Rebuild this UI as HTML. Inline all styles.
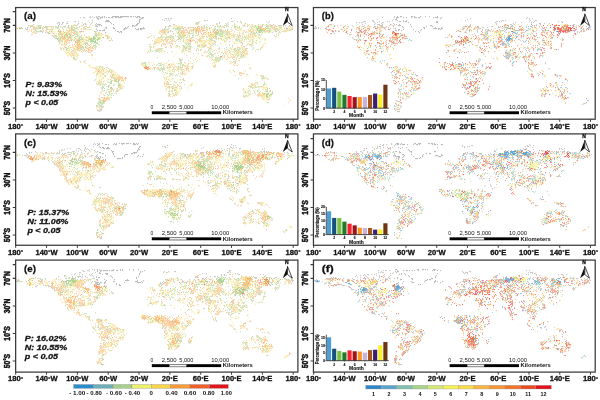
<!DOCTYPE html>
<html><head><meta charset="utf-8"><style>
html,body{margin:0;padding:0;background:#fff;width:600px;height:400px;overflow:hidden}
svg{display:block}
text{font-family:'Liberation Sans', Arial, Helvetica, sans-serif;fill:#111;stroke:#111;stroke-width:0.28px}
.l{stroke:none}
.h{stroke-width:0.42px}
.m{stroke-width:0.12px}
</style></head><body>
<svg width="600" height="400" viewBox="0 0 600 400">
<rect width="600" height="400" fill="#fff"/>
<g stroke-width="1.25" stroke-linecap="round" fill="none"><path d="M168.5 19.5h0m66 1h0m-35 1h0m-2 1h0m-106 1h0m105 0h0m21 0h0m2 0h0m6 0h0m2 0h0m7 0h0m-37 1h0m9 0h0m20 0h0m2 0h0m6 0h0m15 0h0m9 0h0m5 0h0m3 0h0m4 0h0m-239 1h0m7 0h0m2 0h0m1 0h0m30 0h0m2 0h0m2 0h0m135 0h0m7 0h0m3 0h0m4 0h0m2 0h0m1 0h0m7 0h0m10 0h0m8 0h0m2 0h0m12 0h0m1 0h0m11 0h0m-248 1h0m7 0h0m2 0h0m1 0h0m7 0h0m8 0h0m1 0h0m2 0h0m14 0h0m17 0h0m80 0h0m10 0h0m20 0h0m7 0h0m11 0h0m1 0h0m1 0h0m1 0h0m8 0h0m6 0h0m1 0h0m1 0h0m3 0h0m4 0h0m4 0h0m3 0h0m2 0h0m1 0h0m6 0h0m3 0h0m4 0h0m1 0h0m1 0h0m2 0h0m1 0h0m5 0h0m7 0h0m-253 1h0m4 0h0m2 0h0m2 0h0m1 0h0m5 0h0m1 0h0m10 0h0m1 0h0m1 0h0m1 0h0m9 0h0m4 0h0m2 0h0m1 0h0m2 0h0m1 0h0m6 0h0m4 0h0m1 0h0m86 0h0m4 0h0m1 0h0m13 0h0m14 0h0m1 0h0m2 0h0m2 0h0m3 0h0m5 0h0m2 0h0m3 0h0m7 0h0m3 0h0m1 0h0m3 0h0m1 0h0m12 0h0m3 0h0m2 0h0m1 0h0m1 0h0m7 0h0m2 0h0m7 0h0m7 0h0m5 0h0m6 0h0m-258 1h0m1 0h0m1 0h0m1 0h0m1 0h0m1 0h0m1 0h0m2 0h0m1 0h0m3 0h0m1 0h0m6 0h0m4 0h0m1 0h0m11 0h0m3 0h0m2 0h0m1 0h0m1 0h0m5 0h0m4 0h0m11 0h0m79 0h0m1 0h0m1 0h0m1 0h0m1 0h0m1 0h0m14 0h0m12 0h0m3 0h0m6 0h0m24 0h0m2 0h0m10 0h0m5 0h0m11 0h0m1 0h0m1 0h0m3 0h0m2 0h0m1 0h0m1 0h0m8 0h0m2 0h0m-240 1h0m4 0h0m1 0h0m1 0h0m20 0h0m1 0h0m1 0h0m11 0h0m4 0h0m75 0h0m1 0h0m11 0h0m3 0h0m1 0h0m34 0h0m1 0h0m4 0h0m1 0h0m1 0h0m6 0h0m4 0h0m9 0h0m19 0h0m10 0h0m7 0h0m3 0h0m7 0h0m5 0h0m-256 1h0m1 0h0m4 0h0m5 0h0m21 0h0m9 0h0m103 0h0m1 0h0m13 0h0m27 0h0m2 0h0m17 0h0m6 0h0m19 0h0m3 0h0m1 0h0m1 0h0m1 0h0m1 0h0m4 0h0m1 0h0m2 0h0m1 0h0m11 0h0m-253 1h0m1 0h0m1 0h0m1 0h0m35 0h0m1 0h0m1 0h0m4 0h0m86 0h0m15 0h0m10 0h0m2 0h0m23 0h0m5 0h0m1 0h0m2 0h0m29 0h0m5 0h0m2 0h0m1 0h0m2 0h0m3 0h0m13 0h0m4 0h0m2 0h0m-251 1h0m2 0h0m24 0h0m16 0h0m1 0h0m18 0h0m69 0h0m1 0h0m2 0h0m10 0h0m3 0h0m9 0h0m4 0h0m2 0h0m23 0h0m2 0h0m2 0h0m1 0h0m2 0h0m4 0h0m14 0h0m10 0h0m1 0h0m4 0h0m2 0h0m9 0h0m10 0h0m-221 1h0m19 0h0m18 0h0m1 0h0m2 0h0m81 0h0m2 0h0m9 0h0m1 0h0m1 0h0m25 0h0m2 0h0m1 0h0m1 0h0m3 0h0m2 0h0m1 0h0m2 0h0m25 0h0m3 0h0m21 0h0m-220 1h0m1 0h0m10 0h0m5 0h0m1 0h0m1 0h0m1 0h0m18 0h0m2 0h0m1 0h0m80 0h0m1 0h0m1 0h0m2 0h0m11 0h0m22 0h0m4 0h0m1 0h0m1 0h0m1 0h0m3 0h0m2 0h0m21 0h0m2 0h0m4 0h0m4 0h0m1 0h0m2 0h0m17 0h0m-213 1h0m1 0h0m6 0h0m1 0h0m4 0h0m1 0h0m21 0h0m52 0h0m2 0h0m8 0h0m9 0h0m1 0h0m4 0h0m4 0h0m1 0h0m9 0h0m3 0h0m1 0h0m4 0h0m11 0h0m2 0h0m8 0h0m1 0h0m1 0h0m2 0h0m5 0h0m7 0h0m4 0h0m10 0h0m26 0h0m-218 1h0m3 0h0m7 0h0m4 0h0m1 0h0m5 0h0m1 0h0m2 0h0m1 0h0m6 0h0m8 0h0m2 0h0m53 0h0m12 0h0m5 0h0m2 0h0m2 0h0m2 0h0m1 0h0m4 0h0m1 0h0m2 0h0m1 0h0m2 0h0m4 0h0m5 0h0m11 0h0m17 0h0m1 0h0m1 0h0m3 0h0m8 0h0m3 0h0m2 0h0m2 0h0m2 0h0m6 0h0m27 0h0m-219 1h0m2 0h0m2 0h0m20 0h0m1 0h0m14 0h0m3 0h0m4 0h0m7 0h0m39 0h0m10 0h0m1 0h0m1 0h0m2 0h0m3 0h0m1 0h0m1 0h0m1 0h0m2 0h0m3 0h0m5 0h0m2 0h0m1 0h0m2 0h0m9 0h0m19 0h0m5 0h0m10 0h0m2 0h0m14 0h0m5 0h0m-191 1h0m2 0h0m1 0h0m3 0h0m9 0h0m8 0h0m2 0h0m1 0h0m8 0h0m2 0h0m16 0h0m3 0h0m54 0h0m6 0h0m2 0h0m18 0h0m18 0h0m1 0h0m1 0h0m3 0h0m6 0h0m5 0h0m1 0h0m4 0h0m11 0h0m12 0h0m6 0h0m-200 1h0m1 0h0m3 0h0m8 0h0m3 0h0m5 0h0m13 0h0m4 0h0m65 0h0m3 0h0m4 0h0m4 0h0m5 0h0m3 0h0m3 0h0m16 0h0m7 0h0m4 0h0m1 0h0m5 0h0m5 0h0m14 0h0m1 0h0m2 0h0m4 0h0m2 0h0m2 0h0m2 0h0m17 0h0m-207 1h0m1 0h0m1 0h0m1 0h0m7 0h0m19 0h0m6 0h0m17 0h0m2 0h0m54 0h0m10 0h0m7 0h0m9 0h0m19 0h0m1 0h0m2 0h0m25 0h0m2 0h0m9 0h0m6 0h0m-195 1h0m21 0h0m6 0h0m2 0h0m9 0h0m73 0h0m2 0h0m9 0h0m7 0h0m9 0h0m1 0h0m14 0h0m1 0h0m9 0h0m1 0h0m4 0h0m10 0h0m10 0h0m3 0h0m1 0h0m7 0h0m-201 1h0m3 0h0m18 0h0m5 0h0m1 0h0m1 0h0m3 0h0m6 0h0m1 0h0m59 0h0m41 0h0m18 0h0m25 0h0m15 0h0m-196 1h0m5 0h0m20 0h0m1 0h0m8 0h0m3 0h0m71 0h0m5 0h0m13 0h0m3 0h0m1 0h0m1 0h0m22 0h0m2 0h0m42 0h0m9 0h0m-204 1h0m1 0h0m2 0h0m2 0h0m21 0h0m11 0h0m1 0h0m50 0h0m37 0h0m2 0h0m1 0h0m1 0h0m23 0h0m34 0h0m4 0h0m-171 1h0m6 0h0m7 0h0m2 0h0m81 0h0m1 0h0m5 0h0m1 0h0m4 0h0m2 0h0m8 0h0m2 0h0m2 0h0m3 0h0m7 0h0m6 0h0m12 0h0m12 0h0m8 0h0m3 0h0m-188 1h0m4 0h0m9 0h0m8 0h0m8 0h0m3 0h0m53 0h0m28 0h0m2 0h0m4 0h0m3 0h0m2 0h0m1 0h0m1 0h0m1 0h0m6 0h0m1 0h0m1 0h0m4 0h0m7 0h0m22 0h0m11 0h0m8 0h0m-191 1h0m6 0h0m15 0h0m1 0h0m1 0h0m8 0h0m1 0h0m2 0h0m57 0h0m2 0h0m18 0h0m12 0h0m1 0h0m1 0h0m1 0h0m4 0h0m11 0h0m18 0h0m7 0h0m4 0h0m23 0h0m-190 1h0m3 0h0m1 0h0m6 0h0m8 0h0m79 0h0m1 0h0m1 0h0m24 0h0m2 0h0m1 0h0m8 0h0m13 0h0m8 0h0m1 0h0m5 0h0m10 0h0m1 0h0m2 0h0m2 0h0m1 0h0m5 0h0m1 0h0m1 0h0m6 0h0m7 0h0m-197 1h0m8 0h0m3 0h0m6 0h0m4 0h0m66 0h0m6 0h0m2 0h0m1 0h0m37 0h0m4 0h0m8 0h0m18 0h0m7 0h0m1 0h0m1 0h0m3 0h0m6 0h0m8 0h0m6 0h0m-191 1h0m5 0h0m78 0h0m3 0h0m2 0h0m2 0h0m2 0h0m2 0h0m22 0h0m2 0h0m1 0h0m10 0h0m2 0h0m2 0h0m8 0h0m20 0h0m1 0h0m5 0h0m2 0h0m7 0h0m-172 1h0m77 0h0m2 0h0m2 0h0m3 0h0m1 0h0m1 0h0m1 0h0m6 0h0m7 0h0m11 0h0m6 0h0m19 0h0m2 0h0m3 0h0m23 0h0m5 0h0m3 0h0m-168 1h0m13 0h0m121 0h0m1 0h0m11 0h0m8 0h0m5 0h0m3 0h0m1 0h0m3 0h0m2 0h0m-170 1h0m111 0h0m9 0h0m5 0h0m13 0h0m4 0h0m8 0h0m13 0h0m1 0h0m9 0h0m1 0h0m-38 1h0m1 0h0m1 0h0m2 0h0m23 0h0m2 0h0m5 0h0m-166 1h0m134 0h0m1 0h0m6 0h0m4 0h0m2 0h0m11 0h0m2 0h0m1 0h0m3 0h0m-32 1h0m2 0h0m2 0h0m28 0h0m1 0h0m3 0h0m-172 1h0m84 0h0m53 0h0m5 0h0m5 0h0m1 0h0m12 0h0m1 0h0m7 0h0m2 0h0m-170 1h0m1 0h0m141 0h0m1 0h0m1 0h0m1 0h0m1 0h0m1 0h0m2 0h0m17 0h0m-165 1h0m1 0h0m104 0h0m1 0h0m1 0h0m1 0h0m30 0h0m2 0h0m3 0h0m2 0h0m1 0h0m6 0h0m8 0h0m-66 1h0m11 0h0m2 0h0m7 0h0m27 0h0m1 0h0m1 0h0m1 0h0m1 0h0m16 0h0m-155 1h0m4 0h0m96 0h0m16 0h0m22 0h0m13 0h0m2 0h0m1 0h0m1 0h0m-94 1h0m3 0h0m1 0h0m35 0h0m1 0h0m54 0h0m-92 1h0m1 0h0m1 0h0m13 0h0m1 0h0m1 0h0m18 0h0m1 0h0m1 0h0m1 0h0m11 0h0m-51 1h0m4 0h0m12 0h0m3 0h0m2 0h0m1 0h0m17 0h0m2 0h0m1 0h0m5 0h0m-32 1h0m3 0h0m1 0h0m1 0h0m19 0h0m2 0h0m1 0h0m31 0h0m-118 1h0m3 0h0m1 0h0m2 0h0m43 0h0m3 0h0m15 0h0m4 0h0m11 0h0m2 0h0m7 0h0m-88 1h0m3 0h0m4 0h0m55 0h0m3 0h0m3 0h0m3 0h0m6 0h0m3 0h0m1 0h0m1 0h0m11 0h0m-96 1h0m2 0h0m10 0h0m40 0h0m9 0h0m1 0h0m2 0h0m1 0h0m2 0h0m1 0h0m3 0h0m6 0h0m15 0h0m4 0h0m57 0h0m-147 1h0m7 0h0m45 0h0m4 0h0m1 0h0m2 0h0m1 0h0m1 0h0m1 0h0m8 0h0m2 0h0m3 0h0m1 0h0m2 0h0m-71 1h0m50 0h0m1 0h0m2 0h0m19 0h0m-73 1h0m1 0h0m53 0h0m12 0h0m60 0h0m-129 1h0m58 0h0m2 0h0m-68 1h0m6 0h0m63 0h0m1 0h0m2 0h0m2 0h0m1 0h0m6 0h0m-82 1h0m16 0h0m52 0h0m6 0h0m3 0h0m-69 1h0m1 0h0m7 0h0m57 0h0m3 0h0m3 0h0m2 0h0m58 0h0m28 0h0m-158 1h0m7 0h0m149 0h0m1 0h0m1 0h0m-151 1h0m7 0h0m45 0h0m-51 1h0m1 0h0m6 0h0m53 0h0m10 0h0m55 0h0m23 0h0m1 0h0m1 0h0m1 0h0m-169 1h0m13 0h0m6 0h0m52 0h0m2 0h0m12 0h0m-86 1h0m17 0h0m1 0h0m7 0h0m50 0h0m14 0h0m-80 1h0m7 0h0m7 0h0m57 0h0m-65 1h0m9 0h0m46 0h0m4 0h0m7 0h0m4 0h0m2 0h0m75 0h0m1 0h0m7 0h0m-168 1h0m4 0h0m2 0h0m3 0h0m6 0h0m7 0h0m1 0h0m49 0h0m83 0h0m13 0h0m-167 1h0m1 0h0m5 0h0m1 0h0m14 0h0m1 0h0m2 0h0m46 0h0m1 0h0m2 0h0m4 0h0m3 0h0m7 0h0m70 0h0m9 0h0m1 0h0m2 0h0m-166 1h0m4 0h0m4 0h0m1 0h0m4 0h0m60 0h0m79 0h0m11 0h0m-161 1h0m1 0h0m3 0h0m12 0h0m62 0h0m70 0h0m1 0h0m4 0h0m2 0h0m3 0h0m1 0h0m-160 1h0m1 0h0m1 0h0m5 0h0m2 0h0m9 0h0m1 0h0m47 0h0m2 0h0m6 0h0m6 0h0m69 0h0m3 0h0m2 0h0m1 0h0m2 0h0m-154 1h0m6 0h0m1 0h0m1 0h0m5 0h0m3 0h0m2 0h0m44 0h0m3 0h0m12 0h0m67 0h0m4 0h0m-150 1h0m5 0h0m1 0h0m3 0h0m1 0h0m7 0h0m139 0h0m7 0h0m2 0h0m-165 1h0m2 0h0m12 0h0m2 0h0m51 0h0m6 0h0m73 0h0m1 0h0m4 0h0m4 0h0m9 0h0m1 0h0m-159 1h0m1 0h0m4 0h0m4 0h0m51 0h0m3 0h0m1 0h0m4 0h0m78 0h0m3 0h0m1 0h0m7 0h0m1 0h0m6 0h0m-166 1h0m3 0h0m66 0h0m69 0h0m10 0h0m5 0h0m13 0h0m-167 1h0m4 0h0m2 0h0m1 0h0m2 0h0m54 0h0m4 0h0m5 0h0m72 0h0m14 0h0m8 0h0m-164 1h0m2 0h0m1 0h0m60 0h0m6 0h0m73 0h0m1 0h0m9 0h0m5 0h0m4 0h0m-160 1h0m3 0h0m2 0h0m60 0h0m1 0h0m69 0h0m3 0h0m21 0h0m-24 1h0m1 0h0m26 0h0m-172 2h0m11 1h0m-10 1h0m2 0h0m5 0h0m-7 1h0m1 0h0m5 0h0m-7 1h0m1 0h0m1 0h0m1 0h0m1 0h0m1 0h0m1 0h0m163 0h0m1 0h0m-171 1h0m2 0h0m1 0h0m1 0h0m1 0h0m1 0h0m-4 1h0m2 0h0m1 0h0m-6 1h0m1 0h0m2 0h0m1 0h0m1 0h0m-5 1h0m1 0h0m2 0h0m1 0h0m1 0h0m1 1h0m-5 2h0" stroke="#c4dfb5"/><path d="M88.5 20.5h0m178 1h0m-38 1h0m-144 1h0m111 0h0m2 0h0m19 0h0m-142 1h0m12 0h0m110 0h0m20 0h0m1 0h0m30 0h0m5 0h0m10 0h0m7 0h0m-239 1h0m9 0h0m42 0h0m11 0h0m84 0h0m37 0h0m12 0h0m7 0h0m10 0h0m1 0h0m4 0h0m1 0h0m7 0h0m3 0h0m10 0h0m2 0h0m2 0h0m2 0h0m1 0h0m-244 1h0m1 0h0m1 0h0m1 0h0m4 0h0m10 0h0m1 0h0m1 0h0m34 0h0m2 0h0m95 0h0m1 0h0m19 0h0m21 0h0m1 0h0m3 0h0m19 0h0m24 0h0m3 0h0m2 0h0m1 0h0m4 0h0m-263 1h0m17 0h0m2 0h0m7 0h0m4 0h0m1 0h0m23 0h0m2 0h0m12 0h0m5 0h0m92 0h0m1 0h0m2 0h0m1 0h0m4 0h0m1 0h0m1 0h0m8 0h0m4 0h0m20 0h0m14 0h0m22 0h0m2 0h0m10 0h0m1 0h0m1 0h0m6 0h0m1 0h0m-247 1h0m50 0h0m1 0h0m2 0h0m95 0h0m1 0h0m5 0h0m1 0h0m5 0h0m2 0h0m1 0h0m5 0h0m2 0h0m1 0h0m10 0h0m21 0h0m2 0h0m15 0h0m9 0h0m3 0h0m6 0h0m3 0h0m4 0h0m3 0h0m9 0h0m3 0h0m-261 1h0m2 0h0m1 0h0m8 0h0m5 0h0m1 0h0m22 0h0m7 0h0m4 0h0m2 0h0m80 0h0m3 0h0m17 0h0m2 0h0m1 0h0m4 0h0m1 0h0m3 0h0m1 0h0m8 0h0m3 0h0m1 0h0m2 0h0m4 0h0m22 0h0m1 0h0m12 0h0m2 0h0m2 0h0m4 0h0m7 0h0m1 0h0m6 0h0m3 0h0m1 0h0m1 0h0m2 0h0m7 0h0m5 0h0m1 0h0m-261 1h0m2 0h0m21 0h0m8 0h0m7 0h0m3 0h0m1 0h0m1 0h0m2 0h0m86 0h0m1 0h0m1 0h0m1 0h0m1 0h0m1 0h0m15 0h0m1 0h0m1 0h0m1 0h0m1 0h0m1 0h0m1 0h0m1 0h0m2 0h0m1 0h0m1 0h0m6 0h0m2 0h0m6 0h0m2 0h0m6 0h0m3 0h0m4 0h0m2 0h0m1 0h0m4 0h0m5 0h0m5 0h0m6 0h0m5 0h0m1 0h0m1 0h0m3 0h0m2 0h0m25 0h0m5 0h0m2 0h0m1 0h0m2 0h0m-262 1h0m3 0h0m2 0h0m1 0h0m27 0h0m7 0h0m1 0h0m2 0h0m8 0h0m3 0h0m13 0h0m1 0h0m64 0h0m1 0h0m2 0h0m15 0h0m1 0h0m3 0h0m1 0h0m1 0h0m3 0h0m10 0h0m1 0h0m1 0h0m1 0h0m2 0h0m4 0h0m17 0h0m3 0h0m1 0h0m1 0h0m1 0h0m2 0h0m13 0h0m2 0h0m3 0h0m1 0h0m1 0h0m1 0h0m4 0h0m9 0h0m2 0h0m15 0h0m2 0h0m2 0h0m-254 1h0m1 0h0m19 0h0m14 0h0m1 0h0m1 0h0m2 0h0m1 0h0m1 0h0m1 0h0m7 0h0m18 0h0m1 0h0m62 0h0m1 0h0m1 0h0m21 0h0m1 0h0m1 0h0m1 0h0m1 0h0m12 0h0m3 0h0m1 0h0m9 0h0m13 0h0m1 0h0m1 0h0m11 0h0m6 0h0m20 0h0m3 0h0m12 0h0m-230 1h0m11 0h0m2 0h0m5 0h0m3 0h0m2 0h0m1 0h0m1 0h0m1 0h0m74 0h0m9 0h0m4 0h0m1 0h0m1 0h0m12 0h0m5 0h0m1 0h0m1 0h0m5 0h0m9 0h0m5 0h0m1 0h0m3 0h0m4 0h0m3 0h0m14 0h0m3 0h0m2 0h0m9 0h0m8 0h0m2 0h0m1 0h0m-222 1h0m1 0h0m28 0h0m11 0h0m25 0h0m3 0h0m3 0h0m60 0h0m3 0h0m1 0h0m21 0h0m15 0h0m1 0h0m2 0h0m3 0h0m4 0h0m14 0h0m3 0h0m1 0h0m3 0h0m2 0h0m2 0h0m2 0h0m4 0h0m9 0h0m1 0h0m23 0h0m-217 1h0m2 0h0m1 0h0m22 0h0m13 0h0m4 0h0m5 0h0m1 0h0m75 0h0m13 0h0m29 0h0m8 0h0m1 0h0m4 0h0m3 0h0m6 0h0m4 0h0m4 0h0m1 0h0m1 0h0m3 0h0m19 0h0m-224 1h0m1 0h0m5 0h0m3 0h0m2 0h0m41 0h0m2 0h0m61 0h0m2 0h0m8 0h0m20 0h0m3 0h0m4 0h0m4 0h0m4 0h0m14 0h0m21 0h0m6 0h0m21 0h0m-214 1h0m1 0h0m5 0h0m17 0h0m2 0h0m13 0h0m7 0h0m40 0h0m7 0h0m9 0h0m6 0h0m3 0h0m7 0h0m12 0h0m2 0h0m7 0h0m2 0h0m5 0h0m8 0h0m12 0h0m7 0h0m16 0h0m2 0h0m7 0h0m-198 1h0m9 0h0m8 0h0m79 0h0m4 0h0m9 0h0m8 0h0m12 0h0m6 0h0m3 0h0m1 0h0m1 0h0m2 0h0m9 0h0m3 0h0m1 0h0m5 0h0m6 0h0m9 0h0m12 0h0m16 0h0m-206 1h0m4 0h0m2 0h0m2 0h0m2 0h0m2 0h0m2 0h0m4 0h0m5 0h0m30 0h0m44 0h0m7 0h0m4 0h0m1 0h0m3 0h0m4 0h0m12 0h0m1 0h0m1 0h0m1 0h0m1 0h0m3 0h0m4 0h0m1 0h0m25 0h0m16 0h0m12 0h0m1 0h0m-190 1h0m3 0h0m1 0h0m4 0h0m3 0h0m1 0h0m2 0h0m7 0h0m5 0h0m13 0h0m51 0h0m7 0h0m3 0h0m1 0h0m4 0h0m4 0h0m1 0h0m1 0h0m15 0h0m1 0h0m4 0h0m1 0h0m4 0h0m1 0h0m1 0h0m1 0h0m3 0h0m5 0h0m4 0h0m11 0h0m2 0h0m26 0h0m-193 1h0m3 0h0m2 0h0m1 0h0m1 0h0m10 0h0m8 0h0m70 0h0m1 0h0m1 0h0m4 0h0m1 0h0m2 0h0m3 0h0m1 0h0m3 0h0m5 0h0m3 0h0m2 0h0m9 0h0m2 0h0m4 0h0m6 0h0m4 0h0m5 0h0m-146 1h0m1 0h0m1 0h0m2 0h0m1 0h0m9 0h0m1 0h0m78 0h0m1 0h0m1 0h0m7 0h0m2 0h0m1 0h0m2 0h0m17 0h0m2 0h0m5 0h0m9 0h0m48 0h0m-186 1h0m1 0h0m20 0h0m4 0h0m64 0h0m7 0h0m1 0h0m1 0h0m5 0h0m1 0h0m1 0h0m4 0h0m11 0h0m1 0h0m16 0h0m1 0h0m4 0h0m1 0h0m11 0h0m14 0h0m14 0h0m4 0h0m-180 1h0m8 0h0m3 0h0m5 0h0m2 0h0m5 0h0m55 0h0m3 0h0m8 0h0m2 0h0m1 0h0m1 0h0m7 0h0m27 0h0m2 0h0m1 0h0m3 0h0m5 0h0m32 0h0m7 0h0m-180 1h0m3 0h0m7 0h0m2 0h0m80 0h0m4 0h0m5 0h0m28 0h0m4 0h0m1 0h0m2 0h0m1 0h0m40 0h0m-170 1h0m2 0h0m1 0h0m1 0h0m1 0h0m6 0h0m5 0h0m3 0h0m55 0h0m3 0h0m8 0h0m5 0h0m4 0h0m1 0h0m5 0h0m26 0h0m3 0h0m32 0h0m25 0h0m-200 1h0m10 0h0m4 0h0m2 0h0m1 0h0m7 0h0m2 0h0m2 0h0m5 0h0m55 0h0m15 0h0m1 0h0m21 0h0m16 0h0m4 0h0m1 0h0m2 0h0m27 0h0m1 0h0m1 0h0m2 0h0m20 0h0m1 0h0m-202 1h0m1 0h0m7 0h0m6 0h0m3 0h0m2 0h0m1 0h0m6 0h0m2 0h0m2 0h0m1 0h0m1 0h0m1 0h0m2 0h0m55 0h0m8 0h0m1 0h0m24 0h0m7 0h0m40 0h0m12 0h0m-181 1h0m15 0h0m6 0h0m3 0h0m10 0h0m62 0h0m3 0h0m22 0h0m1 0h0m7 0h0m8 0h0m3 0h0m18 0h0m12 0h0m8 0h0m3 0h0m3 0h0m1 0h0m11 0h0m3 0h0m-183 1h0m1 0h0m1 0h0m4 0h0m1 0h0m4 0h0m1 0h0m1 0h0m1 0h0m1 0h0m64 0h0m6 0h0m26 0h0m36 0h0m11 0h0m2 0h0m7 0h0m1 0h0m1 0h0m-174 1h0m2 0h0m1 0h0m6 0h0m2 0h0m2 0h0m2 0h0m1 0h0m3 0h0m69 0h0m36 0h0m8 0h0m1 0h0m14 0h0m6 0h0m1 0h0m1 0h0m6 0h0m4 0h0m2 0h0m3 0h0m2 0h0m2 0h0m-178 1h0m8 0h0m14 0h0m57 0h0m12 0h0m8 0h0m37 0h0m2 0h0m19 0h0m17 0h0m2 0h0m-178 1h0m3 0h0m2 0h0m1 0h0m2 0h0m136 0h0m4 0h0m3 0h0m8 0h0m3 0h0m12 0h0m2 0h0m2 0h0m1 0h0m-176 1h0m3 0h0m4 0h0m15 0h0m1 0h0m120 0h0m14 0h0m5 0h0m1 0h0m1 0h0m14 0h0m-177 1h0m2 0h0m1 0h0m1 0h0m18 0h0m94 0h0m21 0h0m1 0h0m19 0h0m6 0h0m9 0h0m-169 1h0m3 0h0m130 0h0m1 0h0m17 0h0m3 0h0m4 0h0m2 0h0m1 0h0m3 0h0m3 0h0m-44 1h0m16 0h0m4 0h0m2 0h0m6 0h0m4 0h0m2 0h0m2 0h0m4 0h0m4 0h0m-61 1h0m32 0h0m16 0h0m5 0h0m4 0h0m-160 1h0m119 0h0m20 0h0m1 0h0m17 0h0m3 0h0m-151 1h0m108 0h0m18 0h0m2 0h0m25 0h0m1 0h0m-156 1h0m107 0h0m26 0h0m-136 1h0m68 0h0m36 0h0m30 0h0m18 0h0m2 0h0m-149 1h0m81 0h0m19 0h0m3 0h0m24 0h0m18 0h0m4 0h0m1 0h0m-81 1h0m18 0h0m1 0h0m42 0h0m18 0h0m-144 1h0m54 0h0m9 0h0m17 0h0m5 0h0m10 0h0m2 0h0m1 0h0m6 0h0m20 0h0m21 0h0m2 0h0m1 0h0m-68 1h0m1 0h0m2 0h0m3 0h0m2 0h0m5 0h0m2 0h0m1 0h0m3 0h0m25 0h0m1 0h0m-122 1h0m3 0h0m6 0h0m6 0h0m46 0h0m2 0h0m2 0h0m1 0h0m5 0h0m5 0h0m1 0h0m4 0h0m1 0h0m8 0h0m4 0h0m1 0h0m27 0h0m-120 1h0m1 0h0m4 0h0m3 0h0m2 0h0m48 0h0m2 0h0m8 0h0m15 0h0m1 0h0m3 0h0m4 0h0m1 0h0m1 0h0m63 0h0m-154 1h0m1 0h0m1 0h0m2 0h0m3 0h0m3 0h0m4 0h0m40 0h0m19 0h0m6 0h0m6 0h0m1 0h0m1 0h0m3 0h0m1 0h0m1 0h0m-91 1h0m1 0h0m1 0h0m2 0h0m2 0h0m8 0h0m1 0h0m58 0h0m2 0h0m4 0h0m8 0h0m2 0h0m2 0h0m41 0h0m4 0h0m-134 1h0m1 0h0m3 0h0m3 0h0m5 0h0m2 0h0m60 0h0m5 0h0m11 0h0m56 0h0m-148 1h0m2 0h0m1 0h0m8 0h0m2 0h0m1 0h0m69 0h0m5 0h0m54 0h0m1 0h0m1 0h0m-143 1h0m3 0h0m1 0h0m9 0h0m2 0h0m57 0h0m12 0h0m1 0h0m56 0h0m1 0h0m1 0h0m1 0h0m1 0h0m1 0h0m-147 1h0m5 0h0m1 0h0m68 0h0m13 0h0m1 0h0m54 0h0m17 0h0m-160 1h0m4 0h0m10 0h0m7 0h0m2 0h0m51 0h0m70 0h0m1 0h0m19 0h0m1 0h0m-161 1h0m10 0h0m1 0h0m5 0h0m2 0h0m1 0h0m1 0h0m2 0h0m58 0h0m-67 1h0m3 0h0m1 0h0m1 0h0m2 0h0m1 0h0m1 0h0m140 0h0m3 0h0m-162 1h0m14 0h0m1 0h0m3 0h0m1 0h0m2 0h0m1 0h0m1 0h0m46 0h0m-57 1h0m4 0h0m3 0h0m1 0h0m2 0h0m58 0h0m79 0h0m6 0h0m-169 1h0m17 0h0m6 0h0m1 0h0m-25 1h0m1 0h0m2 0h0m6 0h0m7 0h0m1 0h0m8 0h0m-25 1h0m1 0h0m2 0h0m7 0h0m68 0h0m79 0h0m-157 1h0m66 0h0m1 0h0m1 0h0m1 0h0m13 0h0m74 0h0m-154 1h0m1 0h0m1 0h0m4 0h0m58 0h0m2 0h0m3 0h0m22 0h0m60 0h0m1 0h0m1 0h0m4 0h0m-137 1h0m46 0h0m9 0h0m3 0h0m13 0h0m58 0h0m2 0h0m2 0h0m2 0h0m-135 1h0m2 0h0m1 0h0m42 0h0m1 0h0m2 0h0m9 0h0m2 0h0m69 0h0m1 0h0m9 0h0m4 0h0m-144 1h0m50 0h0m3 0h0m3 0h0m77 0h0m1 0h0m11 0h0m3 0h0m-164 1h0m14 0h0m5 0h0m52 0h0m6 0h0m64 0h0m-129 1h0m3 0h0m58 0h0m69 0h0m-134 1h0m1 0h0m2 0h0m4 0h0m49 0h0m6 0h0m71 0h0m-142 1h0m9 0h0m1 0h0m139 0h0m-150 1h0m147 0h0m1 0h0m-147 1h0m15 0h0m53 0h0m6 0h0m77 0h0m3 0h0m3 0h0m1 0h0m-156 1h0m70 0h0m2 0h0m82 0h0m1 0h0m-159 1h0m69 0h0m1 0h0m7 0h0m69 0h0m3 0h0m9 0h0m1 0h0m1 0h0m1 0h0m1 0h0m1 0h0m-163 1h0m8 0h0m61 0h0m2 0h0m2 0h0m73 0h0m2 0h0m11 0h0m-156 1h0m1 0h0m3 0h0m1 0h0m1 0h0m154 0h0m7 0h0m-170 1h0m6 0h0m2 0h0m1 0h0m155 0h0m25 0h0m-190 1h0m1 0h0m1 0h0m4 0h0m1 0h0m1 0h0m1 0h0m1 0h0m-8 1h0m2 0h0m2 0h0m1 0h0m184 0h0m-187 1h0m186 1h0m-190 1h0m0 1h0m4 2h0m-4 1h0m1 0h0m1 1h0m1 0h0m-2 1h0m1 0h0" stroke="#fbd2a6"/><path d="M167.5 20.5h0m33 1h0m41 2h0m-168 1h0m125 0h0m53 0h0m-214 1h0m29 0h0m16 0h0m13 0h0m79 0h0m1 0h0m2 0h0m1 0h0m29 0h0m5 0h0m53 0h0m-213 1h0m9 0h0m110 0h0m4 0h0m1 0h0m1 0h0m1 0h0m2 0h0m22 0h0m22 0h0m25 0h0m2 0h0m5 0h0m24 0h0m1 0h0m7 0h0m1 0h0m1 0h0m2 0h0m-251 1h0m10 0h0m1 0h0m12 0h0m116 0h0m110 0h0m1 0h0m-242 1h0m2 0h0m1 0h0m10 0h0m6 0h0m150 0h0m3 0h0m28 0h0m16 0h0m20 0h0m6 0h0m-242 1h0m17 0h0m18 0h0m3 0h0m1 0h0m2 0h0m1 0h0m87 0h0m14 0h0m20 0h0m29 0h0m13 0h0m27 0h0m6 0h0m-253 1h0m7 0h0m8 0h0m1 0h0m109 0h0m16 0h0m66 0h0m13 0h0m2 0h0m9 0h0m18 0h0m3 0h0m-236 1h0m2 0h0m1 0h0m106 0h0m3 0h0m3 0h0m11 0h0m92 0h0m-214 1h0m7 0h0m1 0h0m3 0h0m14 0h0m17 0h0m63 0h0m33 0h0m4 0h0m13 0h0m10 0h0m2 0h0m-167 1h0m2 0h0m6 0h0m32 0h0m66 0h0m15 0h0m3 0h0m2 0h0m30 0h0m29 0h0m2 0h0m-162 1h0m27 0h0m55 0h0m11 0h0m9 0h0m3 0h0m1 0h0m66 0h0m-193 1h0m123 0h0m17 0h0m4 0h0m4 0h0m22 0h0m14 0h0m9 0h0m1 0h0m1 0h0m-144 1h0m51 0h0m7 0h0m17 0h0m5 0h0m12 0h0m3 0h0m3 0h0m1 0h0m1 0h0m20 0h0m10 0h0m6 0h0m1 0h0m4 0h0m-167 1h0m5 0h0m1 0h0m19 0h0m2 0h0m61 0h0m11 0h0m2 0h0m1 0h0m18 0h0m7 0h0m8 0h0m2 0h0m2 0h0m11 0h0m6 0h0m1 0h0m3 0h0m1 0h0m2 0h0m2 0h0m-181 1h0m9 0h0m1 0h0m6 0h0m1 0h0m2 0h0m1 0h0m1 0h0m12 0h0m58 0h0m1 0h0m1 0h0m6 0h0m6 0h0m17 0h0m40 0h0m8 0h0m3 0h0m5 0h0m1 0h0m1 0h0m3 0h0m-189 1h0m23 0h0m1 0h0m1 0h0m70 0h0m1 0h0m1 0h0m1 0h0m1 0h0m40 0h0m1 0h0m7 0h0m4 0h0m38 0h0m-186 1h0m16 0h0m5 0h0m70 0h0m1 0h0m1 0h0m1 0h0m6 0h0m1 0h0m21 0h0m1 0h0m15 0h0m1 0h0m2 0h0m2 0h0m1 0h0m2 0h0m25 0h0m5 0h0m2 0h0m2 0h0m-184 1h0m21 0h0m76 0h0m1 0h0m38 0h0m1 0h0m6 0h0m3 0h0m1 0h0m4 0h0m21 0h0m5 0h0m1 0h0m2 0h0m3 0h0m5 0h0m8 0h0m-175 1h0m2 0h0m72 0h0m46 0h0m4 0h0m3 0h0m2 0h0m2 0h0m1 0h0m1 0h0m12 0h0m8 0h0m25 0h0m-199 1h0m15 0h0m8 0h0m76 0h0m36 0h0m2 0h0m8 0h0m5 0h0m1 0h0m2 0h0m8 0h0m12 0h0m3 0h0m1 0h0m-174 1h0m2 0h0m11 0h0m6 0h0m74 0h0m48 0h0m5 0h0m2 0h0m14 0h0m4 0h0m11 0h0m12 0h0m10 0h0m-201 1h0m124 0h0m25 0h0m41 0h0m12 0h0m-190 1h0m1 0h0m139 0h0m28 0h0m1 0h0m-178 1h0m5 0h0m4 0h0m1 0h0m102 0h0m4 0h0m29 0h0m2 0h0m31 0h0m2 0h0m-169 1h0m1 0h0m79 0h0m24 0h0m5 0h0m10 0h0m17 0h0m10 0h0m10 0h0m1 0h0m11 0h0m-178 1h0m4 0h0m4 0h0m2 0h0m4 0h0m105 0h0m25 0h0m1 0h0m1 0h0m1 0h0m24 0h0m1 0h0m4 0h0m15 0h0m-190 1h0m2 0h0m2 0h0m5 0h0m5 0h0m2 0h0m99 0h0m1 0h0m28 0h0m4 0h0m2 0h0m23 0h0m16 0h0m-189 1h0m2 0h0m1 0h0m4 0h0m6 0h0m102 0h0m2 0h0m1 0h0m5 0h0m47 0h0m9 0h0m2 0h0m8 0h0m-189 1h0m1 0h0m3 0h0m1 0h0m1 0h0m2 0h0m75 0h0m33 0h0m8 0h0m28 0h0m4 0h0m13 0h0m1 0h0m3 0h0m1 0h0m6 0h0m1 0h0m-170 1h0m120 0h0m29 0h0m1 0h0m3 0h0m8 0h0m1 0h0m2 0h0m-175 1h0m4 0h0m1 0h0m2 0h0m4 0h0m1 0h0m96 0h0m46 0h0m10 0h0m4 0h0m1 0h0m2 0h0m3 0h0m2 0h0m2 0h0m1 0h0m1 0h0m-179 1h0m4 0h0m4 0h0m3 0h0m123 0h0m29 0h0m9 0h0m5 0h0m1 0h0m-177 1h0m148 0h0m6 0h0m13 0h0m9 0h0m-175 1h0m8 0h0m103 0h0m39 0h0m10 0h0m13 0h0m-150 1h0m98 0h0m19 0h0m16 0h0m4 0h0m-156 1h0m22 0h0m104 0h0m28 0h0m-152 1h0m122 0h0m33 0h0m-15 1h0m2 0h0m10 0h0m2 0h0m-145 1h0m59 0h0m10 0h0m8 0h0m2 0h0m50 0h0m-52 1h0m3 0h0m5 0h0m2 0h0m18 0h0m2 0h0m40 0h0m-89 1h0m29 0h0m14 0h0m53 0h0m-96 1h0m4 0h0m17 0h0m1 0h0m1 0h0m6 0h0m-73 1h0m45 0h0m47 0h0m1 0h0m2 0h0m-103 1h0m3 0h0m10 0h0m63 0h0m25 0h0m59 0h0m-71 1h0m-78 1h0m3 0h0m56 0h0m8 0h0m22 0h0m-95 1h0m12 0h0m3 0h0m133 0h0m-148 1h0m1 0h0m6 0h0m5 0h0m3 0h0m59 0h0m14 0h0m5 0h0m-95 1h0m1 0h0m12 0h0m6 0h0m2 0h0m1 0h0m-22 1h0m3 0h0m11 0h0m73 0h0m7 0h0m-73 1h0m2 0h0m1 0h0m129 0h0m-133 1h0m1 0h0m65 0h0m78 0h0m5 0h0m-158 1h0m10 0h0m1 0h0m48 0h0m3 0h0m2 0h0m78 0h0m2 0h0m-152 1h0m6 0h0m1 0h0m12 0h0m50 0h0m1 0h0m1 0h0m99 0h0m-155 1h0m5 0h0m48 0h0m1 0h0m1 0h0m3 0h0m2 0h0m95 0h0m-167 1h0m18 0h0m3 0h0m44 0h0m7 0h0m8 0h0m-75 1h0m2 0h0m19 0h0m40 0h0m0 1h0m1 0h0m4 0h0m2 0h0m-72 1h0m3 0h0m63 0h0m1 0h0m-43 1h0m49 0h0m79 0h0m-81 1h0m2 0h0m-52 1h0m43 0h0m13 0h0m87 0h0m-145 1h0m2 0h0m50 0h0m2 0h0m81 0h0m9 0h0m-142 1h0m1 0h0m48 0h0m2 0h0m1 0h0m15 0h0m66 0h0m7 0h0m3 0h0m1 0h0m2 0h0m-92 1h0m78 0h0m10 0h0m-154 1h0m11 0h0m45 0h0m4 0h0m3 0h0m5 0h0m65 0h0m1 0h0m19 0h0m1 0h0m-157 1h0m65 0h0m6 0h0m3 0h0m66 0h0m13 0h0m-156 1h0m157 0h0m-145 1h0m56 0h0m5 0h0m-68 1h0m68 0h0m68 0h0m2 0h0m14 0h0m2 0h0m-94 1h0m77 0h0m3 0h0m12 0h0m1 0h0m1 0h0m-87 1h0m88 0h0m1 0h0m-154 1h0m150 0h0m1 0h0m1 0h0m2 0h0m-20 1h0m1 0h0m16 0h0m3 0h0m-2 2h0m1 0h0m1 0h0m1 0h0m2 0h0m-169 2h0m168 1h0m-164 3h0m182 0h0m-188 2h0m0 1h0m3 2h0" stroke="#fdebae"/><path d="M79.5 23.5h0m164 0h0m1 0h0m3 0h0m-12 1h0m1 0h0m24 0h0m5 0h0m2 0h0m-238 1h0m36 0h0m4 0h0m3 0h0m101 0h0m64 0h0m19 0h0m1 0h0m2 0h0m10 0h0m-233 1h0m21 0h0m16 0h0m8 0h0m1 0h0m84 0h0m4 0h0m3 0h0m1 0h0m23 0h0m6 0h0m34 0h0m17 0h0m3 0h0m16 0h0m4 0h0m1 0h0m-241 1h0m32 0h0m10 0h0m11 0h0m83 0h0m2 0h0m1 0h0m42 0h0m18 0h0m13 0h0m3 0h0m1 0h0m16 0h0m9 0h0m10 0h0m-229 1h0m7 0h0m4 0h0m7 0h0m3 0h0m85 0h0m4 0h0m41 0h0m1 0h0m23 0h0m4 0h0m2 0h0m13 0h0m1 0h0m1 0h0m16 0h0m7 0h0m1 0h0m2 0h0m-252 1h0m3 0h0m7 0h0m16 0h0m14 0h0m6 0h0m1 0h0m2 0h0m90 0h0m1 0h0m4 0h0m8 0h0m29 0h0m6 0h0m14 0h0m8 0h0m1 0h0m14 0h0m2 0h0m13 0h0m3 0h0m7 0h0m4 0h0m6 0h0m-229 1h0m9 0h0m98 0h0m1 0h0m1 0h0m3 0h0m6 0h0m33 0h0m8 0h0m22 0h0m2 0h0m9 0h0m1 0h0m19 0h0m1 0h0m4 0h0m-249 1h0m16 0h0m2 0h0m9 0h0m1 0h0m2 0h0m13 0h0m3 0h0m4 0h0m90 0h0m50 0h0m2 0h0m6 0h0m5 0h0m9 0h0m3 0h0m6 0h0m22 0h0m2 0h0m1 0h0m-236 1h0m12 0h0m2 0h0m12 0h0m6 0h0m6 0h0m3 0h0m80 0h0m8 0h0m40 0h0m18 0h0m8 0h0m5 0h0m9 0h0m1 0h0m5 0h0m12 0h0m2 0h0m1 0h0m4 0h0m7 0h0m-227 1h0m46 0h0m2 0h0m107 0h0m6 0h0m11 0h0m7 0h0m18 0h0m1 0h0m2 0h0m26 0h0m-214 1h0m15 0h0m6 0h0m20 0h0m69 0h0m33 0h0m1 0h0m21 0h0m3 0h0m1 0h0m2 0h0m8 0h0m-189 1h0m1 0h0m14 0h0m1 0h0m13 0h0m16 0h0m2 0h0m78 0h0m10 0h0m8 0h0m5 0h0m13 0h0m9 0h0m2 0h0m1 0h0m3 0h0m2 0h0m13 0h0m3 0h0m13 0h0m-203 1h0m11 0h0m4 0h0m13 0h0m12 0h0m2 0h0m1 0h0m3 0h0m59 0h0m1 0h0m1 0h0m36 0h0m23 0h0m1 0h0m6 0h0m1 0h0m1 0h0m3 0h0m2 0h0m10 0h0m6 0h0m1 0h0m4 0h0m2 0h0m-189 1h0m1 0h0m5 0h0m1 0h0m4 0h0m8 0h0m59 0h0m4 0h0m8 0h0m53 0h0m9 0h0m1 0h0m1 0h0m6 0h0m1 0h0m5 0h0m12 0h0m2 0h0m2 0h0m1 0h0m2 0h0m1 0h0m1 0h0m2 0h0m15 0h0m-209 1h0m3 0h0m4 0h0m7 0h0m71 0h0m5 0h0m11 0h0m2 0h0m13 0h0m1 0h0m1 0h0m1 0h0m17 0h0m17 0h0m5 0h0m14 0h0m1 0h0m5 0h0m12 0h0m2 0h0m3 0h0m1 0h0m-197 1h0m4 0h0m4 0h0m26 0h0m1 0h0m69 0h0m10 0h0m12 0h0m1 0h0m26 0h0m4 0h0m2 0h0m2 0h0m1 0h0m3 0h0m2 0h0m8 0h0m13 0h0m1 0h0m6 0h0m2 0h0m2 0h0m-201 1h0m18 0h0m1 0h0m72 0h0m6 0h0m1 0h0m13 0h0m6 0h0m2 0h0m2 0h0m1 0h0m36 0h0m1 0h0m1 0h0m30 0h0m1 0h0m3 0h0m3 0h0m4 0h0m-197 1h0m2 0h0m16 0h0m74 0h0m10 0h0m13 0h0m3 0h0m1 0h0m12 0h0m4 0h0m2 0h0m5 0h0m26 0h0m1 0h0m10 0h0m1 0h0m3 0h0m9 0h0m5 0h0m-203 1h0m23 0h0m8 0h0m62 0h0m6 0h0m1 0h0m19 0h0m4 0h0m2 0h0m12 0h0m4 0h0m1 0h0m21 0h0m9 0h0m18 0h0m-186 1h0m15 0h0m1 0h0m1 0h0m75 0h0m1 0h0m38 0h0m4 0h0m2 0h0m5 0h0m34 0h0m6 0h0m4 0h0m2 0h0m5 0h0m5 0h0m1 0h0m-110 1h0m1 0h0m42 0h0m3 0h0m3 0h0m34 0h0m9 0h0m17 0h0m-200 1h0m13 0h0m20 0h0m57 0h0m31 0h0m2 0h0m67 0h0m-190 1h0m20 0h0m68 0h0m3 0h0m21 0h0m3 0h0m7 0h0m2 0h0m13 0h0m1 0h0m62 0h0m-195 1h0m107 0h0m4 0h0m9 0h0m1 0h0m9 0h0m1 0h0m1 0h0m32 0h0m11 0h0m-179 1h0m93 0h0m30 0h0m57 0h0m17 0h0m-183 1h0m71 0h0m13 0h0m23 0h0m1 0h0m2 0h0m39 0h0m1 0h0m4 0h0m8 0h0m-171 1h0m5 0h0m74 0h0m1 0h0m2 0h0m7 0h0m2 0h0m27 0h0m34 0h0m6 0h0m6 0h0m8 0h0m-90 1h0m10 0h0m1 0h0m3 0h0m67 0h0m6 0h0m-173 1h0m20 0h0m76 0h0m11 0h0m4 0h0m5 0h0m20 0h0m23 0h0m7 0h0m1 0h0m-164 1h0m2 0h0m6 0h0m155 0h0m3 0h0m-167 1h0m7 0h0m1 0h0m148 0h0m16 0h0m-171 1h0m23 0h0m114 0h0m8 0h0m12 0h0m11 0h0m4 0h0m-166 1h0m3 0h0m96 0h0m65 0h0m5 0h0m-171 1h0m3 0h0m3 0h0m120 0h0m19 0h0m6 0h0m2 0h0m22 0h0m-171 1h0m136 0h0m1 1h0m1 2h0m22 0h0m12 0h0m-99 1h0m2 0h0m16 0h0m6 0h0m42 0h0m1 0h0m-75 1h0m8 0h0m5 0h0m18 0h0m1 0h0m3 0h0m1 0h0m37 0h0m23 0h0m-148 1h0m54 0h0m1 0h0m2 0h0m1 0h0m28 0h0m12 0h0m25 0h0m36 0h0m1 0h0m-161 1h0m56 0h0m3 0h0m3 0h0m18 0h0m2 0h0m8 0h0m37 0h0m-127 1h0m1 0h0m1 0h0m7 0h0m4 0h0m46 0h0m21 0h0m8 0h0m10 0h0m-95 1h0m6 0h0m1 0h0m2 0h0m50 0h0m1 0h0m21 0h0m18 0h0m-90 1h0m1 0h0m2 0h0m47 0h0m1 0h0m5 0h0m3 0h0m10 0h0m11 0h0m11 0h0m60 0h0m-152 1h0m12 0h0m38 0h0m24 0h0m6 0h0m53 0h0m13 0h0m-145 1h0m2 0h0m2 0h0m63 0h0m1 0h0m1 0h0m2 0h0m3 0h0m4 0h0m5 0h0m8 0h0m-94 1h0m4 0h0m4 0h0m7 0h0m2 0h0m53 0h0m3 0h0m2 0h0m5 0h0m52 0h0m4 0h0m-135 1h0m3 0h0m1 0h0m2 0h0m62 0h0m1 0h0m3 0h0m4 0h0m56 0h0m1 0h0m-132 1h0m1 0h0m4 0h0m11 0h0m47 0h0m22 0h0m-85 1h0m1 0h0m11 0h0m69 0h0m-83 1h0m1 0h0m3 0h0m10 0h0m4 0h0m1 0h0m2 0h0m115 0h0m-134 1h0m4 0h0m6 0h0m4 0h0m4 0h0m4 0h0m143 0h0m-166 1h0m3 0h0m163 0h0m-165 1h0m2 0h0m1 0h0m10 0h0m129 0h0m24 0h0m-169 1h0m4 0h0m1 0h0m1 0h0m65 0h0m9 0h0m89 0h0m2 0h0m-167 1h0m1 0h0m12 0h0m63 0h0m3 0h0m-83 1h0m4 0h0m164 0h0m-168 1h0m1 0h0m23 0h0m4 0h0m68 0h0m-79 1h0m7 0h0m71 0h0m1 0h0m63 0h0m1 0h0m2 0h0m7 0h0m-166 1h0m91 0h0m2 0h0m63 0h0m-156 1h0m77 0h0m13 0h0m1 0h0m75 0h0m-158 1h0m145 0h0m7 0h0m0 1h0m1 0h0m-141 1h0m48 0h0m7 0h0m2 0h0m1 0h0m3 0h0m70 0h0m14 0h0m1 0h0m-89 1h0m4 0h0m8 0h0m61 0h0m10 0h0m-83 1h0m68 0h0m3 0h0m3 0h0m5 0h0m-78 1h0m1 0h0m1 0h0m67 0h0m23 0h0m-164 1h0m72 0h0m1 0h0m1 0h0m87 0h0m3 0h0m-91 1h0m65 0h0m5 0h0m-74 1h0m3 0h0m70 1h0m1 1h0m20 0h0m-158 1h0m152 1h0m2 0h0m26 1h0m0 1h0m-189 1h0m185 1h0m-19 1h0" stroke="#f4f7c0"/><path d="M244.5 24.5h0m-40 2h0m-29 3h0m2 0h0m-128 2h0m185 0h0m-166 3h0m-12 1h0m183 0h0m5 1h0m-158 1h0m159 0h0m-8 2h0m-1 1h0m1 0h0m-52 2h0m30 2h0m-3 1h0m-131 4h0m-8 1h0m117 1h0m-108 1h0m7 0h0m119 1h0m-137 3h0m3 1h0m68 6h0m34 11h0m87 3h0m4 1h0m-168 5h0m2 5h0m144 4h0m-134 5h0m-10 10h0m-1 3h0" stroke="#bcdbdf"/><path d="M74.5 25.5h0m188 3h0m-203 1h0m136 2h0m15 0h0m54 0h0m-82 1h0m26 1h0m-120 3h0m1 0h0m93 0h0m-117 1h0m26 0h0m8 0h0m90 0h0m-112 2h0m6 0h0m5 0h0m-13 6h0m15 1h0m-19 1h0m-2 1h0m75 18h0m-30 11h0m-7 1h0m13 6h0m54 5h0m88 3h0m-89 1h0m92 1h0m5 1h0m-7 1h0m-154 1h0m157 0h0m0 2h0" stroke="#fce286"/><path d="M262.5 25.5h0m-191 1h0m127 0h0m17 0h0m40 0h0m3 0h0m-239 1h0m158 0h0m20 0h0m63 0h0m-3 1h0m1 0h0m8 0h0m-9 1h0m3 0h0m1 0h0m-203 1h0m15 0h0m120 0h0m3 0h0m29 0h0m32 0h0m1 0h0m1 0h0m1 0h0m1 0h0m1 0h0m2 0h0m-206 1h0m2 0h0m34 0h0m119 0h0m5 0h0m2 0h0m39 0h0m-195 1h0m114 0h0m38 0h0m1 0h0m39 0h0m3 0h0m3 0h0m-196 1h0m3 0h0m146 0h0m3 0h0m4 0h0m33 0h0m-190 1h0m151 0h0m1 0h0m-162 1h0m9 0h0m3 0h0m3 0h0m25 0h0m1 0h0m88 0h0m1 0h0m-123 1h0m31 0h0m122 0h0m1 0h0m-152 1h0m3 0h0m2 0h0m5 0h0m5 0h0m14 0h0m1 0h0m9 0h0m83 0h0m-129 1h0m18 0h0m14 0h0m4 0h0m1 0h0m1 0h0m3 0h0m1 0h0m8 0h0m74 0h0m37 0h0m-161 1h0m21 0h0m4 0h0m7 0h0m1 0h0m1 0h0m2 0h0m1 0h0m3 0h0m1 0h0m-27 1h0m7 0h0m1 0h0m11 0h0m1 0h0m1 0h0m3 0h0m2 0h0m-22 1h0m16 0h0m1 0h0m1 0h0m1 0h0m1 0h0m-1 1h0m1 0h0m-18 1h0m2 0h0m7 0h0m11 0h0m-12 1h0m9 1h0m-12 1h0m3 1h0m-2 1h0m-17 1h0m11 0h0m68 16h0m-32 9h0m3 5h0m-1 1h0m3 0h0m-7 1h0m5 0h0m2 0h0m-7 1h0m-1 1h0m4 1h0m4 1h0m1 0h0m-11 1h0m61 0h0m3 2h0m97 0h0m1 2h0m-3 1h0m-3 2h0m3 0h0m1 0h0m4 0h0m-103 1h0m97 0h0m4 0h0m1 0h0m-5 1h0m3 0h0m-3 1h0m1 1h0m-164 4h0" stroke="#a8cf90"/><path d="M260.5 26.5h0m-95 1h0m28 0h0m2 0h0m-124 1h0m-36 1h0m36 0h0m96 0h0m-124 1h0m3 1h0m118 0h0m-111 2h0m120 0h0m-92 2h0m171 1h0m-185 3h0m98 0h0m13 0h0m-109 1h0m8 0h0m164 2h0m9 2h0m-185 1h0m167 0h0m-48 1h0m60 0h0m-174 1h0m119 2h0m41 2h0m-28 4h0m41 0h0m-63 5h0m-12 4h0m1 0h0m23 2h0m23 0h0m-61 1h0m24 0h0m-31 1h0m2 0h0m-1 1h0m34 2h0m0 1h0m0 2h0m65 0h0m-136 3h0m4 1h0m-5 1h0m72 0h0m2 1h0m-17 1h0m100 7h0m-151 3h0m129 0h0" stroke="#f9b79f"/><path d="M261.5 26.5h0m-60 1h0m3 0h0m-187 1h0m180 0h0m1 0h0m1 0h0m3 0h0m57 0h0m1 0h0m3 0h0m-200 1h0m130 0h0m3 0h0m1 0h0m2 0h0m2 0h0m61 0h0m3 0h0m-196 1h0m126 0h0m3 0h0m2 0h0m2 0h0m1 0h0m1 0h0m-153 1h0m8 0h0m4 0h0m126 0h0m7 0h0m19 0h0m-156 1h0m15 0h0m107 0h0m2 0h0m15 0h0m7 0h0m3 0h0m2 0h0m4 0h0m1 0h0m-155 1h0m128 0h0m8 0h0m20 0h0m-155 1h0m1 0h0m4 0h0m1 0h0m3 0h0m128 0h0m12 0h0m1 0h0m2 0h0m-108 1h0m78 0h0m26 0h0m6 0h0m-151 1h0m3 0h0m2 0h0m6 0h0m32 0h0m105 0h0m1 0h0m-152 1h0m152 0h0m-153 1h0m3 0h0m1 0h0m1 0h0m3 0h0m23 0h0m-24 2h0m19 0h0m23 0h0m-32 1h0m1 0h0m1 0h0m108 0h0m-112 1h0m1 0h0m1 0h0m-3 2h0m3 0h0m1 0h0m1 0h0m-2 1h0m1 0h0m11 0h0m-14 1h0m2 1h0m3 0h0m9 0h0m-11 1h0m9 0h0m1 1h0m1 0h0m-3 1h0m33 28h0m-1 1h0m-4 1h0m7 0h0m55 7h0m-7 4h0m101 0h0m-7 3h0m4 0h0m-163 1h0m-3 2h0m3 0h0m0 1h0m2 0h0m163 0h0m-166 1h0m165 0h0m-165 1h0m1 1h0" stroke="#fabb7b"/><path d="M40.5 27.5h0m247 1h0m-73 2h0m3 0h0m-136 1h0m188 0h0m-199 6h0m159 0h0m-164 10h0m155 9h0m1 0h0m-123 15h0m13 16h0" stroke="#f39599"/><path d="M202.5 27.5h0m66 0h0m-247 1h0m237 1h0m9 0h0m-55 1h0m-147 1h0m2 0h0m145 1h0m49 0h0m-202 1h0m5 0h0m1 0h0m2 0h0m33 0h0m-46 1h0m10 0h0m36 0h0m83 0h0m31 0h0m9 0h0m-129 1h0m117 0h0m1 0h0m1 0h0m8 0h0m-163 1h0m3 0h0m12 0h0m25 0h0m-1 1h0m112 0h0m-112 1h0m112 1h0m-129 2h0m3 0h0m-2 3h0m34 30h0m151 15h0m-1 4h0m1 0h0m-1 2h0m6 0h0m-2 1h0m-1 1h0m-159 1h0m157 0h0" stroke="#eef4a1"/><path d="M19.5 28.5h0" stroke="#f8a855"/><path d="M20.5 28.5h0" stroke="#8fc271"/><path d="M164.5 28.5h0m4 0h0m-6 1h0m55 0h0m34 3h0m-13 5h0m-59 1h0m-99 1h0m74 4h0m88 0h0m-38 3h0m-19 2h0m24 0h0m29 2h0m3 4h0m-60 19h0m-9 13h0m2 4h0" stroke="#9fcbe8"/><path d="M201.5 33.5h0m66 63h0" stroke="#9bc9cf"/><path d="M190.5 40.5h0" stroke="#ed6267"/><path d="M146.5 66.5h0m-1 1h0m1 0h0m1 0h0m1 0h0m-1 2h0m-22 8h0" stroke="#f69470"/><path d="M144.5 67.5h0m1 1h0m1 0h0" stroke="#f47647"/><path d="M90.5 16.5h0m2 0h0m4 0h0m-16 1h0m3 0h0m1 0h0m5 0h0m1 0h0m4 0h0m2 0h0m69 1h0m1 0h0m2 0h0m2 0h0m1 0h0m60 0h0m-69 1h0m-70 1h0m72 0h0m5 0h0m35 0h0m1 0h0m2 0h0m-140 1h0m7 0h0m1 0h0m3 0h0m153 0h0m1 0h0m5 0h0m3 0h0m29 0h0m-211 1h0m1 0h0m3 0h0m1 0h0m19 0h0m7 0h0m3 0h0m104 0h0m2 0h0m21 0h0m22 0h0m27 0h0m-211 1h0m2 0h0m3 0h0m4 0h0m1 0h0m11 0h0m7 0h0m11 0h0m102 0h0m47 0h0m-212 1h0m26 0h0m2 0h0m16 0h0m6 0h0m2 0h0m5 0h0m5 0h0m78 0h0m1 0h0m99 0h0m-245 1h0m4 0h0m26 0h0m10 0h0m8 0h0m20 0h0m73 0h0m1 0h0m34 0h0m67 0h0m8 0h0m1 0h0m1 0h0m4 0h0m4 0h0m-246 1h0m2 0h0m1 0h0m5 0h0m2 0h0m7 0h0m3 0h0m1 0h0m1 0h0m3 0h0m11 0h0m6 0h0m10 0h0m1 0h0m69 0h0m3 0h0m-147 1h0m6 0h0m35 0h0m6 0h0m120 0h0m-173 1h0m7 0h0m3 0h0m2 0h0m146 0h0m10 0h0m-157 1h0m1 0h0m69 0h0m196 0h0m-122 1h0m-130 1h0m1 0h0m1 0h0m41 0h0m85 0h0m2 0h0m2 0h0m103 0h0m1 0h0m-234 1h0m3 0h0m2 0h0m1 0h0m120 0h0m104 0h0m-237 1h0m13 0h0m1 0h0m52 0h0m-49 2h0m1 1h0m1 1h0m1 1h0m3 3h0m45 65h0m-2 3h0m-4 1h0m1 0h0m3 0h0m-2 1h0" stroke="#c4c4c4"/><path d="M98.5 16.5h0m1 0h0m3 0h0m2 0h0m8 0h0m1 0h0m1 0h0m1 0h0m1 0h0m1 0h0m1 0h0m2 0h0m1 0h0m1 0h0m1 0h0m1 0h0m1 0h0m1 0h0m1 0h0m1 0h0m2 0h0m1 0h0m2 0h0m2 0h0m2 0h0m1 0h0m1 0h0m-42 1h0m3 0h0m1 0h0m1 0h0m2 0h0m2 0h0m2 0h0m1 0h0m2 0h0m1 0h0m3 0h0m1 0h0m2 0h0m1 0h0m1 0h0m1 0h0m15 0h0m1 0h0m2 0h0m1 0h0m2 0h0m1 0h0m-46 1h0m1 0h0m2 0h0m41 0h0m1 0h0m-44 1h0m41 0h0m1 0h0m-34 1h0m1 0h0m1 0h0m31 0h0m-34 1h0m1 0h0m1 0h0m1 0h0m1 0h0m30 0h0m-29 1h0m29 0h0m-28 1h0m26 0h0m1 0h0m-41 1h0m1 0h0m1 0h0m1 0h0m13 0h0m23 0h0m1 0h0m-38 1h0m2 0h0m31 0h0m1 0h0m2 0h0m1 0h0m-39 1h0m31 0h0m4 0h0m2 0h0m-29 1h0m1 0h0m7 0h0m12 0h0m2 0h0m16 0h0m-37 1h0m7 0h0m1 0h0m10 0h0m1 0h0m1 0h0m9 0h0m3 0h0m2 0h0m1 0h0m1 0h0m1 0h0m1 0h0m-40 1h0m19 0h0m1 0h0m12 0h0m1 0h0m1 0h0m2 0h0m1 0h0m-44 1h0m2 0h0m1 0h0m2 0h0m1 0h0m1 0h0m11 0h0m2 1h0m1 0h0m2 0h0m1 0h0m-16 1h0m14 0h0m2 0h0" stroke="#b4b4b4"/></g>
<rect x="15.65" y="7.55" width="282.25" height="111.65" fill="none" stroke="#3a3a3a" stroke-width="1.25"/>
<text transform="translate(10.15,25.40) scale(1.2,1) rotate(-90)" class="h" font-size="7.0" font-weight="bold" text-anchor="middle" textLength="14.40" lengthAdjust="spacingAndGlyphs">70<tspan font-size="5.6" dy="-0.6">°</tspan><tspan dy="0.6">N</tspan></text>
<text transform="translate(10.15,52.94) scale(1.2,1) rotate(-90)" class="h" font-size="7.0" font-weight="bold" text-anchor="middle" textLength="14.40" lengthAdjust="spacingAndGlyphs">30<tspan font-size="5.6" dy="-0.6">°</tspan><tspan dy="0.6">N</tspan></text>
<text transform="translate(10.15,80.49) scale(1.2,1) rotate(-90)" class="h" font-size="7.0" font-weight="bold" text-anchor="middle" textLength="14.40" lengthAdjust="spacingAndGlyphs">10<tspan font-size="5.6" dy="-0.6">°</tspan><tspan dy="0.6">S</tspan></text>
<text transform="translate(10.15,108.03) scale(1.2,1) rotate(-90)" class="h" font-size="7.0" font-weight="bold" text-anchor="middle" textLength="14.40" lengthAdjust="spacingAndGlyphs">50<tspan font-size="5.6" dy="-0.6">°</tspan><tspan dy="0.6">S</tspan></text>
<path d="M12.75 25.40H15.65M12.75 52.94H15.65M12.75 80.49H15.65M12.75 108.03H15.65M12.75 11.63H15.65" stroke="#3a3a3a" stroke-width="1.1" fill="none"/>
<text x="15.70" y="128.70" font-size="7.0" font-weight="bold" text-anchor="middle" textLength="15.20" lengthAdjust="spacingAndGlyphs">180<tspan font-size="5.6" dy="-0.6">°</tspan><tspan dy="0.6"></tspan></text>
<text x="46.53" y="128.70" font-size="7.0" font-weight="bold" text-anchor="middle" textLength="22.14" lengthAdjust="spacingAndGlyphs">140<tspan font-size="5.6" dy="-0.6">°</tspan><tspan dy="0.6">W</tspan></text>
<text x="77.36" y="128.70" font-size="7.0" font-weight="bold" text-anchor="middle" textLength="22.14" lengthAdjust="spacingAndGlyphs">100<tspan font-size="5.6" dy="-0.6">°</tspan><tspan dy="0.6">W</tspan></text>
<text x="108.20" y="128.70" font-size="7.0" font-weight="bold" text-anchor="middle" textLength="18.05" lengthAdjust="spacingAndGlyphs">60<tspan font-size="5.6" dy="-0.6">°</tspan><tspan dy="0.6">W</tspan></text>
<text x="139.03" y="128.70" font-size="7.0" font-weight="bold" text-anchor="middle" textLength="18.05" lengthAdjust="spacingAndGlyphs">20<tspan font-size="5.6" dy="-0.6">°</tspan><tspan dy="0.6">W</tspan></text>
<text x="169.86" y="128.70" font-size="7.0" font-weight="bold" text-anchor="middle" textLength="16.02" lengthAdjust="spacingAndGlyphs">20<tspan font-size="5.6" dy="-0.6">°</tspan><tspan dy="0.6">E</tspan></text>
<text x="200.69" y="128.70" font-size="7.0" font-weight="bold" text-anchor="middle" textLength="16.02" lengthAdjust="spacingAndGlyphs">60<tspan font-size="5.6" dy="-0.6">°</tspan><tspan dy="0.6">E</tspan></text>
<text x="231.52" y="128.70" font-size="7.0" font-weight="bold" text-anchor="middle" textLength="20.10" lengthAdjust="spacingAndGlyphs">100<tspan font-size="5.6" dy="-0.6">°</tspan><tspan dy="0.6">E</tspan></text>
<text x="262.36" y="128.70" font-size="7.0" font-weight="bold" text-anchor="middle" textLength="20.10" lengthAdjust="spacingAndGlyphs">140<tspan font-size="5.6" dy="-0.6">°</tspan><tspan dy="0.6">E</tspan></text>
<text x="293.19" y="128.70" font-size="7.0" font-weight="bold" text-anchor="middle" textLength="15.20" lengthAdjust="spacingAndGlyphs">180<tspan font-size="5.6" dy="-0.6">°</tspan><tspan dy="0.6"></tspan></text>
<path d="M15.70 119.20V121.80M46.53 119.20V121.80M77.36 119.20V121.80M108.20 119.20V121.80M139.03 119.20V121.80M169.86 119.20V121.80M200.69 119.20V121.80M231.52 119.20V121.80M262.36 119.20V121.80M293.19 119.20V121.80" stroke="#3a3a3a" stroke-width="1" fill="none"/>
<text x="24.05" y="19.15" font-size="9.6" font-weight="bold" textLength="11.90" lengthAdjust="spacingAndGlyphs">(a)</text>
<path d="M287.50 13.75L282.80 25.65L287.50 21.95Z" fill="#111"/>
<path d="M287.50 13.75L292.20 25.65L287.50 21.95Z" fill="#fff" stroke="#111" stroke-width="0.75" stroke-linejoin="round"/>
<text x="286.80" y="11.30" font-size="5.0" font-weight="bold" text-anchor="middle">N</text>
<rect x="151.80" y="111.30" width="69.40" height="2.9" fill="#000"/>
<rect x="169.70" y="111.75" width="16.5" height="2.0" fill="#f4f4f4" stroke="#9a9a9a" stroke-width="0.5"/>
<text x="151.90" y="108.70" class="l" font-size="5.0" text-anchor="middle" fill="#222">0</text>
<text x="169.20" y="108.70" class="l" font-size="5.0" text-anchor="middle" textLength="15.00" lengthAdjust="spacingAndGlyphs" fill="#222">2,500</text>
<text x="186.30" y="108.70" class="l" font-size="5.0" text-anchor="middle" textLength="14.10" lengthAdjust="spacingAndGlyphs" fill="#222">5,000</text>
<text x="220.20" y="108.70" class="l" font-size="5.0" text-anchor="middle" textLength="18.00" lengthAdjust="spacingAndGlyphs" fill="#222">10,000</text>
<text x="222.70" y="114.45" class="l" font-size="5.3" font-weight="bold" textLength="30.20" lengthAdjust="spacingAndGlyphs" fill="#111">Kilometers</text>
<text x="25.60" y="87.10" font-size="7.5" font-weight="bold" font-style="italic" textLength="36.60" lengthAdjust="spacingAndGlyphs">P: 9.83%</text>
<text x="25.60" y="96.10" font-size="7.5" font-weight="bold" font-style="italic" textLength="41.70" lengthAdjust="spacingAndGlyphs">N: 15.53%</text>
<text x="25.60" y="105.10" font-size="7.5" font-weight="bold" font-style="italic" textLength="32.60" lengthAdjust="spacingAndGlyphs">p &lt; 0.05</text>
<g stroke-width="1.25" stroke-linecap="round" fill="none"><path d="M461.5 19.5h0m-72 4h0m-60 2h0m2 0h0m-5 1h0m12 0h0m5 0h0m162 0h0m5 0h0m-172 1h0m8 0h0m128 0h0m108 0h0m-226 1h0m121 0h0m27 0h0m2 0h0m-139 1h0m120 0h0m-148 1h0m3 0h0m35 0h0m3 0h0m110 0h0m9 0h0m-26 1h0m24 0h0m-13 1h0m13 0h0m2 0h0m69 0h0m-175 1h0m10 0h0m95 0h0m1 0h0m31 0h0m-32 1h0m2 0h0m40 0h0m-135 1h0m83 0h0m3 1h0m67 0h0m-64 1h0m20 0h0m16 0h0m-173 1h0m15 0h0m98 0h0m18 1h0m-129 1h0m122 0h0m69 0h0m-84 1h0m76 0h0m-180 1h0m107 0h0m31 0h0m-34 1h0m21 0h0m6 0h0m1 0h0m-99 1h0m51 0h0m1 0h0m1 0h0m48 0h0m-132 1h0m2 0h0m-7 1h0m24 0h0m5 1h0m132 0h0m14 1h0m-175 1h0m22 0h0m12 0h0m-6 1h0m-2 1h0m68 0h0m53 0h0m4 1h0m-141 1h0m20 1h0m116 0h0m8 1h0m29 0h0m-77 2h0m-91 1h0m123 0h0m-124 1h0m20 0h0m124 0h0m-143 1h0m153 0h0m-49 2h0m-92 1h0m80 1h0m5 0h0m1 0h0m-27 2h0m-41 2h0m1 0h0m-11 1h0m77 0h0m70 1h0m-80 1h0m22 0h0m56 0h0m-71 2h0m69 0h0m-146 1h0m14 0h0m-12 1h0m72 0h0m-57 2h0m13 1h0m-5 1h0m48 0h0m11 0h0m-64 1h0m10 2h0m128 1h0m-153 1h0m84 0h0m69 0h0m13 0h0m-159 2h0m11 0h0m136 0h0m-6 1h0m7 0h0m-6 1h0m17 0h0m-90 1h0m74 0h0m-137 1h0m5 0h0m132 0h0m-3 1h0m1 0h0m-1 1h0m-130 1h0m63 0h0m-5 1h0m-2 1h0m90 0h0m-157 1h0m139 0h0m21 2h0" stroke="#fbeda1"/><path d="M497.5 21.5h0m64 0h0m-180 4h0m145 1h0m60 0h0m4 0h0m-264 1h0m157 0h0m15 0h0m-184 1h0m1 0h0m1 0h0m186 0h0m9 0h0m7 0h0m24 0h0m38 0h0m8 0h0m-247 1h0m144 0h0m19 0h0m79 0h0m-101 1h0m20 0h0m3 0h0m12 0h0m58 0h0m8 0h0m-248 1h0m57 0h0m85 0h0m21 0h0m6 0h0m-137 1h0m5 0h0m93 0h0m21 0h0m31 0h0m62 0h0m-105 1h0m-76 1h0m4 0h0m78 0h0m6 0h0m44 0h0m-26 1h0m-146 1h0m6 0h0m22 0h0m14 0h0m85 0h0m1 0h0m-128 1h0m87 0h0m39 0h0m1 0h0m-78 1h0m144 0h0m-195 1h0m4 0h0m32 0h0m82 0h0m12 0h0m76 0h0m-27 1h0m-177 1h0m23 0h0m112 0h0m0 1h0m14 0h0m38 0h0m-165 1h0m128 0h0m-127 1h0m125 0h0m2 0h0m1 0h0m-129 3h0m84 0h0m60 0h0m-144 1h0m143 0h0m-13 1h0m15 0h0m30 0h0m3 0h0m-192 1h0m117 0h0m23 0h0m6 0h0m14 0h0m7 0h0m-65 1h0m39 1h0m2 0h0m4 0h0m8 0h0m-16 1h0m1 1h0m4 0h0m15 0h0m-17 1h0m33 0h0m-33 1h0m34 0h0m-36 1h0m3 0h0m16 0h0m-143 3h0m128 0h0m15 0h0m-150 1h0m151 0h0m-82 1h0m89 0h0m12 0h0m0 1h0m-89 1h0m26 0h0m0 1h0m-38 1h0m20 2h0m21 0h0m64 0h0m-150 1h0m64 0h0m14 0h0m-17 1h0m8 0h0m6 0h0m-77 1h0m-3 1h0m91 0h0m-89 1h0m87 0h0m1 0h0m-88 1h0m12 0h0m56 0h0m75 0h0m3 0h0m-76 1h0m4 0h0m87 1h0m-165 1h0m83 1h0m-67 2h0m159 0h0m-12 2h0m9 2h0m-11 1h0m-76 1h0m-58 1h0m138 0h0m3 0h0m1 0h0m4 0h0m1 0h0m-168 1h0m5 0h0m164 0h0m-167 1h0m1 0h0m12 0h0m-14 1h0m14 0h0m2 0h0m132 0h0m17 0h0m-162 3h0m140 0h0m28 0h0m-170 1h0m144 0h0m1 0h0m15 1h0m-162 1h0m8 0h0m64 0h0m90 0h0m-152 1h0m160 0h0m-171 4h0m2 0h0m-1 3h0m-1 3h0" stroke="#a9cfe4"/><path d="M529.5 21.5h0m4 1h0m-2 1h0m5 1h0m-24 2h0m-138 1h0m97 0h0m4 0h0m115 0h0m-197 1h0m130 0h0m66 0h0m-126 1h0m23 0h0m55 0h0m-75 1h0m19 0h0m2 0h0m-115 1h0m97 0h0m74 0h0m-210 1h0m144 0h0m8 0h0m2 0h0m28 0h0m6 0h0m2 0h0m-38 1h0m-127 1h0m126 0h0m3 0h0m29 0h0m-1 1h0m-27 3h0m-91 1h0m90 0h0m14 0h0m28 0h0m4 0h0m9 0h0m18 0h0m-82 2h0m23 0h0m-122 1h0m17 0h0m61 0h0m67 0h0m-143 1h0m74 0h0m28 0h0m18 0h0m4 0h0m-4 1h0m3 0h0m26 0h0m-61 1h0m6 0h0m22 0h0m5 0h0m1 0h0m3 0h0m-10 1h0m-128 1h0m78 0h0m49 0h0m32 0h0m-146 1h0m104 0h0m27 1h0m-129 1h0m-1 1h0m5 0h0m75 0h0m43 0h0m-44 1h0m-6 1h0m51 0h0m3 0h0m-134 1h0m108 0h0m25 0h0m22 0h0m-13 1h0m8 0h0m3 0h0m15 0h0m-26 1h0m-12 1h0m12 0h0m2 0h0m10 0h0m-50 1h0m34 0h0m11 0h0m-45 1h0m47 0h0m-153 1h0m11 0h0m94 0h0m1 0h0m0 1h0m34 0h0m1 0h0m-2 1h0m-49 1h0m68 0h0m-53 1h0m3 1h0m-39 1h0m86 0h0m-126 4h0m57 0h0m-56 1h0m1 0h0m123 0h0m5 0h0m11 0h0m-58 2h0m53 0h0m-56 1h0m72 0h0m-159 2h0m11 1h0m0 1h0m72 0h0m81 0h0m-88 3h0m-55 1h0m-12 2h0m63 0h0m-67 2h0m64 0h0m1 2h0m77 0h0m-128 1h0m-9 1h0m71 1h0m86 0h0m-88 1h0m87 0h0m8 1h0m-167 1h0m71 0h0m-67 4h0m159 5h0m18 0h0m0 1h0m-186 1h0m-2 1h0m3 1h0m0 2h0" stroke="#bdded6"/><path d="M495.5 22.5h0m44 1h0m-149 1h0m141 0h0m-27 1h0m8 0h0m24 0h0m-202 1h0m25 0h0m107 0h0m42 0h0m20 0h0m3 0h0m23 0h0m-172 1h0m3 0h0m93 0h0m27 0h0m1 0h0m1 0h0m25 0h0m56 0h0m-81 1h0m21 0h0m15 0h0m38 0h0m-93 1h0m-129 1h0m130 0h0m27 0h0m3 0h0m4 0h0m4 0h0m16 0h0m-187 1h0m131 0h0m38 0h0m8 0h0m-174 1h0m9 1h0m147 0h0m1 0h0m-159 1h0m23 0h0m21 0h0m109 0h0m13 0h0m13 1h0m-77 1h0m58 0h0m-70 1h0m57 0h0m33 0h0m-131 1h0m77 0h0m-124 1h0m36 0h0m14 0h0m93 0h0m3 0h0m1 0h0m12 0h0m-107 1h0m46 0h0m69 0h0m16 0h0m-177 1h0m35 0h0m104 0h0m2 0h0m17 0h0m2 0h0m3 0h0m-26 1h0m1 0h0m-115 1h0m5 0h0m1 0h0m108 0h0m2 0h0m34 0h0m23 0h0m-59 1h0m1 0h0m39 0h0m-163 1h0m158 0h0m7 0h0m-49 1h0m-16 1h0m1 0h0m14 0h0m44 1h0m-1 1h0m1 0h0m2 0h0m-173 1h0m80 0h0m90 0h0m-8 1h0m-23 1h0m2 1h0m-140 1h0m141 0h0m-2 1h0m3 0h0m-6 1h0m2 0h0m3 0h0m14 0h0m-156 1h0m140 0h0m9 0h0m-9 1h0m-27 1h0m32 0h0m-132 2h0m82 1h0m51 0h0m-1 1h0m-49 1h0m23 2h0m-95 1h0m2 0h0m72 0h0m12 0h0m9 0h0m3 1h0m-93 2h0m74 1h0m-79 1h0m69 0h0m12 0h0m5 0h0m-17 1h0m-48 1h0m3 0h0m-23 1h0m25 0h0m140 0h0m2 0h0m-154 1h0m2 1h0m60 0h0m6 0h0m2 4h0m-69 1h0m8 0h0m59 0h0m83 0h0m6 0h0m-161 3h0m72 1h0m74 1h0m-80 1h0m12 0h0m-62 1h0m57 1h0m4 0h0m-80 2h0m10 0h0m56 0h0m8 4h0m-72 1h0m0 3h0m187 0h0m1 0h0m-187 2h0m183 1h0" stroke="#91c0e2"/><path d="M531.5 22.5h0m9 1h0m0 1h0m-160 1h0m128 0h0m24 0h0m15 0h0m21 0h0m4 0h0m-103 1h0m1 0h0m50 0h0m-163 1h0m31 0h0m89 0h0m22 0h0m23 0h0m20 0h0m2 0h0m-186 1h0m1 0h0m8 0h0m113 0h0m-115 1h0m24 0h0m88 0h0m14 0h0m28 0h0m2 0h0m1 0h0m23 0h0m-177 1h0m8 0h0m82 0h0m13 0h0m17 0h0m15 0h0m15 0h0m8 0h0m6 0h0m1 0h0m9 0h0m39 0h0m-216 1h0m9 0h0m82 0h0m36 0h0m91 0h0m-226 1h0m8 0h0m176 0h0m1 0h0m2 0h0m3 0h0m19 0h0m1 0h0m-167 1h0m87 0h0m45 0h0m14 0h0m-163 1h0m66 0h0m33 0h0m60 0h0m5 0h0m5 0h0m-195 1h0m36 0h0m11 0h0m129 0h0m1 0h0m10 0h0m7 0h0m6 0h0m-158 1h0m5 0h0m2 0h0m58 0h0m9 0h0m15 0h0m11 0h0m2 0h0m33 0h0m1 0h0m-167 1h0m21 0h0m3 0h0m1 0h0m2 0h0m2 0h0m1 0h0m5 0h0m63 0h0m10 0h0m11 0h0m12 0h0m2 0h0m31 0h0m14 0h0m5 0h0m-161 1h0m96 0h0m1 0h0m14 0h0m33 0h0m9 0h0m19 0h0m-166 1h0m69 0h0m20 0h0m13 0h0m1 0h0m35 0h0m1 0h0m28 0h0m-207 1h0m2 0h0m2 0h0m6 0h0m4 0h0m120 0h0m10 0h0m62 0h0m-173 1h0m1 0h0m72 0h0m34 0h0m2 0h0m1 0h0m3 0h0m48 0h0m-193 1h0m21 0h0m8 0h0m69 0h0m6 0h0m2 0h0m35 0h0m1 0h0m11 0h0m-50 1h0m1 0h0m36 0h0m31 0h0m23 0h0m-160 1h0m68 0h0m46 0h0m16 0h0m18 0h0m7 0h0m15 0h0m-167 1h0m69 0h0m54 0h0m16 0h0m2 0h0m26 0h0m-175 1h0m4 0h0m58 0h0m46 0h0m67 0h0m-203 1h0m131 0h0m16 0h0m30 0h0m5 0h0m11 0h0m-184 1h0m129 0h0m19 0h0m4 0h0m14 0h0m11 0h0m6 0h0m1 0h0m-32 1h0m14 0h0m-165 1h0m117 0h0m59 0h0m-177 1h0m87 0h0m-81 1h0m2 0h0m91 0h0m78 0h0m-169 1h0m156 0h0m9 0h0m-11 2h0m-157 1h0m157 0h0m10 0h0m-27 1h0m3 0h0m-76 1h0m67 0h0m2 0h0m26 0h0m-58 3h0m-89 2h0m60 0h0m2 0h0m3 0h0m1 0h0m5 0h0m12 0h0m4 0h0m15 0h0m1 0h0m39 0h0m-85 1h0m7 0h0m10 0h0m6 0h0m63 0h0m-78 1h0m8 1h0m22 0h0m6 0h0m-40 1h0m26 0h0m13 0h0m-42 1h0m6 0h0m12 0h0m27 0h0m39 0h0m-76 1h0m-60 1h0m16 0h0m1 0h0m66 0h0m4 0h0m-1 1h0m3 0h0m-69 1h0m48 0h0m10 0h0m4 0h0m5 0h0m1 0h0m1 1h0m-16 1h0m65 0h0m-132 1h0m3 0h0m153 0h0m-161 1h0m2 0h0m76 0h0m-77 1h0m2 0h0m14 0h0m122 0h0m-139 1h0m2 0h0m3 0h0m11 0h0m4 0h0m66 0h0m85 0h0m-154 1h0m1 0h0m5 0h0m148 0h0m1 0h0m-173 1h0m1 0h0m8 0h0m11 0h0m5 0h0m2 0h0m-8 1h0m3 0h0m1 0h0m-13 1h0m3 1h0m12 0h0m50 0h0m6 0h0m1 0h0m-5 1h0m4 0h0m4 0h0m-7 1h0m1 0h0m-57 1h0m-4 1h0m54 0h0m12 0h0m-60 1h0m2 0h0m47 0h0m8 0h0m3 0h0m81 0h0m-159 1h0m72 0h0m72 0h0m21 0h0m-93 1h0m6 0h0m64 0h0m3 0h0m-73 1h0m2 0h0m4 0h0m87 0h0m-160 1h0m159 0h0m-158 1h0m156 0h0m-87 2h0m87 0h0m1 0h0m3 0h0m-3 2h0m1 0h0m4 0h0m-3 1h0m1 0h0m1 0h0m-166 1h0m164 0h0m-168 1h0m4 2h0m-5 1h0m1 1h0m2 1h0m-1 4h0" stroke="#f4a189"/><path d="M562.5 22.5h0m-7 3h0m3 0h0m6 0h0m3 0h0m0 1h0m-6 1h0m5 0h0m1 0h0m-191 1h0m181 0h0m2 0h0m1 0h0m1 0h0m5 0h0m3 0h0m-55 1h0m45 0h0m2 0h0m4 0h0m1 0h0m1 0h0m-22 1h0m14 0h0m4 0h0m1 0h0m2 0h0m1 1h0m1 0h0m-17 1h0m2 0h0m-157 1h0m2 0h0m-3 2h0m114 0h0m44 0h0m-88 2h0m92 0h0m-186 1h0m93 0h0m-1 1h0m4 0h0m-1 1h0m-11 1h0m4 0h0m5 0h0m6 0h0m-11 1h0m9 0h0m-99 1h0m10 0h0m4 0h0m62 19h0m5 2h0m9 0h0m-8 1h0m2 0h0m-7 1h0m4 0h0m-6 1h0m18 0h0m-17 2h0m1 0h0m4 0h0m20 13h0m5 0h0m-6 1h0m2 0h0m-6 2h0m8 0h0m77 0h0m5 2h0m3 2h0m-86 1h0m3 1h0m85 0h0m7 0h0m-18 3h0m16 3h0" stroke="#f07e5d"/><path d="M356.5 23.5h0m1 1h0m191 0h0m15 0h0m3 0h0m-231 1h0m23 1h0m25 0h0m195 0h0m2 0h0m1 0h0m-220 1h0m5 0h0m2 0h0m1 0h0m132 0h0m-121 1h0m91 0h0m5 0h0m59 0h0m-3 1h0m1 0h0m-197 2h0m135 0h0m44 0h0m5 1h0m-151 1h0m123 0h0m16 0h0m-145 2h0m35 0h0m52 0h0m35 0h0m22 0h0m-113 1h0m53 0h0m55 0h0m24 0h0m-162 1h0m119 0h0m14 0h0m30 0h0m20 0h0m-188 1h0m39 0h0m3 0h0m94 0h0m51 0h0m-64 1h0m65 0h0m-56 1h0m2 0h0m-136 1h0m146 0h0m26 0h0m15 0h0m-14 1h0m19 0h0m-185 2h0m129 0h0m-19 1h0m-114 1h0m1 0h0m115 0h0m4 0h0m6 2h0m-120 1h0m1 0h0m6 0h0m123 0h0m-127 1h0m111 0h0m35 0h0m3 1h0m0 1h0m27 1h0m-171 1h0m16 0h0m128 0h0m11 0h0m-164 1h0m24 0h0m127 0h0m-141 2h0m122 0h0m21 0h0m2 0h0m-149 1h0m4 0h0m16 0h0m87 0h0m51 2h0m-149 2h0m150 1h0m-90 1h0m3 0h0m22 0h0m63 0h0m-70 1h0m-53 2h0m54 0h0m70 0h0m-137 1h0m14 0h0m-11 1h0m1 0h0m12 0h0m57 0h0m-70 1h0m10 0h0m1 0h0m80 0h0m-22 1h0m67 0h0m-3 1h0m-114 2h0m66 1h0m-7 1h0m83 0h0m-163 6h0m25 0h0m-11 5h0m-6 1h0m162 0h0m-94 1h0m5 0h0m93 0h0m-97 1h0m3 0h0m2 0h0m81 0h0m-16 1h0m-126 2h0m127 0h0m-135 4h0m-10 5h0m168 0h0m-165 1h0m-2 3h0m1 4h0" stroke="#faf7a9"/><path d="M375.5 23.5h0m16 1h0m127 0h0m-184 1h0m171 0h0m16 0h0m62 0h0m-213 1h0m169 0h0m2 0h0m-176 1h0m13 0h0m1 0h0m1 0h0m88 0h0m1 0h0m7 0h0m27 0h0m1 0h0m35 0h0m-219 1h0m26 0h0m1 0h0m22 0h0m8 0h0m2 0h0m116 0h0m-153 1h0m14 0h0m2 0h0m21 0h0m1 0h0m86 0h0m1 0h0m6 0h0m57 0h0m52 0h0m-244 1h0m43 0h0m76 0h0m36 0h0m3 0h0m32 0h0m-169 1h0m20 0h0m1 0h0m116 0h0m-120 1h0m88 0h0m60 0h0m-167 1h0m160 0h0m-152 1h0m86 1h0m27 0h0m5 0h0m35 0h0m-34 1h0m64 1h0m25 0h0m-210 1h0m29 0h0m1 0h0m2 0h0m9 0h0m78 0h0m2 0h0m42 0h0m24 0h0m-195 1h0m124 0h0m2 0h0m9 0h0m29 0h0m17 0h0m-165 1h0m20 0h0m1 0h0m4 0h0m60 0h0m22 0h0m9 0h0m33 0h0m10 0h0m-58 1h0m79 0h0m-157 1h0m9 0h0m82 0h0m62 0h0m-8 1h0m-159 1h0m70 0h0m3 0h0m8 0h0m-15 1h0m1 0h0m41 0h0m59 0h0m-171 2h0m155 0h0m-40 1h0m48 0h0m-79 2h0m-83 1h0m166 1h0m-177 1h0m10 0h0m135 0h0m1 0h0m1 0h0m2 0h0m-150 1h0m4 0h0m145 0h0m-3 1h0m-26 1h0m40 0h0m-29 1h0m12 0h0m3 0h0m28 0h0m-46 1h0m4 1h0m11 0h0m-23 4h0m47 1h0m-82 1h0m-55 1h0m138 0h0m-133 2h0m57 0h0m-55 1h0m4 0h0m136 1h0m-65 1h0m-71 2h0m5 0h0m66 0h0m7 1h0m-80 1h0m140 0h0m12 0h0m4 0h0m1 0h0m-165 2h0m12 1h0m-5 1h0m2 0h0m17 0h0m54 0h0m6 0h0m0 1h0m-83 3h0m156 0h0m-141 1h0m51 0h0m-49 1h0m-11 1h0m11 0h0m-4 1h0m64 0h0m-60 1h0m59 0h0m2 1h0m89 0h0m-6 1h0m-161 1h0m1 0h0m-3 2h0m3 0h0m146 0h0m-5 1h0m1 0h0m1 0h0m-137 1h0m65 1h0m-73 1h0m163 1h0m-165 10h0m3 0h0" stroke="#fac896"/><path d="M504.5 24.5h0m2 0h0m-114 1h0m75 0h0m2 0h0m37 0h0m-153 1h0m222 0h0m-217 1h0m1 0h0m16 0h0m145 1h0m-175 1h0m178 0h0m-177 1h0m155 0h0m19 0h0m2 0h0m-175 1h0m138 0h0m15 0h0m1 0h0m31 0h0m10 0h0m-187 1h0m20 0h0m2 0h0m166 0h0m-185 1h0m-7 1h0m12 0h0m18 0h0m1 0h0m119 0h0m49 0h0m-194 1h0m130 0h0m-91 1h0m2 0h0m86 0h0m17 0h0m-96 1h0m-10 1h0m9 0h0m149 0h0m-99 1h0m-72 1h0m101 0h0m29 0h0m11 0h0m6 0h0m18 0h0m-150 1h0m116 0h0m22 0h0m-165 1h0m146 0h0m14 0h0m9 0h0m25 1h0m-194 1h0m23 0h0m151 0h0m2 0h0m3 0h0m-72 1h0m17 0h0m1 0h0m1 0h0m-125 1h0m12 0h0m6 0h0m61 0h0m48 0h0m26 0h0m-162 1h0m25 0h0m115 0h0m24 0h0m12 0h0m-81 1h0m-70 1h0m68 0h0m6 0h0m94 0h0m-190 1h0m135 0h0m14 0h0m-135 1h0m79 0h0m1 0h0m68 0h0m-162 2h0m8 0h0m146 0h0m-34 1h0m-110 1h0m131 0h0m21 1h0m-2 1h0m2 0h0m1 0h0m1 0h0m-9 1h0m7 0h0m-71 6h0m-15 1h0m8 0h0m9 0h0m76 0h0m-136 1h0m7 0h0m51 0h0m-60 1h0m2 0h0m58 0h0m6 0h0m-65 1h0m1 1h0m1 0h0m87 0h0m-88 1h0m1 0h0m10 0h0m55 0h0m-64 1h0m76 0h0m9 0h0m-87 1h0m2 0h0m1 0h0m1 0h0m-4 1h0m67 0h0m-57 1h0m6 0h0m47 0h0m70 0h0m-70 1h0m23 0h0m61 1h0m-146 2h0m66 0h0m-44 3h0m58 0h0m-63 1h0m2 0h0m-3 1h0m2 0h0m140 0h0m-141 1h0m47 0h0m94 0h0m1 0h0m-1 1h0m-4 1h0m-140 2h0m76 0h0m-77 1h0m129 0h0m-73 2h0m80 0h0m-147 1h0m69 0h0m90 0h0m-161 1h0m73 0h0m1 0h0m-74 1h0m5 0h0m2 0h0m3 0h0m151 0h0m-156 1h0m161 1h0m-162 1h0m161 2h0m2 3h0m20 1h0m-4 1h0m-182 1h0" stroke="#fbd99c"/><path d="M505.5 24.5h0m2 1h0m27 0h0m39 0h0m-245 1h0m137 0h0m3 0h0m9 0h0m25 0h0m17 0h0m43 0h0m11 0h0m6 0h0m-236 1h0m219 0h0m14 0h0m5 0h0m8 0h0m-264 1h0m8 0h0m30 0h0m5 0h0m7 0h0m20 0h0m68 0h0m11 0h0m113 0h0m-258 1h0m22 0h0m10 0h0m8 0h0m19 0h0m118 0h0m69 0h0m1 0h0m10 0h0m2 0h0m-260 1h0m4 0h0m3 0h0m9 0h0m7 0h0m9 0h0m4 0h0m2 0h0m103 0h0m28 0h0m24 0h0m27 0h0m14 0h0m11 0h0m1 0h0m-242 1h0m1 0h0m13 0h0m14 0h0m1 0h0m2 0h0m97 0h0m21 0h0m83 0h0m-218 1h0m12 0h0m3 0h0m31 0h0m90 0h0m81 0h0m2 0h0m-234 1h0m181 0h0m9 0h0m15 0h0m15 0h0m23 0h0m1 0h0m-209 1h0m28 0h0m10 0h0m77 0h0m18 0h0m42 0h0m34 0h0m-217 1h0m2 0h0m8 0h0m14 0h0m14 0h0m5 0h0m1 0h0m73 0h0m46 0h0m6 0h0m15 0h0m16 0h0m-198 1h0m19 0h0m2 0h0m70 0h0m7 0h0m63 0h0m2 0h0m22 0h0m-151 1h0m2 0h0m6 0h0m65 0h0m33 0h0m28 0h0m-131 1h0m5 0h0m3 0h0m66 0h0m27 0h0m29 0h0m2 0h0m3 0h0m-132 1h0m-36 1h0m25 0h0m10 0h0m102 0h0m42 0h0m-152 1h0m2 0h0m6 0h0m101 0h0m37 0h0m11 0h0m-156 1h0m1 0h0m7 0h0m56 0h0m27 0h0m5 0h0m56 0h0m-180 1h0m120 0h0m2 0h0m17 0h0m42 0h0m-159 1h0m86 0h0m22 0h0m6 0h0m50 0h0m-175 1h0m10 0h0m99 1h0m2 0h0m12 0h0m1 0h0m-140 1h0m28 0h0m111 0h0m44 0h0m-62 1h0m2 0h0m61 0h0m-62 1h0m3 0h0m57 0h0m15 0h0m-181 1h0m73 0h0m6 0h0m56 0h0m31 0h0m-175 1h0m15 0h0m107 0h0m32 0h0m-149 1h0m3 0h0m72 0h0m13 0h0m5 0h0m17 0h0m1 0h0m23 0h0m9 0h0m1 0h0m27 0h0m-35 1h0m29 0h0m1 0h0m5 0h0m-29 1h0m27 1h0m-25 1h0m1 0h0m8 0h0m4 0h0m-71 1h0m66 0h0m-150 1h0m151 1h0m4 0h0m-52 1h0m55 0h0m-53 1h0m32 0h0m6 0h0m9 0h0m-86 1h0m30 0h0m59 0h0m3 0h0m1 0h0m-67 1h0m10 0h0m-15 1h0m15 0h0m1 0h0m60 0h0m-63 1h0m2 0h0m37 0h0m16 0h0m-70 1h0m33 0h0m-102 1h0m100 0h0m1 0h0m-13 3h0m-85 1h0m6 0h0m0 1h0m76 0h0m66 0h0m2 1h0m-147 1h0m78 0h0m2 0h0m1 0h0m56 0h0m23 0h0m-139 1h0m122 0h0m-7 1h0m1 0h0m1 0h0m-111 1h0m-10 1h0m53 1h0m2 0h0m10 1h0m-82 1h0m3 0h0m12 0h0m4 0h0m5 0h0m51 0h0m2 0h0m4 0h0m-80 1h0m23 0h0m47 0h0m-72 1h0m1 0h0m22 0h0m49 0h0m4 0h0m13 0h0m67 0h0m-87 1h0m-44 1h0m44 0h0m-57 1h0m83 0h0m57 0h0m-84 1h0m5 0h0m8 0h0m-57 1h0m50 0h0m-2 1h0m22 0h0m-78 1h0m138 0h0m-80 1h0m-62 2h0m61 0h0m1 0h0m77 0h0m-134 1h0m61 0h0m2 0h0m1 0h0m86 0h0m1 0h0m-89 1h0m68 0h0m3 1h0m14 0h0m28 2h0m0 4h0" stroke="#f08489"/><path d="M514.5 24.5h0m42 0h0m9 0h0m2 0h0m-239 1h0m12 0h0m28 0h0m25 0h0m170 0h0m3 0h0m-239 1h0m20 0h0m22 0h0m12 0h0m5 0h0m144 0h0m-215 1h0m49 0h0m17 0h0m2 0h0m1 0h0m98 0h0m32 0h0m20 0h0m1 0h0m11 0h0m-82 1h0m3 0h0m54 0h0m15 0h0m8 0h0m39 0h0m-256 1h0m1 0h0m2 0h0m29 0h0m103 0h0m37 0h0m-168 1h0m34 0h0m135 0h0m36 0h0m48 0h0m-98 1h0m9 0h0m89 0h0m-257 1h0m23 0h0m12 0h0m2 0h0m9 0h0m1 0h0m132 0h0m2 0h0m14 0h0m24 0h0m31 0h0m-247 1h0m40 0h0m2 0h0m2 0h0m-14 1h0m10 0h0m2 0h0m1 0h0m1 0h0m98 0h0m11 0h0m2 0h0m33 0h0m1 0h0m-148 1h0m29 0h0m123 0h0m20 0h0m30 0h0m-177 1h0m9 0h0m47 0h0m24 0h0m-93 1h0m8 0h0m60 0h0m13 0h0m14 0h0m43 0h0m18 0h0m-171 1h0m13 0h0m15 0h0m64 0h0m8 0h0m9 0h0m2 0h0m-89 1h0m4 0h0m84 0h0m-98 1h0m6 0h0m11 0h0m67 0h0m50 0h0m30 0h0m-159 1h0m126 0h0m-128 1h0m8 0h0m7 0h0m3 0h0m77 0h0m65 0h0m-148 1h0m1 0h0m1 0h0m110 0h0m41 0h0m-94 1h0m-9 1h0m5 0h0m9 0h0m18 0h0m28 0h0m3 0h0m43 0h0m-194 1h0m23 0h0m125 0h0m1 0h0m3 0h0m2 0h0m-15 1h0m8 0h0m2 0h0m26 0h0m18 0h0m-164 1h0m7 0h0m120 0h0m13 0h0m2 0h0m-153 1h0m12 0h0m68 0h0m59 0h0m15 0h0m-50 1h0m49 0h0m-80 1h0m36 0h0m10 0h0m15 0h0m13 0h0m-158 1h0m17 0h0m146 0h0m-154 1h0m157 0h0m-23 1h0m-4 1h0m3 0h0m3 0h0m21 0h0m-81 1h0m56 0h0m28 0h0m-161 1h0m150 0h0m12 0h0m-162 1h0m18 0h0m-19 1h0m1 1h0m9 3h0m63 0h0m28 0h0m5 0h0m51 0h0m4 0h0m1 0h0m-147 1h0m145 0h0m3 0h0m-147 1h0m84 0h0m64 0h0m-139 1h0m60 0h0m13 1h0m3 0h0m56 0h0m-63 1h0m21 0h0m-27 1h0m7 0h0m64 0h0m-69 1h0m1 0h0m2 0h0m1 0h0m1 0h0m65 0h0m-135 1h0m10 0h0m54 0h0m2 0h0m6 1h0m-68 1h0m65 0h0m2 0h0m13 0h0m51 0h0m-53 1h0m-78 1h0m63 0h0m68 0h0m-121 1h0m150 0h0m-81 1h0m-68 1h0m-2 2h0m-1 1h0m5 0h0m-6 1h0m4 0h0m1 1h0m3 0h0m-3 1h0m52 0h0m87 0h0m-87 1h0m97 0h0m-8 1h0m4 0h0m-142 1h0m3 0h0m-4 1h0m64 0h0m-62 1h0m129 1h0m10 0h0m-149 2h0m70 0h0m-72 1h0m3 1h0m137 1h0m-137 1h0m2 0h0m-7 2h0m1 0h0m-5 3h0m3 2h0m-2 6h0" stroke="#f8b78f"/><path d="M527.5 24.5h0m-147 2h0m95 0h0m59 0h0m-70 1h0m3 0h0m59 0h0m-182 1h0m134 0h0m15 0h0m36 0h0m1 0h0m2 0h0m-71 1h0m9 0h0m4 0h0m1 0h0m54 0h0m-59 1h0m7 0h0m67 0h0m2 0h0m1 0h0m-221 1h0m168 0h0m40 0h0m1 0h0m9 0h0m-39 1h0m26 0h0m-50 1h0m5 0h0m17 0h0m24 0h0m1 0h0m1 0h0m15 0h0m-141 2h0m45 0h0m-93 1h0m149 0h0m-146 3h0m27 0h0m8 0h0m91 0h0m-90 1h0m14 0h0m2 0h0m48 1h0m2 1h0m88 0h0m-163 1h0m-2 2h0m66 0h0m3 0h0m28 0h0m-112 1h0m84 0h0m75 0h0m-145 1h0m146 0h0m-165 1h0m124 0h0m40 0h0m-167 1h0m99 0h0m80 0h0m-86 1h0m58 0h0m-3 1h0m4 0h0m-29 1h0m-116 1h0m1 0h0m142 0h0m15 0h0m-13 2h0m3 0h0m17 0h0m-159 1h0m134 0h0m13 0h0m-8 2h0m3 0h0m-37 1h0m-94 3h0m76 1h0m-73 1h0m126 0h0m16 0h0m-86 2h0m18 0h0m-12 1h0m18 0h0m6 0h0m-79 1h0m9 0h0m59 0h0m66 0h0m20 0h0m-148 1h0m129 0h0m-135 1h0m5 0h0m47 0h0m84 0h0m-67 1h0m10 1h0m11 0h0m-23 1h0m15 2h0m56 0h0m-52 1h0m1 1h0m-74 1h0m14 3h0m-1 1h0m42 1h0m-61 1h0m88 0h0m-69 3h0m-7 1h0m130 0h0m-67 1h0m-66 2h0m1 0h0m54 0h0m-52 1h0m-12 1h0m145 1h0m-136 1h0m62 0h0m83 0h0m1 0h0m-148 1h0m134 0h0m-146 7h0" stroke="#d1e9c2"/><path d="M552.5 24.5h0m-9 1h0m11 0h0m2 0h0m3 0h0m7 1h0m-16 1h0m3 0h0m1 0h0m3 0h0m1 0h0m5 0h0m7 0h0m2 0h0m-60 1h0m42 0h0m1 0h0m3 0h0m5 0h0m7 0h0m1 0h0m3 0h0m-20 1h0m3 0h0m1 0h0m2 0h0m8 0h0m-14 1h0m6 0h0m1 0h0m4 0h0m3 0h0m2 0h0m1 0h0m-178 1h0m165 0h0m1 0h0m1 0h0m2 0h0m1 0h0m2 0h0m-5 1h0m-196 1h0m7 0h0m8 0h0m13 0h0m5 0h0m162 0h0m-2 1h0m-46 1h0m-141 1h0m96 0h0m-89 1h0m84 0h0m-85 1h0m89 0h0m10 0h0m32 1h0m-142 1h0m96 0h0m2 0h0m4 0h0m-10 1h0m4 0h0m-84 1h0m86 2h0m-11 20h0m2 4h0m4 0h0m18 10h0m3 3h0m-9 5h0m-1 1h0" stroke="#eb565d"/><path d="M561.5 24.5h0m-228 1h0m178 0h0m4 0h0m-159 2h0m6 1h0m100 0h0m-122 1h0m4 0h0m39 0h0m77 0h0m64 0h0m13 0h0m-204 1h0m36 0h0m90 0h0m-89 1h0m129 0h0m-139 1h0m124 1h0m10 0h0m-25 1h0m39 0h0m23 1h0m-1 1h0m-125 1h0m66 0h0m1 1h0m-111 1h0m-4 1h0m26 1h0m-24 1h0m128 0h0m45 0h0m4 0h0m4 0h0m6 0h0m-11 1h0m11 0h0m-28 1h0m-137 1h0m167 0h0m1 0h0m1 0h0m-175 1h0m104 0h0m28 0h0m1 0h0m10 0h0m32 0h0m-158 1h0m71 0h0m14 0h0m44 0h0m-138 1h0m5 0h0m93 0h0m26 1h0m-25 1h0m2 0h0m-121 1h0m124 0h0m66 0h0m-188 1h0m11 0h0m132 0h0m-131 1h0m106 0h0m5 0h0m-115 1h0m4 0h0m142 2h0m-28 1h0m-8 2h0m50 2h0m2 1h0m-62 1h0m38 1h0m24 0h0m-91 1h0m21 0h0m69 0h0m-140 2h0m81 1h0m-14 1h0m12 1h0m13 1h0m-17 2h0m60 0h0m-59 1h0m75 0h0m-150 1h0m138 0h0m-65 1h0m77 0h0m-140 1h0m16 0h0m-13 7h0m69 1h0m-1 3h0m87 1h0m-87 1h0m83 0h0m6 0h0m-23 1h0m-69 1h0m-70 1h0m70 0h0m-68 2h0m-5 1h0m4 3h0m1 0h0m180 3h0m-189 4h0m-1 3h0" stroke="#e9f3ba"/><path d="M564.5 24.5h0m-7 1h0m4 1h0m-49 1h0m-2 2h0m48 1h0m-161 4h0m98 0h0m17 0h0m-115 1h0m90 0h0m61 1h0m-42 1h0m-137 1h0m93 0h0m8 1h0m-18 30h0m5 1h0m20 13h0m81 7h0" stroke="#f9f48a"/><path d="M550.5 25.5h0m15 0h0m0 1h0m-55 1h0m-2 1h0m2 0h0m63 0h0m-53 1h0m33 0h0m16 1h0m-19 1h0m-157 1h0m165 1h0m-189 1h0m2 0h0m142 1h0m-121 1h0m-19 1h0m143 0h0m-143 1h0m82 2h0m57 0h0m-52 1h0m3 0h0m-92 2h0m-1 2h0m72 22h0m13 1h0m6 0h0m3 1h0m3 0h0m7 12h0m2 1h0m-5 2h0" stroke="#f69c66"/><path d="M570.5 25.5h0m-61 3h0m46 1h0m-44 2h0m58 0h0m-56 1h0m1 0h0m-6 4h0m2 0h0m6 0h0m-9 1h0m1 0h0m1 0h0m43 0h0m-46 1h0m2 1h0m3 0h0m-43 1h0m39 0h0m1 0h0m1 0h0m-51 2h0m1 21h0m2 2h0m8 21h0m6 3h0" stroke="#69a9d8"/><path d="M511.5 26.5h0m53 0h0m0 3h0m-49 1h0m41 1h0m2 1h0m-181 1h0m107 2h0m31 3h0m-9 2h0m-37 1h0m39 0h0m-43 1h0m0 1h0m-13 19h0m3 0h0m3 2h0m5 1h0m-10 1h0m6 0h0m11 13h0m89 10h0" stroke="#8abdda"/><path d="M555.5 26.5h0m-96 5h0m37 1h0m63 2h0m-69 1h0m22 3h0m-46 1h0m46 0h0m-135 4h0m2 3h0m92 36h0m-7 5h0m15 0h0m83 6h0" stroke="#a5d2c7"/><path d="M563.5 26.5h0m-1 3h0m1 0h0m-63 3h0m-124 1h0m126 1h0m-6 1h0m4 0h0m-118 1h0m168 0h0m-170 1h0m4 0h0m15 0h0m113 0h0m1 0h0m-133 1h0m130 1h0m-45 2h0m-83 2h0m-3 5h0m76 17h0m2 1h0m-4 1h0m111 26h0" stroke="#faca77"/><path d="M508.5 27.5h0m48 0h0m8 0h0m-8 1h0m-42 2h0m39 0h0m-59 2h0m1 0h0m3 0h0m-104 1h0m102 1h0m-3 2h0m5 1h0m-31 1h0m-2 2h0m45 0h0m-146 2h0m102 0h0m-88 1h0m79 0h0m-88 2h0m88 19h0m10 16h0m6 1h0m2 5h0m70 3h0m5 0h0m1 1h0m-81 4h0" stroke="#fae67e"/><path d="M568.5 27.5h0m1 0h0m-1 1h0m-1 2h0m-173 2h0m2 2h0" stroke="#ed6037"/><path d="M564.5 28.5h0m-51 1h0m-23 2h0m9 4h0m-33 3h0m-4 1h0m6 0h0m-78 1h0m81 2h0m-15 1h0m-86 4h0" stroke="#c0e1ac"/><path d="M565.5 28.5h0" stroke="#f48542"/><path d="M567.5 28.5h0" stroke="#f9e060"/><path d="M512.5 29.5h0m1 2h0m-140 2h0m6 2h0m129 0h0m41 0h0m-56 3h0m-122 1h0m90 0h0m-84 1h0m77 27h0m91 24h0m17 5h0" stroke="#f8b46f"/><path d="M570.5 29.5h0m-175 4h0m0 1h0" stroke="#e62e37"/><path d="M512.5 31.5h0m45 0h0m-48 5h0m-1 2h0m1 0h0m1 0h0m-1 1h0" stroke="#4595cf"/><path d="M514.5 31.5h0m-5 1h0m67 2h0m-69 2h0m-134 9h0m95 37h0m9 2h0m75 9h0" stroke="#e0efa0"/><path d="M511.5 38.5h0" stroke="#8fc8b9"/><path d="M394.5 16.5h0m-12 1h0m12 0h0m133 0h0m-57 1h0m56 0h0m3 0h0m3 0h0m-155 1h0m16 0h0m74 0h0m62 0h0m-157 1h0m1 0h0m19 0h0m73 0h0m37 0h0m1 0h0m2 0h0m25 0h0m5 0h0m1 0h0m-173 1h0m1 0h0m1 0h0m8 0h0m6 0h0m8 0h0m2 0h0m107 0h0m3 0h0m2 0h0m33 0h0m24 0h0m-202 1h0m3 0h0m2 0h0m1 0h0m12 0h0m3 0h0m5 0h0m1 0h0m132 0h0m6 0h0m-156 1h0m16 0h0m12 0h0m103 0h0m17 0h0m31 0h0m5 0h0m-220 1h0m1 0h0m1 0h0m31 0h0m12 0h0m3 0h0m1 0h0m1 0h0m3 0h0m12 0h0m76 0h0m26 0h0m14 0h0m1 0h0m62 0h0m1 0h0m-237 1h0m8 0h0m7 0h0m12 0h0m15 0h0m3 0h0m7 0h0m81 0h0m106 0h0m2 0h0m-263 1h0m29 0h0m4 0h0m14 0h0m1 0h0m4 0h0m7 0h0m1 0h0m2 0h0m5 0h0m11 0h0m70 0h0m1 0h0m14 0h0m13 0h0m1 0h0m6 0h0m2 0h0m4 0h0m78 0h0m7 0h0m-273 1h0m2 0h0m55 0h0m4 0h0m85 0h0m25 0h0m-169 1h0m8 0h0m58 0h0m6 0h0m89 0h0m-153 1h0m59 0h0m84 0h0m13 0h0m108 0h0m-18 1h0m-234 1h0m1 0h0m4 0h0m122 0h0m109 0h0m3 0h0m3 0h0m1 0h0m-236 1h0m34 0h0m87 0h0m-132 1h0m13 0h0m2 1h0m1 0h0m2 3h0m1 1h0m1 1h0m40 66h0m6 0h0m-6 1h0m7 0h0m-1 1h0m-6 1h0m0 1h0m1 1h0m2 1h0m1 0h0m1 0h0" stroke="#c4c4c4"/><path d="M397.5 16.5h0m3 0h0m1 0h0m10 0h0m1 0h0m2 0h0m6 0h0m5 0h0m4 0h0m8 0h0m-41 1h0m1 0h0m1 0h0m5 0h0m3 0h0m5 0h0m3 0h0m1 0h0m1 0h0m2 0h0m1 0h0m14 0h0m2 0h0m1 0h0m1 0h0m4 0h0m-45 1h0m44 0h0m-45 1h0m1 0h0m1 1h0m6 0h0m3 0h0m-7 1h0m1 0h0m3 0h0m2 0h0m1 0h0m30 0h0m1 0h0m-29 1h0m28 0h0m1 0h0m-41 2h0m3 0h0m11 0h0m-12 1h0m1 0h0m1 0h0m30 0h0m1 0h0m-29 1h0m9 0h0m15 0h0m6 0h0m-29 1h0m20 0h0m1 0h0m11 0h0m6 0h0m-17 1h0m9 0h0m1 0h0m1 0h0m1 0h0m2 0h0m1 0h0m2 0h0m1 0h0m-44 1h0m1 0h0m4 0h0m10 0h0m8 0h0m17 0h0m2 0h0m-45 1h0m1 0h0m2 0h0m3 0h0m19 0h0m-5 1h0m3 0h0m1 1h0" stroke="#b4b4b4"/></g>
<rect x="313.45" y="7.55" width="281.75" height="111.65" fill="none" stroke="#3a3a3a" stroke-width="1.25"/>
<text transform="translate(307.95,25.40) scale(1.2,1) rotate(-90)" class="h" font-size="7.0" font-weight="bold" text-anchor="middle" textLength="14.40" lengthAdjust="spacingAndGlyphs">70<tspan font-size="5.6" dy="-0.6">°</tspan><tspan dy="0.6">N</tspan></text>
<text transform="translate(307.95,52.94) scale(1.2,1) rotate(-90)" class="h" font-size="7.0" font-weight="bold" text-anchor="middle" textLength="14.40" lengthAdjust="spacingAndGlyphs">30<tspan font-size="5.6" dy="-0.6">°</tspan><tspan dy="0.6">N</tspan></text>
<text transform="translate(307.95,80.49) scale(1.2,1) rotate(-90)" class="h" font-size="7.0" font-weight="bold" text-anchor="middle" textLength="14.40" lengthAdjust="spacingAndGlyphs">10<tspan font-size="5.6" dy="-0.6">°</tspan><tspan dy="0.6">S</tspan></text>
<text transform="translate(307.95,108.03) scale(1.2,1) rotate(-90)" class="h" font-size="7.0" font-weight="bold" text-anchor="middle" textLength="14.40" lengthAdjust="spacingAndGlyphs">50<tspan font-size="5.6" dy="-0.6">°</tspan><tspan dy="0.6">S</tspan></text>
<path d="M310.55 25.40H313.45M310.55 52.94H313.45M310.55 80.49H313.45M310.55 108.03H313.45" stroke="#3a3a3a" stroke-width="1.1" fill="none"/>
<text x="313.70" y="128.70" font-size="7.0" font-weight="bold" text-anchor="middle" textLength="15.20" lengthAdjust="spacingAndGlyphs">180<tspan font-size="5.6" dy="-0.6">°</tspan><tspan dy="0.6"></tspan></text>
<text x="344.46" y="128.70" font-size="7.0" font-weight="bold" text-anchor="middle" textLength="22.14" lengthAdjust="spacingAndGlyphs">140<tspan font-size="5.6" dy="-0.6">°</tspan><tspan dy="0.6">W</tspan></text>
<text x="375.21" y="128.70" font-size="7.0" font-weight="bold" text-anchor="middle" textLength="22.14" lengthAdjust="spacingAndGlyphs">100<tspan font-size="5.6" dy="-0.6">°</tspan><tspan dy="0.6">W</tspan></text>
<text x="405.97" y="128.70" font-size="7.0" font-weight="bold" text-anchor="middle" textLength="18.05" lengthAdjust="spacingAndGlyphs">60<tspan font-size="5.6" dy="-0.6">°</tspan><tspan dy="0.6">W</tspan></text>
<text x="436.72" y="128.70" font-size="7.0" font-weight="bold" text-anchor="middle" textLength="18.05" lengthAdjust="spacingAndGlyphs">20<tspan font-size="5.6" dy="-0.6">°</tspan><tspan dy="0.6">W</tspan></text>
<text x="467.48" y="128.70" font-size="7.0" font-weight="bold" text-anchor="middle" textLength="16.02" lengthAdjust="spacingAndGlyphs">20<tspan font-size="5.6" dy="-0.6">°</tspan><tspan dy="0.6">E</tspan></text>
<text x="498.24" y="128.70" font-size="7.0" font-weight="bold" text-anchor="middle" textLength="16.02" lengthAdjust="spacingAndGlyphs">60<tspan font-size="5.6" dy="-0.6">°</tspan><tspan dy="0.6">E</tspan></text>
<text x="528.99" y="128.70" font-size="7.0" font-weight="bold" text-anchor="middle" textLength="20.10" lengthAdjust="spacingAndGlyphs">100<tspan font-size="5.6" dy="-0.6">°</tspan><tspan dy="0.6">E</tspan></text>
<text x="559.75" y="128.70" font-size="7.0" font-weight="bold" text-anchor="middle" textLength="20.10" lengthAdjust="spacingAndGlyphs">140<tspan font-size="5.6" dy="-0.6">°</tspan><tspan dy="0.6">E</tspan></text>
<text x="590.50" y="128.70" font-size="7.0" font-weight="bold" text-anchor="middle" textLength="15.20" lengthAdjust="spacingAndGlyphs">180<tspan font-size="5.6" dy="-0.6">°</tspan><tspan dy="0.6"></tspan></text>
<path d="M313.70 119.20V121.80M344.46 119.20V121.80M375.21 119.20V121.80M405.97 119.20V121.80M436.72 119.20V121.80M467.48 119.20V121.80M498.24 119.20V121.80M528.99 119.20V121.80M559.75 119.20V121.80M590.50 119.20V121.80" stroke="#3a3a3a" stroke-width="1" fill="none"/>
<text x="321.85" y="19.15" font-size="9.6" font-weight="bold" textLength="11.90" lengthAdjust="spacingAndGlyphs">(b)</text>
<path d="M584.80 13.75L580.10 25.65L584.80 21.95Z" fill="#111"/>
<path d="M584.80 13.75L589.50 25.65L584.80 21.95Z" fill="#fff" stroke="#111" stroke-width="0.75" stroke-linejoin="round"/>
<text x="584.10" y="11.30" font-size="5.0" font-weight="bold" text-anchor="middle">N</text>
<rect x="449.60" y="111.30" width="69.40" height="2.9" fill="#000"/>
<rect x="467.50" y="111.75" width="16.5" height="2.0" fill="#f4f4f4" stroke="#9a9a9a" stroke-width="0.5"/>
<text x="449.70" y="108.70" class="l" font-size="5.0" text-anchor="middle" fill="#222">0</text>
<text x="467.00" y="108.70" class="l" font-size="5.0" text-anchor="middle" textLength="15.00" lengthAdjust="spacingAndGlyphs" fill="#222">2,500</text>
<text x="484.10" y="108.70" class="l" font-size="5.0" text-anchor="middle" textLength="14.10" lengthAdjust="spacingAndGlyphs" fill="#222">5,000</text>
<text x="518.00" y="108.70" class="l" font-size="5.0" text-anchor="middle" textLength="18.00" lengthAdjust="spacingAndGlyphs" fill="#222">10,000</text>
<text x="520.50" y="114.45" class="l" font-size="5.3" font-weight="bold" textLength="30.20" lengthAdjust="spacingAndGlyphs" fill="#111">Kilometers</text>
<rect x="327.00" y="88.46" width="4.15" height="19.74" fill="#4b9fd5"/>
<rect x="332.12" y="87.80" width="4.15" height="20.40" fill="#16507e"/>
<rect x="337.24" y="91.66" width="4.15" height="16.54" fill="#7cc242"/>
<rect x="342.36" y="94.85" width="4.15" height="13.35" fill="#1f7a2b"/>
<rect x="347.48" y="95.98" width="4.15" height="12.22" fill="#f5222b"/>
<rect x="352.60" y="97.11" width="4.15" height="11.09" fill="#a31218"/>
<rect x="357.72" y="97.11" width="4.15" height="11.09" fill="#fb9526"/>
<rect x="362.84" y="97.11" width="4.15" height="11.09" fill="#c9b3d9"/>
<rect x="367.96" y="95.04" width="4.15" height="13.16" fill="#a9561a"/>
<rect x="373.08" y="93.54" width="4.15" height="14.66" fill="#3c1f6e"/>
<rect x="378.20" y="94.48" width="4.15" height="13.72" fill="#f9ef2b"/>
<rect x="383.32" y="84.70" width="4.15" height="23.50" fill="#6e3513"/>
<path d="M326.30 80.00V108.20H388.80" fill="none" stroke="#222" stroke-width="0.8"/>
<text x="324.90" y="109.50" class="m" font-size="3.6" font-weight="bold" text-anchor="end" fill="#111">0</text>
<text x="324.90" y="100.10" class="m" font-size="3.6" font-weight="bold" text-anchor="end" fill="#111">5</text>
<text x="324.90" y="90.70" class="m" font-size="3.6" font-weight="bold" text-anchor="end" fill="#111">10</text>
<text x="324.90" y="81.30" class="m" font-size="3.6" font-weight="bold" text-anchor="end" fill="#111">15</text>
<text x="334.19" y="113.00" class="m" font-size="3.4" font-weight="bold" text-anchor="middle" fill="#111">2</text>
<text x="344.43" y="113.00" class="m" font-size="3.4" font-weight="bold" text-anchor="middle" fill="#111">4</text>
<text x="354.67" y="113.00" class="m" font-size="3.4" font-weight="bold" text-anchor="middle" fill="#111">6</text>
<text x="364.91" y="113.00" class="m" font-size="3.4" font-weight="bold" text-anchor="middle" fill="#111">8</text>
<text x="375.15" y="113.00" class="m" font-size="3.4" font-weight="bold" text-anchor="middle" fill="#111">10</text>
<text x="385.39" y="113.00" class="m" font-size="3.4" font-weight="bold" text-anchor="middle" fill="#111">12</text>
<path d="M325.10 108.20H326.30M325.10 98.80H326.30M325.10 89.40H326.30M325.10 80.00H326.30M334.19 108.20V109.20M344.43 108.20V109.20M354.67 108.20V109.20M364.91 108.20V109.20M375.15 108.20V109.20M385.39 108.20V109.20" stroke="#333" stroke-width="0.5" fill="none"/>
<text x="356.50" y="117.20" class="m" font-size="4.9" font-weight="bold" text-anchor="middle" textLength="14.80" lengthAdjust="spacingAndGlyphs" fill="#1a1a1a">Month</text>
<text transform="translate(319.40,95.70) scale(1.2,1) rotate(-90)" class="m" font-size="3.9" font-weight="bold" text-anchor="middle" textLength="30.00" lengthAdjust="spacingAndGlyphs" fill="#111">Percentage (%)</text>
<g stroke-width="1.25" stroke-linecap="round" fill="none"><path d="M165.5 146.5h0m2 1h0m30 3h0m32 0h0m3 0h0m7 0h0m3 0h0m-183 1h0m31 0h0m5 0h0m100 0h0m1 0h0m45 0h0m2 0h0m7 0h0m3 0h0m-213 1h0m2 0h0m12 0h0m21 0h0m13 0h0m83 0h0m82 0h0m1 0h0m1 0h0m1 0h0m3 0h0m-217 1h0m4 0h0m2 0h0m3 0h0m6 0h0m27 0h0m4 0h0m109 0h0m17 0h0m23 0h0m18 0h0m14 0h0m12 0h0m1 0h0m-239 1h0m18 0h0m3 0h0m3 0h0m6 0h0m1 0h0m7 0h0m6 0h0m79 0h0m2 0h0m2 0h0m4 0h0m3 0h0m11 0h0m1 0h0m5 0h0m2 0h0m3 0h0m11 0h0m19 0h0m4 0h0m3 0h0m2 0h0m5 0h0m8 0h0m1 0h0m15 0h0m12 0h0m1 0h0m1 0h0m1 0h0m1 0h0m4 0h0m-271 1h0m10 0h0m3 0h0m9 0h0m26 0h0m2 0h0m5 0h0m9 0h0m4 0h0m80 0h0m1 0h0m1 0h0m3 0h0m19 0h0m7 0h0m3 0h0m3 0h0m1 0h0m7 0h0m4 0h0m33 0h0m4 0h0m2 0h0m2 0h0m1 0h0m11 0h0m2 0h0m12 0h0m2 0h0m-253 1h0m15 0h0m4 0h0m14 0h0m3 0h0m1 0h0m4 0h0m9 0h0m1 0h0m9 0h0m1 0h0m1 0h0m71 0h0m1 0h0m2 0h0m1 0h0m1 0h0m2 0h0m21 0h0m3 0h0m4 0h0m1 0h0m4 0h0m1 0h0m1 0h0m5 0h0m1 0h0m1 0h0m11 0h0m22 0h0m11 0h0m1 0h0m22 0h0m6 0h0m-242 1h0m1 0h0m1 0h0m3 0h0m1 0h0m3 0h0m8 0h0m6 0h0m3 0h0m11 0h0m82 0h0m5 0h0m24 0h0m17 0h0m3 0h0m1 0h0m20 0h0m36 0h0m10 0h0m5 0h0m-247 1h0m10 0h0m7 0h0m3 0h0m3 0h0m17 0h0m85 0h0m2 0h0m2 0h0m2 0h0m6 0h0m8 0h0m7 0h0m4 0h0m8 0h0m10 0h0m1 0h0m7 0h0m28 0h0m26 0h0m-191 1h0m81 0h0m2 0h0m2 0h0m23 0h0m4 0h0m14 0h0m2 0h0m23 0h0m12 0h0m2 0h0m1 0h0m11 0h0m10 0h0m1 0h0m13 0h0m-249 1h0m22 0h0m5 0h0m10 0h0m9 0h0m26 0h0m59 0h0m1 0h0m9 0h0m1 0h0m2 0h0m10 0h0m8 0h0m3 0h0m8 0h0m27 0h0m11 0h0m3 0h0m11 0h0m21 0h0m-246 1h0m23 0h0m3 0h0m2 0h0m22 0h0m1 0h0m21 0h0m1 0h0m57 0h0m2 0h0m7 0h0m1 0h0m1 0h0m15 0h0m4 0h0m14 0h0m3 0h0m25 0h0m4 0h0m1 0h0m4 0h0m2 0h0m1 0h0m2 0h0m7 0h0m1 0h0m3 0h0m2 0h0m14 0h0m1 0h0m-220 1h0m1 0h0m1 0h0m2 0h0m23 0h0m24 0h0m63 0h0m2 0h0m1 0h0m1 0h0m1 0h0m1 0h0m13 0h0m2 0h0m1 0h0m2 0h0m1 0h0m2 0h0m36 0h0m10 0h0m1 0h0m2 0h0m2 0h0m10 0h0m-202 1h0m1 0h0m1 0h0m1 0h0m1 0h0m21 0h0m13 0h0m2 0h0m11 0h0m41 0h0m13 0h0m8 0h0m4 0h0m1 0h0m1 0h0m11 0h0m4 0h0m1 0h0m1 0h0m6 0h0m1 0h0m12 0h0m27 0h0m5 0h0m4 0h0m2 0h0m2 0h0m1 0h0m4 0h0m1 0h0m1 0h0m1 0h0m-204 1h0m4 0h0m1 0h0m21 0h0m8 0h0m4 0h0m1 0h0m8 0h0m45 0h0m13 0h0m1 0h0m8 0h0m1 0h0m1 0h0m1 0h0m1 0h0m1 0h0m1 0h0m1 0h0m16 0h0m4 0h0m13 0h0m4 0h0m1 0h0m13 0h0m13 0h0m1 0h0m1 0h0m2 0h0m10 0h0m2 0h0m5 0h0m-205 1h0m2 0h0m1 0h0m3 0h0m23 0h0m5 0h0m3 0h0m1 0h0m1 0h0m1 0h0m9 0h0m65 0h0m6 0h0m12 0h0m35 0h0m30 0h0m5 0h0m2 0h0m1 0h0m-204 1h0m2 0h0m1 0h0m5 0h0m21 0h0m6 0h0m1 0h0m1 0h0m1 0h0m1 0h0m67 0h0m4 0h0m13 0h0m12 0h0m18 0h0m3 0h0m2 0h0m3 0h0m36 0h0m3 0h0m5 0h0m-202 1h0m1 0h0m27 0h0m5 0h0m1 0h0m3 0h0m6 0h0m1 0h0m7 0h0m47 0h0m4 0h0m21 0h0m8 0h0m2 0h0m1 0h0m1 0h0m10 0h0m5 0h0m1 0h0m2 0h0m5 0h0m28 0h0m6 0h0m4 0h0m1 0h0m1 0h0m-199 1h0m1 0h0m1 0h0m1 0h0m7 0h0m23 0h0m3 0h0m4 0h0m3 0h0m54 0h0m1 0h0m1 0h0m1 0h0m1 0h0m2 0h0m9 0h0m5 0h0m5 0h0m4 0h0m5 0h0m5 0h0m1 0h0m13 0h0m2 0h0m39 0h0m7 0h0m1 0h0m-199 1h0m1 0h0m2 0h0m2 0h0m29 0h0m7 0h0m4 0h0m1 0h0m53 0h0m18 0h0m9 0h0m5 0h0m6 0h0m2 0h0m6 0h0m44 0h0m1 0h0m-190 1h0m1 0h0m1 0h0m1 0h0m34 0h0m3 0h0m87 0h0m8 0h0m1 0h0m1 0h0m2 0h0m1 0h0m3 0h0m52 0h0m-194 1h0m2 0h0m1 0h0m1 0h0m1 0h0m1 0h0m5 0h0m2 0h0m4 0h0m2 0h0m9 0h0m9 0h0m1 0h0m1 0h0m88 0h0m8 0h0m1 0h0m1 0h0m1 0h0m1 0h0m1 0h0m6 0h0m35 0h0m3 0h0m5 0h0m2 0h0m1 0h0m10 0h0m-200 1h0m1 0h0m4 0h0m10 0h0m9 0h0m7 0h0m77 0h0m18 0h0m3 0h0m5 0h0m1 0h0m1 0h0m6 0h0m1 0h0m36 0h0m4 0h0m-182 1h0m1 0h0m2 0h0m1 0h0m10 0h0m1 0h0m3 0h0m8 0h0m91 0h0m1 0h0m5 0h0m2 0h0m8 0h0m3 0h0m1 0h0m3 0h0m15 0h0m44 0h0m1 0h0m-202 1h0m2 0h0m1 0h0m1 0h0m2 0h0m3 0h0m8 0h0m1 0h0m7 0h0m4 0h0m95 0h0m3 0h0m2 0h0m8 0h0m26 0h0m1 0h0m1 0h0m2 0h0m17 0h0m16 0h0m-201 1h0m3 0h0m1 0h0m2 0h0m14 0h0m10 0h0m2 0h0m87 0h0m3 0h0m6 0h0m8 0h0m26 0h0m6 0h0m4 0h0m8 0h0m5 0h0m1 0h0m1 0h0m6 0h0m7 0h0m2 0h0m-198 1h0m1 0h0m17 0h0m8 0h0m1 0h0m1 0h0m61 0h0m3 0h0m2 0h0m30 0h0m1 0h0m3 0h0m5 0h0m6 0h0m29 0h0m2 0h0m12 0h0m10 0h0m3 0h0m2 0h0m-196 1h0m1 0h0m12 0h0m6 0h0m6 0h0m3 0h0m110 0h0m25 0h0m4 0h0m5 0h0m7 0h0m1 0h0m1 0h0m-182 1h0m2 0h0m4 0h0m4 0h0m16 0h0m57 0h0m3 0h0m9 0h0m1 0h0m4 0h0m1 0h0m18 0h0m2 0h0m42 0h0m1 0h0m4 0h0m1 0h0m7 0h0m3 0h0m3 0h0m1 0h0m8 0h0m-190 1h0m1 0h0m3 0h0m1 0h0m7 0h0m11 0h0m60 0h0m12 0h0m14 0h0m3 0h0m2 0h0m4 0h0m44 0h0m18 0h0m1 0h0m-180 1h0m1 0h0m1 0h0m8 0h0m1 0h0m2 0h0m1 0h0m103 0h0m16 0h0m4 0h0m7 0h0m3 0h0m15 0h0m1 0h0m10 0h0m1 0h0m-174 1h0m1 0h0m3 0h0m6 0h0m1 0h0m130 0h0m33 0h0m1 0h0m2 0h0m2 0h0m-177 1h0m7 0h0m1 0h0m129 0h0m6 0h0m4 0h0m14 0h0m1 0h0m2 0h0m10 0h0m1 0h0m1 0h0m-176 1h0m8 0h0m90 0h0m60 0h0m-157 1h0m80 0h0m1 0h0m1 0h0m75 0h0m2 0h0m3 0h0m7 0h0m-161 1h0m1 0h0m65 0h0m29 0h0m26 0h0m19 0h0m10 0h0m1 0h0m1 0h0m2 0h0m6 0h0m-163 1h0m1 0h0m78 0h0m65 0h0m9 0h0m1 0h0m-152 1h0m143 0h0m12 0h0m1 0h0m7 0h0m-77 1h0m50 0h0m1 0h0m1 0h0m-135 1h0m1 0h0m79 0h0m5 0h0m15 0h0m32 0h0m5 0h0m16 0h0m15 0h0m-161 1h0m2 0h0m1 0h0m52 0h0m8 0h0m3 0h0m8 0h0m7 0h0m9 0h0m5 0h0m6 0h0m-100 1h0m2 0h0m71 0h0m2 0h0m4 0h0m3 0h0m6 0h0m1 0h0m4 0h0m1 0h0m2 0h0m6 0h0m24 0h0m35 0h0m1 0h0m-82 1h0m1 0h0m2 0h0m7 0h0m1 0h0m1 0h0m8 0h0m6 0h0m-104 1h0m1 0h0m53 0h0m21 0h0m4 0h0m11 0h0m10 0h0m3 0h0m1 0h0m22 0h0m-108 1h0m38 0h0m1 0h0m1 0h0m6 0h0m3 0h0m8 0h0m14 0h0m1 0h0m9 0h0m3 0h0m1 0h0m-90 1h0m45 0h0m4 0h0m1 0h0m8 0h0m6 0h0m2 0h0m4 0h0m4 0h0m1 0h0m4 0h0m7 0h0m1 0h0m1 0h0m1 0h0m1 0h0m57 0h0m1 0h0m-153 1h0m10 0h0m1 0h0m41 0h0m10 0h0m2 0h0m7 0h0m1 0h0m2 0h0m1 0h0m4 0h0m2 0h0m10 0h0m1 0h0m1 0h0m1 0h0m-95 1h0m4 0h0m4 0h0m5 0h0m1 0h0m1 0h0m2 0h0m50 0h0m10 0h0m1 0h0m1 0h0m1 0h0m10 0h0m5 0h0m38 0h0m14 0h0m1 0h0m1 0h0m-149 1h0m6 0h0m1 0h0m1 0h0m1 0h0m1 0h0m1 0h0m3 0h0m3 0h0m54 0h0m3 0h0m1 0h0m1 0h0m1 0h0m2 0h0m2 0h0m56 0h0m9 0h0m2 0h0m-145 1h0m4 0h0m2 0h0m1 0h0m1 0h0m1 0h0m1 0h0m1 0h0m52 0h0m6 0h0m5 0h0m1 0h0m1 0h0m55 0h0m9 0h0m-145 1h0m1 0h0m5 0h0m3 0h0m2 0h0m2 0h0m4 0h0m3 0h0m1 0h0m49 0h0m4 0h0m6 0h0m1 0h0m1 0h0m1 0h0m1 0h0m5 0h0m-82 1h0m1 0h0m1 0h0m1 0h0m1 0h0m1 0h0m1 0h0m2 0h0m1 0h0m2 0h0m60 0h0m3 0h0m-74 1h0m2 0h0m1 0h0m1 0h0m1 0h0m1 0h0m1 0h0m3 0h0m3 0h0m3 0h0m2 0h0m43 0h0m3 0h0m6 0h0m1 0h0m2 0h0m5 0h0m1 0h0m1 0h0m2 0h0m58 0h0m16 0h0m1 0h0m2 0h0m-166 1h0m9 0h0m1 0h0m1 0h0m1 0h0m4 0h0m1 0h0m1 0h0m4 0h0m3 0h0m3 0h0m2 0h0m48 0h0m1 0h0m5 0h0m6 0h0m63 0h0m12 0h0m1 0h0m-165 1h0m4 0h0m9 0h0m2 0h0m2 0h0m1 0h0m4 0h0m5 0h0m3 0h0m48 0h0m10 0h0m78 0h0m-166 1h0m6 0h0m9 0h0m1 0h0m3 0h0m3 0h0m8 0h0m47 0h0m2 0h0m1 0h0m1 0h0m2 0h0m6 0h0m53 0h0m1 0h0m2 0h0m1 0h0m20 0h0m1 0h0m5 0h0m-166 1h0m2 0h0m1 0h0m4 0h0m1 0h0m10 0h0m5 0h0m1 0h0m41 0h0m15 0h0m-87 1h0m1 0h0m6 0h0m1 0h0m1 0h0m6 0h0m5 0h0m2 0h0m1 0h0m1 0h0m62 0h0m4 0h0m85 0h0m-174 1h0m3 0h0m1 0h0m2 0h0m2 0h0m7 0h0m4 0h0m9 0h0m55 0h0m7 0h0m-90 1h0m1 0h0m2 0h0m3 0h0m3 0h0m3 0h0m3 0h0m6 0h0m1 0h0m63 0h0m77 0h0m2 0h0m-160 1h0m1 0h0m1 0h0m1 0h0m2 0h0m4 0h0m5 0h0m1 0h0m2 0h0m3 0h0m3 0h0m59 0h0m1 0h0m75 0h0m1 0h0m-161 1h0m6 0h0m3 0h0m1 0h0m3 0h0m2 0h0m2 0h0m2 0h0m1 0h0m2 0h0m2 0h0m1 0h0m136 0h0m6 0h0m-155 1h0m4 0h0m3 0h0m1 0h0m2 0h0m1 0h0m1 0h0m2 0h0m126 0h0m1 0h0m9 0h0m2 0h0m-154 1h0m3 0h0m1 0h0m2 0h0m3 0h0m1 0h0m1 0h0m130 0h0m1 0h0m2 0h0m1 0h0m1 0h0m2 0h0m6 0h0m1 0h0m2 0h0m1 0h0m-161 1h0m3 0h0m10 0h0m130 0h0m2 0h0m1 0h0m8 0h0m7 0h0m-160 1h0m4 0h0m2 0h0m5 0h0m1 0h0m2 0h0m126 0h0m3 0h0m3 0h0m9 0h0m1 0h0m3 0h0m1 0h0m3 0h0m-160 1h0m3 0h0m79 0h0m54 0h0m1 0h0m2 0h0m2 0h0m13 0h0m7 0h0m-167 1h0m1 0h0m4 0h0m3 0h0m70 0h0m63 0h0m2 0h0m1 0h0m4 0h0m14 0h0m4 0h0m-166 1h0m140 0h0m3 0h0m4 0h0m2 0h0m11 0h0m7 0h0m-169 1h0m5 0h0m72 0h0m67 0h0m7 0h0m2 0h0m5 0h0m4 0h0m1 0h0m1 0h0m2 0h0m1 0h0m3 0h0m-171 1h0m1 0h0m5 0h0m3 0h0m136 0h0m7 0h0m21 0h0m-173 1h0m1 0h0m5 0h0m1 0h0m1 0h0m151 0h0m6 0h0m-165 1h0m4 0h0m2 0h0m2 0h0m136 0h0m2 0h0m4 0h0m1 0h0m2 0h0m4 0h0m2 0h0m4 0h0m4 0h0m-166 1h0m2 0h0m8 0h0m133 0h0m1 0h0m14 0h0m-159 1h0m7 0h0m2 0h0m1 0h0m-6 1h0m1 0h0m1 0h0m1 0h0m1 0h0m1 0h0m-4 1h0m2 0h0m2 0h0m160 0h0m22 0h0m-186 1h0m187 0h0m-188 1h0m2 0h0m-3 1h0m182 3h0m-188 1h0m0 1h0m3 0h0m2 0h0m-5 1h0m1 0h0m2 0h0m0 1h0m0 1h0m1 0h0" stroke="#fbd2a6"/><path d="M76.5 148.5h0m11 0h0m140 2h0m4 0h0m-159 1h0m153 0h0m4 0h0m31 0h0m-193 1h0m2 0h0m1 0h0m1 0h0m2 0h0m23 0h0m114 0h0m19 0h0m9 0h0m1 0h0m1 0h0m12 0h0m6 0h0m3 0h0m-232 1h0m14 0h0m6 0h0m9 0h0m1 0h0m12 0h0m11 0h0m5 0h0m93 0h0m2 0h0m41 0h0m5 0h0m12 0h0m2 0h0m16 0h0m6 0h0m-247 1h0m2 0h0m49 0h0m2 0h0m7 0h0m104 0h0m3 0h0m48 0h0m22 0h0m1 0h0m15 0h0m-253 1h0m25 0h0m20 0h0m13 0h0m1 0h0m104 0h0m9 0h0m1 0h0m14 0h0m28 0h0m4 0h0m2 0h0m4 0h0m46 0h0m1 0h0m1 0h0m-215 1h0m7 0h0m86 0h0m6 0h0m10 0h0m1 0h0m1 0h0m2 0h0m1 0h0m2 0h0m10 0h0m7 0h0m5 0h0m15 0h0m4 0h0m3 0h0m31 0h0m3 0h0m-217 1h0m15 0h0m5 0h0m8 0h0m2 0h0m1 0h0m80 0h0m20 0h0m3 0h0m11 0h0m4 0h0m11 0h0m18 0h0m6 0h0m36 0h0m16 0h0m1 0h0m-211 1h0m4 0h0m77 0h0m14 0h0m3 0h0m10 0h0m17 0h0m1 0h0m2 0h0m1 0h0m1 0h0m4 0h0m20 0h0m2 0h0m9 0h0m12 0h0m3 0h0m11 0h0m-196 1h0m5 0h0m16 0h0m64 0h0m16 0h0m6 0h0m19 0h0m2 0h0m2 0h0m2 0h0m2 0h0m2 0h0m2 0h0m44 0h0m-198 1h0m7 0h0m15 0h0m1 0h0m1 0h0m1 0h0m84 0h0m12 0h0m15 0h0m5 0h0m5 0h0m1 0h0m2 0h0m1 0h0m1 0h0m20 0h0m7 0h0m23 0h0m-227 1h0m46 0h0m75 0h0m9 0h0m13 0h0m21 0h0m4 0h0m1 0h0m2 0h0m1 0h0m2 0h0m2 0h0m3 0h0m50 0h0m17 0h0m-215 1h0m12 0h0m1 0h0m1 0h0m1 0h0m1 0h0m1 0h0m6 0h0m65 0h0m2 0h0m9 0h0m46 0h0m3 0h0m18 0h0m7 0h0m2 0h0m5 0h0m13 0h0m-194 1h0m13 0h0m3 0h0m1 0h0m4 0h0m82 0h0m1 0h0m6 0h0m5 0h0m1 0h0m18 0h0m9 0h0m6 0h0m24 0h0m1 0h0m5 0h0m4 0h0m-188 1h0m6 0h0m18 0h0m2 0h0m66 0h0m1 0h0m4 0h0m6 0h0m6 0h0m1 0h0m28 0h0m13 0h0m1 0h0m42 0h0m-193 1h0m17 0h0m77 0h0m8 0h0m2 0h0m1 0h0m1 0h0m2 0h0m13 0h0m2 0h0m10 0h0m4 0h0m3 0h0m12 0h0m38 0h0m2 0h0m5 0h0m1 0h0m4 0h0m-201 1h0m3 0h0m8 0h0m2 0h0m29 0h0m12 0h0m53 0h0m11 0h0m21 0h0m11 0h0m1 0h0m34 0h0m5 0h0m3 0h0m-193 1h0m5 0h0m10 0h0m1 0h0m39 0h0m39 0h0m4 0h0m4 0h0m26 0h0m4 0h0m2 0h0m16 0h0m1 0h0m13 0h0m11 0h0m14 0h0m-184 1h0m12 0h0m2 0h0m5 0h0m4 0h0m86 0h0m16 0h0m14 0h0m2 0h0m1 0h0m1 0h0m1 0h0m6 0h0m33 0h0m7 0h0m-177 1h0m18 0h0m67 0h0m8 0h0m5 0h0m6 0h0m19 0h0m4 0h0m3 0h0m1 0h0m5 0h0m24 0h0m18 0h0m-172 1h0m3 0h0m2 0h0m3 0h0m1 0h0m57 0h0m16 0h0m5 0h0m5 0h0m1 0h0m31 0h0m1 0h0m1 0h0m1 0h0m1 0h0m16 0h0m8 0h0m4 0h0m2 0h0m4 0h0m21 0h0m-190 1h0m3 0h0m71 0h0m1 0h0m1 0h0m4 0h0m47 0h0m3 0h0m3 0h0m2 0h0m2 0h0m16 0h0m4 0h0m1 0h0m3 0h0m10 0h0m-170 1h0m11 0h0m61 0h0m1 0h0m1 0h0m1 0h0m25 0h0m2 0h0m23 0h0m1 0h0m5 0h0m1 0h0m2 0h0m1 0h0m2 0h0m24 0h0m1 0h0m2 0h0m6 0h0m6 0h0m-180 1h0m76 0h0m1 0h0m3 0h0m14 0h0m10 0h0m31 0h0m3 0h0m2 0h0m8 0h0m5 0h0m14 0h0m2 0h0m3 0h0m-167 1h0m72 0h0m3 0h0m19 0h0m7 0h0m22 0h0m1 0h0m2 0h0m5 0h0m4 0h0m-117 1h0m55 0h0m8 0h0m43 0h0m7 0h0m2 0h0m5 0h0m3 0h0m-133 1h0m64 0h0m1 0h0m9 0h0m1 0h0m23 0h0m10 0h0m3 0h0m19 0h0m1 0h0m2 0h0m6 0h0m1 0h0m3 0h0m1 0h0m7 0h0m1 0h0m2 0h0m1 0h0m22 0h0m-182 1h0m1 0h0m69 0h0m7 0h0m2 0h0m26 0h0m31 0h0m1 0h0m16 0h0m3 0h0m3 0h0m-159 1h0m68 0h0m6 0h0m2 0h0m1 0h0m4 0h0m1 0h0m10 0h0m15 0h0m27 0h0m25 0h0m-166 1h0m6 0h0m71 0h0m4 0h0m2 0h0m7 0h0m2 0h0m7 0h0m1 0h0m3 0h0m4 0h0m4 0h0m4 0h0m27 0h0m10 0h0m10 0h0m2 0h0m5 0h0m-45 1h0m30 0h0m20 0h0m-172 1h0m142 0h0m4 0h0m-150 1h0m20 0h0m69 0h0m48 0h0m2 0h0m7 0h0m7 0h0m2 0h0m2 0h0m5 0h0m2 0h0m4 0h0m-76 1h0m46 0h0m6 0h0m1 0h0m2 0h0m1 0h0m17 0h0m2 0h0m6 0h0m1 0h0m-57 1h0m27 0h0m1 0h0m8 0h0m6 0h0m3 0h0m14 0h0m-155 1h0m96 0h0m20 0h0m4 0h0m2 0h0m1 0h0m1 0h0m16 0h0m1 0h0m-155 1h0m92 0h0m11 0h0m31 0h0m5 0h0m9 0h0m3 0h0m2 0h0m5 0h0m-137 1h0m1 0h0m73 0h0m18 0h0m24 0h0m19 0h0m-158 1h0m105 0h0m46 0h0m2 0h0m1 0h0m6 0h0m11 0h0m1 0h0m-104 1h0m17 0h0m16 0h0m6 0h0m10 0h0m41 0h0m3 0h0m-90 1h0m37 0h0m46 0h0m1 0h0m5 0h0m11 0h0m-13 1h0m2 0h0m2 0h0m-89 1h0m15 0h0m72 0h0m-137 1h0m3 0h0m3 0h0m42 0h0m33 0h0m-82 1h0m5 0h0m46 0h0m13 0h0m4 0h0m1 0h0m-17 1h0m17 0h0m4 0h0m9 0h0m2 0h0m5 0h0m64 0h0m-99 1h0m2 0h0m6 0h0m5 0h0m17 0h0m62 0h0m-132 1h0m47 0h0m3 0h0m8 0h0m2 0h0m6 0h0m1 0h0m11 0h0m-93 1h0m1 0h0m2 0h0m12 0h0m67 0h0m11 0h0m40 0h0m-136 1h0m2 0h0m69 0h0m15 0h0m51 0h0m10 0h0m1 0h0m-144 1h0m10 0h0m1 0h0m71 0h0m1 0h0m1 0h0m50 0h0m9 0h0m-146 1h0m1 0h0m2 0h0m10 0h0m57 0h0m15 0h0m60 0h0m2 0h0m-149 1h0m1 0h0m5 0h0m68 0h0m1 0h0m8 0h0m66 0h0m17 0h0m3 0h0m-154 1h0m71 0h0m55 0h0m14 0h0m13 0h0m-169 1h0m2 0h0m7 0h0m4 0h0m19 0h0m2 0h0m41 0h0m8 0h0m1 0h0m59 0h0m-117 1h0m65 0h0m-67 1h0m4 0h0m44 0h0m3 0h0m4 0h0m4 0h0m1 0h0m1 0h0m3 0h0m-76 1h0m1 0h0m8 0h0m2 0h0m55 0h0m8 0h0m-54 1h0m46 0h0m1 0h0m2 0h0m-73 1h0m2 0h0m1 0h0m11 0h0m50 0h0m1 0h0m5 0h0m1 0h0m1 0h0m3 0h0m8 0h0m2 0h0m70 0h0m-159 1h0m1 0h0m26 0h0m49 0h0m1 0h0m2 0h0m8 0h0m2 0h0m6 0h0m61 0h0m4 0h0m-155 1h0m1 0h0m13 0h0m5 0h0m44 0h0m3 0h0m1 0h0m7 0h0m2 0h0m4 0h0m1 0h0m69 0h0m1 0h0m1 0h0m-152 1h0m4 0h0m2 0h0m15 0h0m42 0h0m4 0h0m2 0h0m2 0h0m6 0h0m11 0h0m64 0h0m-134 1h0m1 0h0m2 0h0m43 0h0m1 0h0m2 0h0m1 0h0m1 0h0m7 0h0m79 0h0m-148 1h0m1 0h0m11 0h0m1 0h0m1 0h0m49 0h0m20 0h0m-71 1h0m1 0h0m49 0h0m1 0h0m17 0h0m2 0h0m-88 1h0m2 0h0m1 0h0m5 0h0m58 0h0m4 0h0m16 0h0m1 0h0m81 0h0m-96 1h0m15 0h0m55 0h0m4 0h0m22 0h0m-159 1h0m63 0h0m2 0h0m70 0h0m25 0h0m1 0h0m-162 1h0m63 0h0m3 0h0m74 0h0m-143 1h0m136 0h0m28 0h0m-101 1h0m7 0h0m75 0h0m1 0h0m-80 1h0m71 0h0m19 0h0m1 0h0m-152 1h0m1 0h0m146 0h0m4 0h0m1 0h0m2 0h0m1 0h0m-167 1h0m167 0h0m-168 1h0m1 0h0m9 0h0m156 0h0m1 0h0m-163 1h0m163 0h0m-163 1h0m3 0h0m-5 1h0m-4 1h0m189 0h0m-189 1h0m6 0h0m182 0h0m1 0h0m-186 1h0m183 0h0m-186 1h0m1 0h0m3 0h0m-4 1h0m3 1h0m-2 2h0" stroke="#c4dfb5"/><path d="M229.5 149.5h0m-167 1h0m164 0h0m7 0h0m-36 1h0m36 0h0m1 0h0m-140 1h0m75 0h0m1 0h0m53 0h0m11 0h0m1 0h0m-198 1h0m10 0h0m5 0h0m114 0h0m1 0h0m1 0h0m1 0h0m1 0h0m9 0h0m2 0h0m31 0h0m22 0h0m1 0h0m19 0h0m3 0h0m5 0h0m29 0h0m-261 1h0m5 0h0m2 0h0m2 0h0m1 0h0m8 0h0m121 0h0m4 0h0m10 0h0m7 0h0m1 0h0m1 0h0m1 0h0m2 0h0m30 0h0m28 0h0m-235 1h0m9 0h0m8 0h0m2 0h0m2 0h0m1 0h0m4 0h0m6 0h0m1 0h0m14 0h0m14 0h0m6 0h0m82 0h0m1 0h0m2 0h0m6 0h0m5 0h0m1 0h0m5 0h0m4 0h0m1 0h0m16 0h0m8 0h0m5 0h0m2 0h0m12 0h0m5 0h0m41 0h0m11 0h0m-256 1h0m1 0h0m1 0h0m1 0h0m19 0h0m2 0h0m16 0h0m96 0h0m8 0h0m3 0h0m9 0h0m3 0h0m38 0h0m46 0h0m10 0h0m1 0h0m-253 1h0m2 0h0m1 0h0m1 0h0m124 0h0m3 0h0m8 0h0m2 0h0m10 0h0m1 0h0m3 0h0m1 0h0m3 0h0m10 0h0m10 0h0m1 0h0m1 0h0m2 0h0m1 0h0m2 0h0m15 0h0m6 0h0m31 0h0m6 0h0m2 0h0m-246 1h0m1 0h0m1 0h0m1 0h0m1 0h0m1 0h0m5 0h0m3 0h0m7 0h0m2 0h0m1 0h0m16 0h0m89 0h0m2 0h0m11 0h0m1 0h0m2 0h0m1 0h0m2 0h0m5 0h0m1 0h0m5 0h0m1 0h0m15 0h0m4 0h0m1 0h0m2 0h0m12 0h0m52 0h0m-248 1h0m3 0h0m10 0h0m2 0h0m3 0h0m110 0h0m4 0h0m1 0h0m10 0h0m5 0h0m8 0h0m8 0h0m6 0h0m6 0h0m5 0h0m1 0h0m1 0h0m2 0h0m19 0h0m27 0h0m14 0h0m1 0h0m-229 1h0m7 0h0m107 0h0m14 0h0m2 0h0m2 0h0m2 0h0m5 0h0m2 0h0m24 0h0m1 0h0m2 0h0m1 0h0m5 0h0m54 0h0m-223 1h0m18 0h0m7 0h0m69 0h0m15 0h0m1 0h0m9 0h0m2 0h0m1 0h0m3 0h0m3 0h0m9 0h0m3 0h0m15 0h0m3 0h0m1 0h0m1 0h0m11 0h0m17 0h0m13 0h0m1 0h0m20 0h0m-223 1h0m9 0h0m39 0h0m48 0h0m2 0h0m24 0h0m2 0h0m1 0h0m2 0h0m3 0h0m1 0h0m7 0h0m19 0h0m2 0h0m1 0h0m2 0h0m1 0h0m23 0h0m34 0h0m1 0h0m-201 1h0m74 0h0m19 0h0m2 0h0m8 0h0m2 0h0m2 0h0m1 0h0m2 0h0m3 0h0m26 0h0m2 0h0m4 0h0m4 0h0m36 0h0m4 0h0m-207 1h0m4 0h0m8 0h0m108 0h0m2 0h0m1 0h0m1 0h0m1 0h0m1 0h0m1 0h0m1 0h0m10 0h0m25 0h0m1 0h0m2 0h0m8 0h0m8 0h0m19 0h0m1 0h0m3 0h0m2 0h0m11 0h0m-215 1h0m1 0h0m42 0h0m4 0h0m49 0h0m25 0h0m1 0h0m4 0h0m7 0h0m15 0h0m4 0h0m8 0h0m4 0h0m1 0h0m19 0h0m18 0h0m2 0h0m-202 1h0m1 0h0m7 0h0m21 0h0m10 0h0m56 0h0m3 0h0m1 0h0m14 0h0m3 0h0m1 0h0m2 0h0m3 0h0m12 0h0m16 0h0m8 0h0m4 0h0m3 0h0m3 0h0m17 0h0m13 0h0m1 0h0m3 0h0m-202 1h0m28 0h0m12 0h0m10 0h0m49 0h0m10 0h0m7 0h0m1 0h0m1 0h0m16 0h0m1 0h0m24 0h0m2 0h0m1 0h0m26 0h0m11 0h0m3 0h0m-196 1h0m25 0h0m4 0h0m3 0h0m1 0h0m2 0h0m58 0h0m3 0h0m4 0h0m6 0h0m27 0h0m7 0h0m2 0h0m9 0h0m2 0h0m8 0h0m20 0h0m6 0h0m5 0h0m4 0h0m-194 1h0m2 0h0m26 0h0m4 0h0m1 0h0m59 0h0m5 0h0m5 0h0m23 0h0m10 0h0m8 0h0m8 0h0m29 0h0m1 0h0m-185 1h0m5 0h0m3 0h0m5 0h0m13 0h0m1 0h0m69 0h0m6 0h0m29 0h0m7 0h0m20 0h0m11 0h0m6 0h0m9 0h0m-167 1h0m4 0h0m2 0h0m5 0h0m71 0h0m39 0h0m3 0h0m43 0h0m-185 1h0m10 0h0m3 0h0m3 0h0m1 0h0m124 0h0m15 0h0m22 0h0m-163 1h0m4 0h0m1 0h0m7 0h0m58 0h0m3 0h0m44 0h0m9 0h0m-125 1h0m1 0h0m1 0h0m2 0h0m63 0h0m2 0h0m41 0h0m5 0h0m9 0h0m35 0h0m-175 1h0m8 0h0m2 0h0m1 0h0m1 0h0m7 0h0m1 0h0m2 0h0m6 0h0m93 0h0m1 0h0m30 0h0m3 0h0m4 0h0m17 0h0m-167 1h0m1 0h0m4 0h0m1 0h0m6 0h0m99 0h0m28 0h0m7 0h0m15 0h0m-163 1h0m1 0h0m1 0h0m1 0h0m1 0h0m1 0h0m2 0h0m70 0h0m12 0h0m23 0h0m24 0h0m13 0h0m-149 1h0m1 0h0m2 0h0m1 0h0m2 0h0m1 0h0m5 0h0m2 0h0m77 0h0m21 0h0m34 0h0m1 0h0m2 0h0m2 0h0m11 0h0m10 0h0m-176 1h0m6 0h0m1 0h0m3 0h0m5 0h0m1 0h0m2 0h0m4 0h0m1 0h0m129 0h0m16 0h0m11 0h0m-177 1h0m1 0h0m1 0h0m1 0h0m1 0h0m1 0h0m16 0h0m121 0h0m5 0h0m7 0h0m2 0h0m9 0h0m1 0h0m9 0h0m-173 1h0m2 0h0m4 0h0m1 0h0m124 0h0m5 0h0m3 0h0m1 0h0m3 0h0m5 0h0m3 0h0m5 0h0m8 0h0m2 0h0m8 0h0m1 0h0m-180 1h0m3 0h0m3 0h0m5 0h0m142 0h0m1 0h0m2 0h0m2 0h0m2 0h0m13 0h0m5 0h0m-174 1h0m1 0h0m1 0h0m134 0h0m10 0h0m3 0h0m8 0h0m15 0h0m-171 1h0m2 0h0m3 0h0m90 0h0m12 0h0m13 0h0m22 0h0m5 0h0m2 0h0m4 0h0m-132 1h0m96 0h0m10 0h0m22 0h0m17 0h0m-161 1h0m8 0h0m9 0h0m85 0h0m7 0h0m13 0h0m17 0h0m17 0h0m-159 1h0m4 0h0m133 0h0m2 0h0m-128 1h0m109 0h0m22 0h0m12 0h0m-78 1h0m2 0h0m4 0h0m14 0h0m1 0h0m5 0h0m8 0h0m28 0h0m-129 1h0m4 0h0m61 0h0m3 0h0m2 0h0m1 0h0m15 0h0m14 0h0m32 0h0m22 0h0m-90 1h0m1 0h0m1 0h0m2 0h0m3 0h0m1 0h0m27 0h0m2 0h0m28 0h0m2 0h0m1 0h0m17 0h0m1 0h0m-144 1h0m56 0h0m1 0h0m2 0h0m2 0h0m1 0h0m15 0h0m18 0h0m1 0h0m-84 1h0m44 0h0m3 0h0m1 0h0m1 0h0m1 0h0m10 0h0m27 0h0m2 0h0m23 0h0m22 0h0m-134 1h0m47 0h0m3 0h0m1 0h0m38 0h0m-84 1h0m42 0h0m1 0h0m24 0h0m-78 1h0m16 0h0m37 0h0m2 0h0m1 0h0m16 0h0m17 0h0m47 0h0m1 0h0m13 0h0m-143 1h0m5 0h0m41 0h0m85 0h0m-139 1h0m5 0h0m12 0h0m63 0h0m69 0h0m-148 1h0m16 0h0m1 0h0m58 0h0m2 0h0m68 0h0m3 0h0m2 0h0m-149 1h0m1 0h0m2 0h0m2 0h0m5 0h0m6 0h0m54 0h0m5 0h0m2 0h0m66 0h0m1 0h0m2 0h0m1 0h0m-151 1h0m1 0h0m4 0h0m76 0h0m1 0h0m5 0h0m5 0h0m1 0h0m1 0h0m53 0h0m-144 1h0m1 0h0m1 0h0m12 0h0m64 0h0m4 0h0m7 0h0m1 0h0m50 0h0m5 0h0m3 0h0m18 0h0m-165 1h0m5 0h0m68 0h0m5 0h0m1 0h0m1 0h0m1 0h0m4 0h0m82 0h0m-163 1h0m74 0h0m3 0h0m1 0h0m4 0h0m2 0h0m76 0h0m5 0h0m-167 1h0m1 0h0m1 0h0m77 0h0m3 0h0m-84 1h0m3 0h0m3 0h0m12 0h0m1 0h0m2 0h0m61 0h0m86 0h0m-164 1h0m76 0h0m1 0h0m-68 1h0m68 0h0m-80 1h0m2 0h0m16 0h0m0 1h0m56 0h0m93 0h0m1 0h0m-11 1h0m5 0h0m6 0h0m1 0h0m-164 1h0m63 0h0m2 0h0m89 0h0m2 0h0m2 0h0m4 0h0m2 0h0m-164 1h0m19 0h0m142 0h0m-160 1h0m3 0h0m5 0h0m152 0h0m4 0h0m-163 1h0m3 0h0m-1 1h0m1 0h0m6 0h0m148 0h0m-157 1h0m1 0h0m1 0h0m6 0h0m1 0h0m55 0h0m7 0h0m96 0h0m-165 1h0m1 0h0m6 0h0m59 0h0m6 0h0m75 0h0m-147 1h0m1 0h0m1 0h0m1 0h0m2 0h0m144 0h0m-152 1h0m6 0h0m7 0h0m132 0h0m15 0h0m6 0h0m-165 1h0m6 0h0m1 0h0m1 0h0m1 0h0m55 0h0m76 0h0m6 0h0m15 0h0m-163 1h0m2 0h0m2 0h0m2 0h0m1 0h0m156 0h0m4 0h0m-166 1h0m3 0h0m139 0h0m1 0h0m3 0h0m-139 1h0m135 0h0m19 0h0m2 0h0m-164 1h0m161 0h0m4 0h0m1 0h0m-163 1h0m2 0h0m156 0h0m-164 1h0m6 0h0m185 0h0m-192 2h0m186 2h0" stroke="#fdebae"/><path d="M196.5 150.5h0m-159 2h0m223 0h0m25 0h0m-269 1h0m220 0h0m15 0h0m8 0h0m2 0h0m23 0h0m8 0h0m-208 1h0m83 0h0m35 0h0m55 0h0m1 0h0m3 0h0m30 0h0m-118 1h0m64 0h0m30 0h0m3 0h0m-213 1h0m7 0h0m3 0h0m14 0h0m83 0h0m9 0h0m14 0h0m9 0h0m16 0h0m15 0h0m3 0h0m4 0h0m4 0h0m1 0h0m7 0h0m45 0h0m-253 1h0m126 0h0m34 0h0m10 0h0m19 0h0m10 0h0m5 0h0m26 0h0m2 0h0m10 0h0m-231 1h0m112 0h0m2 0h0m8 0h0m4 0h0m18 0h0m1 0h0m28 0h0m6 0h0m5 0h0m8 0h0m1 0h0m28 0h0m2 0h0m9 0h0m-233 1h0m19 0h0m129 0h0m17 0h0m11 0h0m1 0h0m2 0h0m2 0h0m10 0h0m1 0h0m1 0h0m-208 1h0m44 0h0m73 0h0m25 0h0m13 0h0m45 0h0m1 0h0m4 0h0m4 0h0m34 0h0m-219 1h0m2 0h0m47 0h0m70 0h0m37 0h0m27 0h0m1 0h0m-187 1h0m40 0h0m110 0h0m52 0h0m18 0h0m-219 1h0m17 0h0m7 0h0m1 0h0m67 0h0m7 0h0m13 0h0m26 0h0m14 0h0m5 0h0m16 0h0m13 0h0m35 0h0m-213 1h0m40 0h0m5 0h0m2 0h0m41 0h0m13 0h0m29 0h0m17 0h0m2 0h0m12 0h0m1 0h0m-162 1h0m1 0h0m3 0h0m10 0h0m1 0h0m19 0h0m2 0h0m9 0h0m3 0h0m46 0h0m3 0h0m8 0h0m9 0h0m8 0h0m7 0h0m18 0h0m1 0h0m46 0h0m-193 1h0m3 0h0m9 0h0m1 0h0m22 0h0m3 0h0m53 0h0m3 0h0m24 0h0m9 0h0m32 0h0m3 0h0m30 0h0m-197 1h0m6 0h0m14 0h0m19 0h0m1 0h0m1 0h0m55 0h0m10 0h0m2 0h0m5 0h0m88 0h0m-195 1h0m24 0h0m1 0h0m8 0h0m6 0h0m62 0h0m1 0h0m12 0h0m3 0h0m15 0h0m50 0h0m9 0h0m3 0h0m-169 1h0m9 0h0m90 0h0m34 0h0m29 0h0m3 0h0m3 0h0m1 0h0m-194 1h0m89 0h0m34 0h0m65 0h0m4 0h0m1 0h0m5 0h0m1 0h0m-197 1h0m1 0h0m101 0h0m32 0h0m24 0h0m22 0h0m16 0h0m-203 1h0m4 0h0m2 0h0m13 0h0m1 0h0m8 0h0m2 0h0m1 0h0m1 0h0m55 0h0m68 0h0m20 0h0m28 0h0m-195 1h0m11 0h0m7 0h0m1 0h0m60 0h0m14 0h0m-99 1h0m6 0h0m19 0h0m1 0h0m6 0h0m82 0h0m1 0h0m20 0h0m30 0h0m17 0h0m-163 1h0m1 0h0m4 0h0m3 0h0m67 0h0m1 0h0m3 0h0m33 0h0m2 0h0m19 0h0m12 0h0m17 0h0m-86 1h0m4 0h0m80 0h0m1 0h0m2 0h0m1 0h0m-156 1h0m69 0h0m2 0h0m2 0h0m79 0h0m1 0h0m1 0h0m-156 1h0m5 0h0m94 0h0m3 0h0m52 0h0m1 0h0m3 0h0m-160 1h0m2 0h0m2 0h0m86 0h0m64 0h0m1 0h0m1 0h0m2 0h0m1 0h0m-175 1h0m21 0h0m92 0h0m43 0h0m12 0h0m4 0h0m1 0h0m1 0h0m-174 1h0m157 0h0m1 0h0m15 0h0m-170 1h0m169 0h0m-12 1h0m1 0h0m10 0h0m1 0h0m-34 1h0m22 0h0m6 0h0m5 0h0m1 0h0m-77 1h0m61 0h0m5 0h0m5 0h0m-37 1h0m17 0h0m15 0h0m-155 1h0m139 0h0m-136 1h0m75 1h0m1 0h0m4 0h0m5 0h0m2 0h0m2 0h0m13 0h0m-25 1h0m8 0h0m1 0h0m1 0h0m1 0h0m7 0h0m2 0h0m7 0h0m8 0h0m-38 1h0m12 0h0m3 0h0m1 0h0m-80 1h0m93 0h0m56 0h0m-137 1h0m54 0h0m82 0h0m-146 1h0m1 0h0m89 0h0m36 0h0m34 0h0m-153 1h0m1 0h0m55 0h0m3 0h0m2 0h0m58 0h0m-61 1h0m24 0h0m1 0h0m-11 1h0m60 1h0m12 0h0m4 0h0m-147 1h0m146 0h0m-151 1h0m9 0h0m142 0h0m-150 1h0m5 0h0m1 0h0m64 0h0m12 0h0m67 0h0m1 0h0m2 0h0m-146 1h0m63 0h0m1 0h0m83 0h0m16 0h0m-165 1h0m1 0h0m64 0h0m2 0h0m97 0h0m2 0h0m-171 1h0m10 0h0m8 0h0m4 0h0m50 0h0m-57 1h0m1 0h0m4 0h0m3 0h0m10 0h0m40 0h0m-61 1h0m5 0h0m1 0h0m71 0h0m-76 1h0m1 0h0m4 0h0m-5 1h0m6 0h0m5 0h0m63 0h0m-4 1h0m-78 1h0m7 0h0m12 0h0m-17 1h0m11 0h0m62 0h0m19 0h0m-77 1h0m-12 1h0m157 0h0m-96 1h0m2 0h0m94 0h0m1 0h0m5 0h0m-100 1h0m23 0h0m2 0h0m-90 1h0m8 0h0m64 0h0m7 0h0m83 0h0m-155 1h0m58 0h0m10 0h0m-73 1h0m1 0h0m1 0h0m70 0h0m-4 1h0m8 0h0m73 0h0m-148 1h0m152 0h0m-148 1h0m1 0h0m158 0h0m-155 1h0m1 0h0m138 0h0m-146 1h0m6 0h0m154 0h0m-160 1h0m163 0h0m1 0h0m-5 1h0m24 0h0m-187 1h0m188 0h0m-188 1h0m188 0h0m-185 2h0m183 0h0m-2 2h0m-184 2h0m0 2h0" stroke="#f4f7c0"/><path d="M215.5 150.5h0m7 0h0m21 0h0m1 0h0m1 0h0m1 0h0m-40 1h0m3 0h0m3 0h0m8 0h0m22 0h0m2 0h0m4 0h0m1 0h0m3 0h0m-44 1h0m1 0h0m6 0h0m27 0h0m1 0h0m1 0h0m2 0h0m2 0h0m1 0h0m1 0h0m12 0h0m5 0h0m2 0h0m1 0h0m1 0h0m3 0h0m3 0h0m1 0h0m-78 1h0m1 0h0m1 0h0m4 0h0m1 0h0m2 0h0m1 0h0m1 0h0m33 0h0m1 0h0m1 0h0m3 0h0m4 0h0m14 0h0m4 0h0m5 0h0m1 0h0m1 0h0m1 0h0m1 0h0m-79 1h0m2 0h0m6 0h0m5 0h0m2 0h0m3 0h0m26 0h0m2 0h0m1 0h0m8 0h0m20 0h0m2 0h0m-250 1h0m219 0h0m1 0h0m3 0h0m7 0h0m18 0h0m-246 1h0m1 0h0m176 0h0m38 0h0m2 0h0m1 0h0m1 0h0m2 0h0m2 0h0m4 0h0m8 0h0m16 0h0m-251 1h0m3 0h0m30 0h0m146 0h0m36 0h0m2 0h0m1 0h0m3 0h0m1 0h0m1 0h0m10 0h0m3 0h0m5 0h0m-238 1h0m213 0h0m1 0h0m3 0h0m3 0h0m8 0h0m-190 1h0m5 0h0m168 0h0m3 0h0m3 0h0m2 0h0m1 0h0m1 0h0m2 0h0m3 0h0m1 0h0m2 0h0m-200 1h0m3 0h0m30 0h0m2 0h0m6 0h0m141 0h0m3 0h0m2 0h0m3 0h0m1 0h0m2 0h0m5 0h0m-199 1h0m12 0h0m11 0h0m1 0h0m18 0h0m95 0h0m6 0h0m38 0h0m5 0h0m4 0h0m2 0h0m1 0h0m-170 1h0m2 0h0m1 0h0m1 0h0m7 0h0m9 0h0m92 0h0m2 0h0m1 0h0m46 0h0m2 0h0m2 0h0m1 0h0m1 0h0m1 0h0m1 0h0m1 0h0m5 0h0m-176 1h0m1 0h0m1 0h0m1 0h0m1 0h0m1 0h0m1 0h0m4 0h0m4 0h0m1 0h0m2 0h0m94 0h0m2 0h0m5 0h0m41 0h0m6 0h0m2 0h0m-167 1h0m3 0h0m1 0h0m1 0h0m8 0h0m107 0h0m1 0h0m41 0h0m6 0h0m1 0h0m-169 1h0m3 0h0m2 0h0m12 0h0m102 0h0m-114 1h0m2 0h0m7 0h0m97 0h0m1 0h0m8 0h0m-118 1h0m1 0h0m169 0h0m-56 1h0m1 0h0m41 0h0m1 0h0m-42 1h0m1 0h0m7 0h0m1 0h0m32 0h0m-43 4h0m-56 17h0m2 0h0m1 0h0m12 0h0m2 0h0m12 0h0m-30 1h0m3 0h0m2 0h0m4 0h0m6 0h0m1 0h0m2 0h0m2 0h0m9 0h0m4 0h0m-32 1h0m1 0h0m1 0h0m9 0h0m2 0h0m2 0h0m2 0h0m1 0h0m1 0h0m8 0h0m2 0h0m1 0h0m1 0h0m1 0h0m2 0h0m-32 1h0m8 0h0m3 0h0m3 0h0m1 0h0m1 0h0m9 0h0m1 0h0m1 0h0m2 0h0m1 0h0m1 0h0m1 0h0m1 0h0m1 0h0m-34 1h0m10 0h0m1 0h0m3 0h0m2 0h0m1 0h0m9 0h0m1 0h0m1 0h0m1 0h0m1 0h0m1 0h0m1 0h0m-22 1h0m5 0h0m11 0h0m4 0h0m1 0h0m-17 1h0m12 0h0m3 0h0m1 0h0m1 0h0m2 0h0m-6 1h0m-2 1h0m2 1h0m-53 7h0m1 1h0m2 0h0m1 0h0m-4 1h0m2 0h0m2 0h0m-4 1h0m1 0h0m-1 1h0m2 0h0m58 0h0m-7 2h0m2 1h0m93 0h0m-2 1h0m-84 1h0m83 0h0m4 0h0m-3 1h0m1 0h0m1 0h0m-4 1h0m1 0h0m2 0h0m2 0h0m-6 1h0m2 0h0m2 0h0m3 0h0m-3 1h0m-1 1h0m1 0h0" stroke="#fabb7b"/><path d="M216.5 150.5h0m-1 1h0m2 0h0m1 0h0m1 0h0m-1 1h0m1 0h0m43 4h0m-230 2h0m0 1h0" stroke="#f47647"/><path d="M218.5 150.5h0m-12 2h0m11 0h0m28 0h0m3 1h0m-219 5h0m1 0h0m1 0h0m0 1h0m65 1h0m3 0h0m152 0h0m-153 1h0m3 0h0m-2 2h0" stroke="#f8a855"/><path d="M248.5 150.5h0m-45 3h0m5 0h0m52 1h0m8 0h0m-4 1h0m-3 1h0m3 0h0m-15 1h0m1 0h0m9 0h0m1 0h0m6 1h0m2 0h0m12 0h0m-247 1h0m30 0h0m32 0h0m3 0h0m2 0h0m142 0h0m24 0h0m-25 1h0m-173 2h0m33 1h0m3 0h0m-28 1h0m21 0h0m-15 1h0m5 0h0m120 2h0m38 0h0m-13 6h0m-76 13h0m-1 3h0m19 0h0m-12 1h0m12 0h0m4 0h0m-25 1h0m3 1h0m6 0h0m-6 1h0m1 0h0m6 0h0m18 0h0m-24 1h0m2 0h0m-2 1h0m18 12h0m2 3h0m-2 2h0m-10 2h0m8 0h0m89 0h0m-90 1h0m94 0h0m-92 1h0m94 4h0" stroke="#eef4a1"/><path d="M73.5 151.5h0m163 1h0m21 0h0m11 0h0m-48 1h0m2 0h0m38 0h0m-89 1h0m40 0h0m9 0h0m39 0h0m5 0h0m-230 1h0m2 0h0m221 0h0m22 0h0m-245 1h0m6 0h0m176 0h0m4 0h0m-193 1h0m7 0h0m2 0h0m25 0h0m106 0h0m13 0h0m7 0h0m13 0h0m15 0h0m41 0h0m-220 1h0m59 0h0m164 0h0m-223 1h0m166 0h0m-97 1h0m154 0h0m-178 2h0m145 0h0m-124 1h0m7 0h0m122 0h0m-130 1h0m5 0h0m72 0h0m-8 2h0m-1 2h0m46 0h0m2 0h0m-51 1h0m-78 1h0m159 0h0m1 0h0m-179 1h0m94 0h0m59 1h0m25 0h0m-181 2h0m152 0h0m-67 2h0m-64 1h0m61 0h0m38 0h0m52 0h0m-80 1h0m66 3h0m0 2h0m1 0h0m-15 3h0m24 2h0m-87 1h0m14 1h0m-3 1h0m7 0h0m0 2h0m-61 1h0m61 0h0m12 0h0m9 5h0m-11 3h0m83 1h0m-77 1h0m80 17h0m-150 1h0m155 7h0m-164 4h0m-1 3h0" stroke="#f9b79f"/><path d="M207.5 151.5h0m14 0h0m26 0h0m17 0h0m4 0h0m-47 1h0m43 0h0m2 0h0m-47 1h0m24 0h0m4 0h0m3 0h0m22 0h0m-31 1h0m9 0h0m13 0h0m-60 1h0m16 0h0m26 0h0m4 0h0m12 0h0m11 1h0m-200 2h0m176 0h0m4 0h0m4 0h0m-184 1h0m2 0h0m174 0h0m1 0h0m14 0h0m-193 1h0m1 0h0m30 0h0m144 0h0m3 0h0m-177 1h0m1 0h0m3 0h0m5 0h0m22 0h0m95 0h0m4 0h0m48 0h0m-190 1h0m11 0h0m2 0h0m26 0h0m4 0h0m98 0h0m3 0h0m33 0h0m3 0h0m-170 1h0m1 0h0m6 0h0m124 0h0m3 0h0m2 0h0m32 0h0m-166 1h0m1 0h0m12 0h0m11 0h0m4 0h0m98 0h0m1 0h0m1 0h0m1 0h0m33 0h0m5 0h0m11 0h0m-148 1h0m95 0h0m2 0h0m1 0h0m1 0h0m1 0h0m2 0h0m2 0h0m29 0h0m2 0h0m1 0h0m1 0h0m2 0h0m1 0h0m9 0h0m-52 1h0m1 0h0m1 0h0m2 0h0m2 0h0m28 0h0m2 0h0m1 0h0m1 0h0m1 0h0m1 0h0m1 0h0m1 0h0m1 0h0m1 0h0m-44 1h0m2 0h0m1 0h0m1 0h0m1 0h0m1 0h0m31 0h0m4 0h0m2 0h0m1 0h0m1 0h0m-45 1h0m5 0h0m29 0h0m2 0h0m2 0h0m1 0h0m1 0h0m1 0h0m1 0h0m-43 1h0m37 0h0m3 0h0m1 0h0m1 0h0m-39 1h0m5 0h0m27 0h0m5 0h0m8 0h0m-8 1h0m-34 1h0m-43 17h0m-14 1h0m24 0h0m-7 1h0m10 0h0m-19 1h0m8 1h0m7 1h0m-8 1h0m8 0h0m-6 1h0m3 0h0m-43 10h0m0 1h0m-8 1h0m1 0h0m9 0h0m-2 1h0m47 1h0m-4 1h0m3 0h0m5 0h0m-3 2h0m1 0h0m2 0h0m1 0h0m-5 1h0m2 0h0m2 0h0m2 0h0m1 0h0m-4 1h0m1 0h0m1 0h0m2 0h0m90 1h0m1 0h0m-96 1h0m1 0h0m5 0h0m91 0h0m-2 1h0" stroke="#a8cf90"/><path d="M214.5 151.5h0m2 0h0m0 1h0m4 0h0m-7 1h0m3 0h0m-8 1h0m7 0h0m47 0h0m3 0h0m1 0h0m3 0h0m-52 1h0m1 0h0m41 0h0m3 0h0m1 0h0m-5 1h0m1 0h0m4 0h0m14 0h0m3 0h0m-249 1h0m226 0h0m1 0h0m4 0h0m3 0h0m-191 1h0m183 0h0m3 0h0m5 0h0m-235 1h0m69 0h0m159 0h0m-156 1h0m154 0h0m-156 2h0m1 0h0m156 0h0m-157 2h0m135 1h0" stroke="#f69470"/><path d="M245.5 151.5h0m1 0h0m27 2h0m-24 5h0m-151 2h0m2 0h0m-1 2h0" stroke="#fcd963"/><path d="M29.5 152.5h0m204 3h0m36 4h0m-105 7h0m38 7h0m-128 1h0m165 1h0m-14 6h0m-148 6h0m23 7h0m76 5h0m3 1h0m84 12h0m-148 2h0m136 2h0m-80 5h0" stroke="#9fcbe8"/><path d="M213.5 152.5h0m1 0h0m33 0h0m-32 1h0m10 0h0m-13 1h0m5 0h0m27 0h0m2 0h0m27 0h0m-210 1h0m197 0h0m5 0h0m7 0h0m-58 1h0m1 0h0m3 0h0m1 0h0m31 0h0m4 0h0m6 0h0m-17 1h0m21 0h0m-20 1h0m18 0h0m1 0h0m1 0h0m14 1h0m-244 1h0m203 0h0m25 0h0m-166 1h0m1 0h0m3 0h0m-3 1h0m143 0h0m-1 1h0m-173 1h0m19 0h0m13 0h0m139 0h0m-148 1h0m-8 1h0m118 1h0m28 0h0m7 0h0m-1 1h0m-31 1h0m33 0h0m5 0h0m-37 1h0m-24 18h0m-11 2h0m4 0h0m0 1h0m-26 2h0m7 0h0m13 0h0m6 0h0m-4 1h0m-21 2h0m29 2h0m-1 10h0m1 0h0m-54 1h0m51 0h0m1 0h0m-5 1h0m11 4h0m-1 4h0m84 3h0" stroke="#fce286"/><path d="M251.5 152.5h0m-22 1h0m-47 1h0m46 0h0m6 0h0m-5 1h0m-27 2h0m-123 1h0m156 0h0m-176 1h0m16 0h0m0 5h0m136 0h0m-4 1h0m10 0h0m-6 1h0m38 1h0m-39 2h0m1 1h0m5 4h0m-7 3h0m11 1h0m-63 1h0m51 1h0m-61 3h0m61 0h0m9 5h0m-65 4h0m1 4h0m113 8h0m-97 4h0m-57 2h0m153 2h0m-5 5h0m-154 3h0m144 0h0m-150 6h0m2 0h0m7 0h0" stroke="#bcdbdf"/><path d="M185.5 154.5h0m90 9h0m-49 2h0m-137 1h0m-6 1h0m95 1h0m5 0h0m-112 13h0m168 0h0m-2 2h0m-24 2h0m28 16h0m-126 2h0m68 3h0m-79 13h0" stroke="#f39599"/><path d="M261.5 157.5h0m-165 5h0m105 4h0m35 1h0m2 0h0m2 0h0" stroke="#8fc271"/><path d="M267.5 158.5h0" stroke="#70b2dc"/><path d="M76.5 160.5h0m6 2h0" stroke="#9bc9cf"/><path d="M90.5 164.5h0m81 27h0m-52 17h0" stroke="#ed6267"/><path d="M94.5 143.5h0m-1 1h0m2 0h0m136 0h0m-147 1h0m83 0h0m60 0h0m6 0h0m2 0h0m-142 1h0m69 0h0m2 0h0m66 0h0m-145 1h0m80 0h0m38 0h0m28 0h0m2 0h0m3 0h0m-169 1h0m3 0h0m8 0h0m1 0h0m6 0h0m116 0h0m20 0h0m6 0h0m2 0h0m3 0h0m7 0h0m1 0h0m24 0h0m-202 1h0m2 0h0m16 0h0m4 0h0m2 0h0m2 0h0m3 0h0m126 0h0m7 0h0m26 0h0m12 0h0m-203 1h0m2 0h0m15 0h0m5 0h0m3 0h0m5 0h0m5 0h0m101 0h0m18 0h0m4 0h0m2 0h0m28 0h0m17 0h0m-229 1h0m39 0h0m4 0h0m7 0h0m88 0h0m88 0h0m2 0h0m3 0h0m26 0h0m-261 1h0m5 0h0m9 0h0m1 0h0m5 0h0m6 0h0m2 0h0m9 0h0m13 0h0m91 0h0m28 0h0m1 0h0m1 0h0m1 0h0m9 0h0m61 0h0m11 0h0m3 0h0m-261 1h0m19 0h0m8 0h0m3 0h0m6 0h0m2 0h0m1 0h0m8 0h0m1 0h0m3 0h0m88 0h0m18 0h0m7 0h0m3 0h0m3 0h0m92 0h0m-261 1h0m36 0h0m6 0h0m11 0h0m107 0h0m-165 1h0m2 0h0m1 0h0m66 0h0m1 0h0m4 0h0m88 0h0m1 0h0m108 0h0m-267 1h0m2 0h0m57 0h0m10 0h0m1 0h0m86 0h0m-154 1h0m68 0h0m178 0h0m-231 1h0m1 0h0m50 0h0m184 0h0m9 0h0m-252 1h0m3 0h0m4 0h0m2 0h0m4 1h0m4 1h0m1 1h0m1 1h0m0 1h0m42 68h0m7 1h0m-6 3h0m0 1h0m4 0h0m-1 1h0m1 0h0" stroke="#c4c4c4"/><path d="M97.5 143.5h0m2 0h0m3 0h0m12 0h0m2 0h0m3 0h0m2 0h0m1 0h0m1 0h0m1 0h0m2 0h0m1 0h0m1 0h0m2 0h0m3 0h0m1 0h0m2 0h0m2 0h0m-40 1h0m1 0h0m6 0h0m1 0h0m2 0h0m5 0h0m2 0h0m1 0h0m6 0h0m11 0h0m1 0h0m1 0h0m2 0h0m-40 1h0m2 1h0m40 0h0m1 0h0m-40 1h0m2 0h0m1 0h0m4 0h0m1 0h0m31 0h0m-36 1h0m1 0h0m2 0h0m1 0h0m1 0h0m1 0h0m29 0h0m0 1h0m1 0h0m-28 1h0m26 0h0m-40 1h0m15 0h0m1 0h0m24 0h0m-38 1h0m1 0h0m12 0h0m21 0h0m1 0h0m1 0h0m1 0h0m-34 1h0m1 0h0m10 0h0m18 0h0m1 0h0m2 0h0m-37 1h0m16 0h0m12 0h0m1 0h0m1 0h0m16 0h0m-38 1h0m19 0h0m14 0h0m-41 1h0m3 0h0m14 0h0m10 0h0m13 0h0m3 0h0m2 0h0m-44 1h0m2 0h0m2 0h0m20 0h0m-25 1h0m1 0h0m1 0h0m18 0h0m1 0h0m1 0h0m1 0h0m2 0h0m-19 1h0m2 0h0" stroke="#b4b4b4"/></g>
<rect x="15.65" y="133.90" width="282.25" height="111.35" fill="none" stroke="#3a3a3a" stroke-width="1.25"/>
<text transform="translate(10.15,152.40) scale(1.2,1) rotate(-90)" class="h" font-size="7.0" font-weight="bold" text-anchor="middle" textLength="14.40" lengthAdjust="spacingAndGlyphs">70<tspan font-size="5.6" dy="-0.6">°</tspan><tspan dy="0.6">N</tspan></text>
<text transform="translate(10.15,179.94) scale(1.2,1) rotate(-90)" class="h" font-size="7.0" font-weight="bold" text-anchor="middle" textLength="14.40" lengthAdjust="spacingAndGlyphs">30<tspan font-size="5.6" dy="-0.6">°</tspan><tspan dy="0.6">N</tspan></text>
<text transform="translate(10.15,207.49) scale(1.2,1) rotate(-90)" class="h" font-size="7.0" font-weight="bold" text-anchor="middle" textLength="14.40" lengthAdjust="spacingAndGlyphs">10<tspan font-size="5.6" dy="-0.6">°</tspan><tspan dy="0.6">S</tspan></text>
<text transform="translate(10.15,235.03) scale(1.2,1) rotate(-90)" class="h" font-size="7.0" font-weight="bold" text-anchor="middle" textLength="14.40" lengthAdjust="spacingAndGlyphs">50<tspan font-size="5.6" dy="-0.6">°</tspan><tspan dy="0.6">S</tspan></text>
<path d="M12.75 152.40H15.65M12.75 179.94H15.65M12.75 207.49H15.65M12.75 235.03H15.65" stroke="#3a3a3a" stroke-width="1.1" fill="none"/>
<text x="15.70" y="254.95" font-size="7.0" font-weight="bold" text-anchor="middle" textLength="15.20" lengthAdjust="spacingAndGlyphs">180<tspan font-size="5.6" dy="-0.6">°</tspan><tspan dy="0.6"></tspan></text>
<text x="46.53" y="254.95" font-size="7.0" font-weight="bold" text-anchor="middle" textLength="22.14" lengthAdjust="spacingAndGlyphs">140<tspan font-size="5.6" dy="-0.6">°</tspan><tspan dy="0.6">W</tspan></text>
<text x="77.36" y="254.95" font-size="7.0" font-weight="bold" text-anchor="middle" textLength="22.14" lengthAdjust="spacingAndGlyphs">100<tspan font-size="5.6" dy="-0.6">°</tspan><tspan dy="0.6">W</tspan></text>
<text x="108.20" y="254.95" font-size="7.0" font-weight="bold" text-anchor="middle" textLength="18.05" lengthAdjust="spacingAndGlyphs">60<tspan font-size="5.6" dy="-0.6">°</tspan><tspan dy="0.6">W</tspan></text>
<text x="139.03" y="254.95" font-size="7.0" font-weight="bold" text-anchor="middle" textLength="18.05" lengthAdjust="spacingAndGlyphs">20<tspan font-size="5.6" dy="-0.6">°</tspan><tspan dy="0.6">W</tspan></text>
<text x="169.86" y="254.95" font-size="7.0" font-weight="bold" text-anchor="middle" textLength="16.02" lengthAdjust="spacingAndGlyphs">20<tspan font-size="5.6" dy="-0.6">°</tspan><tspan dy="0.6">E</tspan></text>
<text x="200.69" y="254.95" font-size="7.0" font-weight="bold" text-anchor="middle" textLength="16.02" lengthAdjust="spacingAndGlyphs">60<tspan font-size="5.6" dy="-0.6">°</tspan><tspan dy="0.6">E</tspan></text>
<text x="231.52" y="254.95" font-size="7.0" font-weight="bold" text-anchor="middle" textLength="20.10" lengthAdjust="spacingAndGlyphs">100<tspan font-size="5.6" dy="-0.6">°</tspan><tspan dy="0.6">E</tspan></text>
<text x="262.36" y="254.95" font-size="7.0" font-weight="bold" text-anchor="middle" textLength="20.10" lengthAdjust="spacingAndGlyphs">140<tspan font-size="5.6" dy="-0.6">°</tspan><tspan dy="0.6">E</tspan></text>
<text x="293.19" y="254.95" font-size="7.0" font-weight="bold" text-anchor="middle" textLength="15.20" lengthAdjust="spacingAndGlyphs">180<tspan font-size="5.6" dy="-0.6">°</tspan><tspan dy="0.6"></tspan></text>
<path d="M15.70 245.25V247.85M46.53 245.25V247.85M77.36 245.25V247.85M108.20 245.25V247.85M139.03 245.25V247.85M169.86 245.25V247.85M200.69 245.25V247.85M231.52 245.25V247.85M262.36 245.25V247.85M293.19 245.25V247.85" stroke="#3a3a3a" stroke-width="1" fill="none"/>
<text x="24.05" y="145.50" font-size="9.6" font-weight="bold" textLength="11.90" lengthAdjust="spacingAndGlyphs">(c)</text>
<path d="M287.50 140.10L282.80 152.00L287.50 148.30Z" fill="#111"/>
<path d="M287.50 140.10L292.20 152.00L287.50 148.30Z" fill="#fff" stroke="#111" stroke-width="0.75" stroke-linejoin="round"/>
<text x="286.80" y="137.65" font-size="5.0" font-weight="bold" text-anchor="middle">N</text>
<rect x="151.80" y="237.35" width="69.40" height="2.9" fill="#000"/>
<rect x="169.70" y="237.80" width="16.5" height="2.0" fill="#f4f4f4" stroke="#9a9a9a" stroke-width="0.5"/>
<text x="151.90" y="234.75" class="l" font-size="5.0" text-anchor="middle" fill="#222">0</text>
<text x="169.20" y="234.75" class="l" font-size="5.0" text-anchor="middle" textLength="15.00" lengthAdjust="spacingAndGlyphs" fill="#222">2,500</text>
<text x="186.30" y="234.75" class="l" font-size="5.0" text-anchor="middle" textLength="14.10" lengthAdjust="spacingAndGlyphs" fill="#222">5,000</text>
<text x="220.20" y="234.75" class="l" font-size="5.0" text-anchor="middle" textLength="18.00" lengthAdjust="spacingAndGlyphs" fill="#222">10,000</text>
<text x="222.70" y="240.50" class="l" font-size="5.3" font-weight="bold" textLength="30.20" lengthAdjust="spacingAndGlyphs" fill="#111">Kilometers</text>
<text x="27.40" y="214.70" font-size="7.5" font-weight="bold" font-style="italic" textLength="41.80" lengthAdjust="spacingAndGlyphs">P: 15.37%</text>
<text x="27.40" y="223.70" font-size="7.5" font-weight="bold" font-style="italic" textLength="41.10" lengthAdjust="spacingAndGlyphs">N: 11.06%</text>
<text x="27.40" y="232.70" font-size="7.5" font-weight="bold" font-style="italic" textLength="33.10" lengthAdjust="spacingAndGlyphs">p &lt; 0.05</text>
<g stroke-width="1.25" stroke-linecap="round" fill="none"><path d="M387.5 147.5h0m0 3h0m175 1h0m-230 1h0m35 0h0m171 0h0m20 0h0m-231 1h0m57 0h0m83 0h0m4 0h0m72 0h0m-214 1h0m56 0h0m-34 1h0m42 0h0m-37 1h0m27 0h0m77 0h0m14 0h0m34 0h0m50 0h0m-57 1h0m1 0h0m18 0h0m52 0h0m-240 1h0m1 0h0m2 0h0m18 0h0m105 0h0m40 0h0m5 0h0m75 0h0m-246 1h0m32 0h0m95 0h0m29 0h0m35 0h0m-170 1h0m14 0h0m116 0h0m3 0h0m15 0h0m-142 1h0m4 0h0m159 0h0m-139 1h0m-5 1h0m118 0h0m-105 1h0m12 0h0m46 0h0m90 0h0m-162 1h0m3 0h0m71 0h0m13 0h0m3 0h0m-95 1h0m3 0h0m95 0h0m-92 1h0m14 0h0m66 0h0m15 0h0m19 0h0m-112 1h0m7 0h0m1 0h0m4 0h0m2 0h0m58 0h0m14 0h0m6 0h0m32 0h0m23 0h0m-166 1h0m21 0h0m77 0h0m36 0h0m7 0h0m1 0h0m26 0h0m-137 1h0m79 0h0m32 0h0m2 0h0m-111 1h0m52 0h0m6 0h0m-88 1h0m10 0h0m14 0h0m59 0h0m23 0h0m30 0h0m-41 1h0m46 0h0m-59 1h0m32 0h0m49 0h0m-73 1h0m5 0h0m22 0h0m41 0h0m-157 1h0m8 0h0m74 0h0m6 0h0m1 0h0m28 0h0m49 0h0m-166 1h0m89 0h0m41 0h0m19 0h0m29 0h0m1 0h0m-181 1h0m1 0h0m1 0h0m1 0h0m2 0h0m11 0h0m3 0h0m101 0h0m44 0h0m-161 1h0m155 0h0m-155 1h0m8 0h0m152 0h0m-29 1h0m40 0h0m3 1h0m-20 1h0m14 0h0m-12 1h0m14 0h0m-163 3h0m142 0h0m-23 1h0m20 1h0m-126 1h0m57 0h0m34 0h0m-33 1h0m37 0h0m1 0h0m3 0h0m-44 2h0m33 0h0m7 0h0m-78 1h0m39 0h0m4 0h0m41 0h0m-6 1h0m5 0h0m-86 1h0m3 0h0m42 0h0m33 0h0m2 0h0m1 0h0m1 0h0m5 0h0m-86 1h0m80 0h0m-1 1h0m-81 1h0m2 1h0m1 0h0m67 1h0m-51 1h0m53 0h0m83 0h0m-86 1h0m3 0h0m89 0h0m3 0h0m-147 1h0m144 0h0m-166 1h0m11 0h0m2 1h0m1 0h0m1 0h0m153 0h0m-166 1h0m15 0h0m-15 1h0m1 0h0m1 1h0m13 0h0m1 0h0m5 0h0m-21 1h0m2 0h0m18 0h0m146 0h0m-147 1h0m1 0h0m58 2h0m2 0h0m73 0h0m3 1h0m-2 1h0m-72 1h0m71 0h0m2 0h0m-5 1h0m17 0h0m-93 2h0m90 0h0m3 0h0m-155 1h0m-8 1h0m3 0h0m65 0h0m1 0h0m6 0h0m79 0h0m2 0h0m11 0h0m-157 1h0m-1 1h0m2 0h0m152 0h0m-160 1h0m5 0h0m157 0h0m-164 2h0m1 2h0m164 1h0m17 1h0m-184 5h0" stroke="#f8b78f"/><path d="M366.5 148.5h0m22 0h0m168 3h0m-228 1h0m6 0h0m52 0h0m87 0h0m60 0h0m29 0h0m7 0h0m-235 1h0m23 0h0m28 0h0m94 0h0m56 0h0m3 0h0m-186 1h0m4 0h0m107 0h0m25 0h0m45 0h0m8 0h0m2 0h0m1 0h0m38 0h0m-248 1h0m2 0h0m140 0h0m61 0h0m42 0h0m-101 1h0m4 0h0m82 0h0m13 0h0m7 0h0m-103 1h0m49 0h0m38 0h0m-212 1h0m9 0h0m117 0h0m2 0h0m21 0h0m27 0h0m-185 1h0m3 0h0m7 0h0m160 0h0m25 0h0m-188 1h0m2 0h0m4 0h0m115 0h0m49 0h0m53 0h0m-226 1h0m1 0h0m52 0h0m79 0h0m1 0h0m5 0h0m18 0h0m-155 1h0m107 0h0m34 0h0m15 0h0m1 0h0m23 0h0m18 0h0m1 0h0m-64 1h0m2 0h0m6 0h0m15 0h0m1 0h0m10 0h0m1 0h0m-151 1h0m37 0h0m75 0h0m7 0h0m1 0h0m15 0h0m2 0h0m9 0h0m13 0h0m24 0h0m-181 1h0m36 0h0m65 0h0m2 0h0m6 0h0m1 0h0m2 0h0m22 0h0m4 0h0m2 0h0m4 0h0m7 0h0m22 0h0m-158 1h0m87 0h0m2 0h0m15 0h0m55 0h0m7 0h0m1 0h0m5 0h0m-181 1h0m74 0h0m21 0h0m4 0h0m11 0h0m7 0h0m48 0h0m-180 1h0m116 0h0m9 0h0m4 0h0m2 0h0m7 0h0m28 0h0m26 0h0m-84 1h0m1 0h0m11 0h0m46 0h0m24 0h0m1 1h0m-58 1h0m6 0h0m-57 1h0m4 0h0m46 0h0m11 0h0m38 0h0m-185 1h0m14 0h0m73 0h0m-75 1h0m2 0h0m1 0h0m8 0h0m7 0h0m60 0h0m57 0h0m-133 1h0m1 0h0m102 0h0m73 0h0m-186 1h0m84 0h0m7 0h0m25 0h0m28 0h0m42 0h0m-177 1h0m74 0h0m2 0h0m1 0h0m77 0h0m2 1h0m-164 1h0m155 0h0m25 0h0m-28 1h0m2 0h0m9 0h0m7 0h0m1 0h0m2 0h0m2 0h0m-2 1h0m-22 1h0m3 0h0m5 0h0m9 0h0m2 0h0m7 0h0m-172 1h0m151 0h0m12 0h0m3 0h0m6 0h0m-13 1h0m-158 1h0m148 0h0m-148 1h0m1 0h0m11 0h0m128 0h0m13 0h0m3 0h0m-150 1h0m6 1h0m128 0h0m-70 1h0m37 0h0m32 0h0m-63 1h0m4 2h0m61 0h0m-41 1h0m40 0h0m2 0h0m-108 1h0m39 0h0m3 0h0m27 0h0m12 0h0m-36 1h0m-53 1h0m11 0h0m3 1h0m59 0h0m3 0h0m-12 2h0m5 1h0m-4 1h0m3 0h0m5 1h0m-69 1h0m130 0h0m27 0h0m3 0h0m1 0h0m-148 2h0m-2 1h0m2 0h0m-1 1h0m6 0h0m-5 1h0m2 1h0m-2 1h0m76 0h0m-12 2h0m69 0h0m16 0h0m-158 3h0m141 0h0m-72 1h0m-71 1h0m2 1h0m142 0h0m21 0h0m-165 1h0m145 0h0m-144 1h0m62 0h0m84 0h0m-151 1h0m6 0h0m5 0h0m138 0h0m-146 1h0m1 0h0m63 0h0m1 0h0m-65 1h0m70 0h0m74 0h0m-142 1h0m139 0h0m20 1h0m-156 1h0m-8 1h0m-1 1h0" stroke="#f08489"/><path d="M374.5 148.5h0m177 3h0m-225 1h0m224 0h0m22 0h0m-107 1h0m123 0h0m-124 1h0m67 0h0m-203 1h0m3 0h0m19 0h0m23 0h0m121 0h0m18 0h0m73 0h0m-235 1h0m1 0h0m136 0h0m2 0h0m1 0h0m1 0h0m27 0h0m14 0h0m15 0h0m29 0h0m-242 1h0m16 0h0m3 0h0m2 0h0m129 0h0m28 0h0m7 0h0m61 0h0m-244 1h0m2 0h0m1 0h0m13 0h0m228 0h0m-232 1h0m6 0h0m109 0h0m53 0h0m-186 1h0m1 0h0m20 0h0m123 0h0m26 0h0m32 0h0m44 0h0m-223 1h0m95 0h0m15 0h0m36 0h0m13 0h0m-36 1h0m12 0h0m3 0h0m3 0h0m19 0h0m-122 1h0m106 0h0m20 0h0m-161 1h0m21 0h0m118 0h0m1 0h0m6 0h0m22 0h0m-136 1h0m126 0h0m2 0h0m-137 1h0m2 0h0m29 0h0m107 0h0m-135 1h0m11 0h0m-23 1h0m21 0h0m82 0h0m52 0h0m-32 1h0m7 0h0m22 0h0m-133 1h0m68 0h0m44 0h0m9 0h0m-49 1h0m41 0h0m12 0h0m8 0h0m18 0h0m-157 1h0m1 0h0m66 1h0m34 0h0m23 0h0m6 0h0m5 0h0m-152 1h0m21 0h0m75 0h0m34 0h0m8 0h0m11 0h0m25 0h0m1 0h0m-88 1h0m98 0h0m8 0h0m-108 1h0m39 0h0m69 0h0m1 0h0m-196 1h0m170 0h0m8 0h0m-159 1h0m78 0h0m36 0h0m-50 1h0m83 0h0m11 0h0m1 0h0m-18 2h0m2 0h0m2 0h0m4 0h0m8 0h0m-76 1h0m-13 1h0m39 1h0m49 0h0m-54 1h0m43 1h0m4 0h0m4 1h0m-5 1h0m-72 1h0m12 0h0m60 0h0m-56 5h0m37 0h0m2 0h0m-71 1h0m36 0h0m6 0h0m-84 1h0m4 0h0m68 0h0m-68 1h0m137 0h0m-137 1h0m63 0h0m13 0h0m5 0h0m-83 1h0m1 0h0m77 0h0m47 0h0m-131 1h0m2 0h0m1 0h0m5 0h0m69 0h0m9 0h0m47 0h0m-131 1h0m1 0h0m1 0h0m69 0h0m75 0h0m-142 1h0m129 0h0m1 0h0m23 0h0m-151 1h0m6 0h0m145 0h0m-20 2h0m-69 1h0m96 0h0m-81 5h0m-79 1h0m153 0h0m-138 1h0m59 0h0m79 0h0m2 0h0m-156 1h0m2 0h0m1 0h0m2 0h0m8 0h0m2 0h0m127 0h0m-68 1h0m86 0h0m3 0h0m1 1h0m-89 1h0m-75 1h0m65 0h0m6 0h0m2 0h0m68 0h0m26 0h0m-171 1h0m149 0h0m19 0h0m3 0h0m-28 2h0m6 0h0m8 0h0m-7 1h0m-147 1h0m183 6h0m1 0h0m-186 3h0m-3 1h0m0 4h0" stroke="#fac896"/><path d="M377.5 148.5h0m142 2h0m-147 2h0m148 1h0m20 0h0m12 0h0m10 0h0m-82 1h0m92 0h0m6 0h0m-222 1h0m218 0h0m3 0h0m1 0h0m2 0h0m-246 1h0m20 0h0m134 0h0m69 0h0m15 0h0m3 0h0m-239 1h0m21 0h0m142 0h0m75 0h0m2 0h0m1 0h0m2 0h0m-221 1h0m141 0h0m21 0h0m36 0h0m-227 1h0m151 0h0m16 0h0m12 0h0m-150 1h0m4 0h0m1 0h0m3 0h0m129 0h0m1 1h0m2 0h0m32 0h0m17 0h0m-50 1h0m1 0h0m13 0h0m3 0h0m10 0h0m18 0h0m-97 1h0m32 0h0m2 0h0m6 0h0m13 0h0m-51 1h0m27 0h0m7 0h0m5 0h0m-121 1h0m105 0h0m-87 1h0m89 0h0m40 0h0m1 0h0m23 0h0m15 0h0m-189 1h0m36 0h0m78 0h0m1 0h0m-117 1h0m23 0h0m1 0h0m79 0h0m8 0h0m6 0h0m19 0h0m-115 1h0m-19 1h0m1 0h0m135 1h0m3 0h0m0 1h0m-133 1h0m143 0h0m-146 1h0m4 0h0m132 0h0m32 0h0m-166 1h0m81 0h0m10 1h0m79 0h0m19 0h0m-103 1h0m69 0h0m-145 1h0m2 1h0m142 1h0m6 0h0m6 0h0m-163 2h0m142 1h0m18 2h0m-17 4h0m-71 1h0m71 1h0m-42 6h0m6 1h0m2 0h0m8 0h0m41 0h0m-132 2h0m1 2h0m160 0h0m-154 3h0m18 2h0m61 0h0m-77 2h0m3 0h0m13 0h0m62 0h0m-61 1h0m-13 1h0m1 0h0m11 0h0m136 0h0m-158 1h0m10 0h0m11 0h0m-12 1h0m11 0h0m-11 1h0m68 0h0m74 0h0m-142 1h0m1 0h0m68 0h0m1 0h0m69 0h0m-140 1h0m1 0h0m1 0h0m67 0h0m-76 2h0m9 0h0m0 1h0m66 0h0m66 0h0m3 0h0m-139 1h0m2 0h0m-5 1h0m7 0h0m142 0h0m-82 2h0m-67 4h0" stroke="#fbd99c"/><path d="M497.5 148.5h0m-111 5h0m187 0h0m-192 1h0m5 1h0m145 0h0m42 0h0m-214 2h0m151 0h0m25 0h0m38 0h0m-223 1h0m162 1h0m28 0h0m-190 1h0m11 0h0m126 0h0m41 0h0m12 0h0m-52 1h0m9 0h0m14 0h0m16 0h0m7 0h0m-168 1h0m13 0h0m108 0h0m13 0h0m18 0h0m3 0h0m5 0h0m-143 1h0m10 0h0m71 0h0m51 0h0m1 0h0m13 0h0m2 0h0m2 0h0m-158 1h0m75 0h0m71 0h0m5 0h0m2 0h0m7 0h0m1 0h0m12 0h0m7 0h0m-148 1h0m86 0h0m2 0h0m23 0h0m15 0h0m19 0h0m-189 1h0m26 0h0m85 0h0m9 0h0m32 0h0m6 0h0m4 0h0m27 0h0m1 0h0m-43 1h0m43 0h0m2 0h0m-56 1h0m36 0h0m-173 1h0m194 0h0m-160 1h0m56 0h0m104 0h0m-4 1h0m-54 1h0m-4 1h0m29 2h0m-151 1h0m6 0h0m1 0h0m1 0h0m0 1h0m133 0h0m12 0h0m-153 1h0m2 0h0m16 0h0m-17 1h0m7 0h0m2 0h0m2 0h0m149 0h0m1 0h0m-20 1h0m-18 1h0m25 0h0m1 0h0m8 0h0m4 0h0m1 0h0m-166 1h0m146 0h0m8 0h0m11 0h0m-10 1h0m8 0h0m3 1h0m-9 1h0m-152 2h0m76 2h0m20 0h0m-30 1h0m105 0h0m-102 1h0m16 0h0m-5 1h0m-1 1h0m29 0h0m-34 1h0m1 0h0m3 0h0m1 0h0m2 0h0m5 0h0m20 0h0m-78 1h0m43 0h0m1 0h0m13 0h0m90 0h0m-151 1h0m52 0h0m8 0h0m25 0h0m-24 1h0m2 0h0m4 0h0m3 0h0m-71 1h0m1 0h0m62 0h0m1 0h0m22 0h0m48 0h0m-123 1h0m54 0h0m77 0h0m-141 1h0m71 0h0m-60 1h0m-15 1h0m2 0h0m8 0h0m2 1h0m12 0h0m-23 3h0m22 0h0m-20 1h0m-4 1h0m86 1h0m8 5h0m56 2h0m-143 1h0m145 0h0m-144 1h0m144 1h0m-148 1h0m2 0h0m3 0h0m70 1h0m73 0h0m1 0h0m-76 1h0m73 0h0m-2 1h0m-144 1h0m12 0h0m133 0h0m-140 1h0m-3 12h0" stroke="#e9f3ba"/><path d="M496.5 149.5h0m24 0h0m42 0h0m-28 2h0m26 0h0m-230 1h0m40 0h0m102 0h0m94 0h0m8 0h0m1 0h0m-206 1h0m150 0h0m14 0h0m18 0h0m21 0h0m2 0h0m1 0h0m3 0h0m1 0h0m-206 1h0m2 0h0m12 0h0m85 0h0m9 0h0m37 0h0m12 0h0m31 0h0m12 0h0m2 0h0m1 0h0m13 0h0m-217 1h0m2 0h0m9 0h0m2 0h0m104 0h0m98 0h0m-245 1h0m31 0h0m7 0h0m5 0h0m1 0h0m1 0h0m85 0h0m47 0h0m55 0h0m8 0h0m1 0h0m3 0h0m-242 1h0m36 0h0m109 0h0m32 0h0m3 0h0m57 0h0m3 0h0m-213 1h0m101 0h0m17 0h0m28 0h0m13 0h0m3 0h0m49 0h0m-53 1h0m1 0h0m-82 1h0m31 0h0m20 0h0m32 0h0m2 0h0m-17 1h0m1 0h0m-131 1h0m94 0h0m16 0h0m5 0h0m2 0h0m-97 1h0m41 0h0m54 0h0m5 0h0m26 0h0m-80 1h0m5 0h0m11 0h0m9 0h0m16 0h0m4 0h0m1 0h0m3 0h0m8 0h0m3 0h0m61 0h0m-105 1h0m7 0h0m3 0h0m18 0h0m3 0h0m57 0h0m-197 1h0m14 0h0m1 0h0m3 0h0m1 0h0m8 0h0m4 0h0m66 0h0m23 0h0m14 0h0m16 0h0m-153 1h0m7 0h0m3 0h0m8 0h0m82 0h0m1 0h0m11 0h0m2 0h0m5 0h0m5 0h0m78 0h0m1 0h0m-194 1h0m8 0h0m23 0h0m5 0h0m52 0h0m2 0h0m1 0h0m12 0h0m32 0h0m6 0h0m1 0h0m-144 1h0m1 0h0m1 0h0m1 0h0m1 0h0m3 0h0m4 0h0m2 0h0m9 0h0m6 0h0m5 0h0m2 0h0m2 0h0m53 0h0m15 0h0m1 0h0m25 0h0m43 0h0m2 0h0m-182 1h0m7 0h0m1 0h0m7 0h0m2 0h0m6 0h0m1 0h0m12 0h0m4 0h0m1 0h0m74 0h0m41 0h0m49 0h0m1 0h0m-185 1h0m12 0h0m7 0h0m54 0h0m8 0h0m12 0h0m-96 1h0m3 0h0m1 0h0m1 0h0m87 0h0m2 0h0m16 0h0m9 0h0m19 0h0m-147 1h0m12 0h0m2 0h0m1 0h0m101 0h0m5 0h0m9 0h0m3 0h0m43 0h0m-184 1h0m6 0h0m120 0h0m11 0h0m17 0h0m10 0h0m21 0h0m-173 1h0m110 0h0m64 0h0m-183 1h0m88 0h0m10 0h0m1 0h0m37 0h0m1 0h0m14 0h0m46 0h0m-180 1h0m4 0h0m69 0h0m1 0h0m29 0h0m54 0h0m-86 1h0m1 0h0m10 0h0m19 0h0m5 0h0m27 0h0m15 0h0m14 0h0m-170 1h0m141 0h0m1 0h0m7 0h0m13 0h0m3 0h0m8 0h0m0 1h0m2 0h0m-29 1h0m-143 1h0m4 0h0m155 0h0m-22 1h0m6 0h0m-142 1h0m122 0h0m22 0h0m13 0h0m-41 1h0m46 0h0m-45 1h0m-9 4h0m29 0h0m-125 1h0m146 0h0m15 0h0m-151 1h0m1 1h0m0 1h0m3 1h0m48 0h0m-46 1h0m2 0h0m5 0h0m75 0h0m-82 1h0m-6 1h0m4 0h0m1 0h0m3 0h0m7 0h0m71 0h0m-90 1h0m1 0h0m7 0h0m1 0h0m8 0h0m2 0h0m72 0h0m-91 2h0m13 0h0m1 0h0m61 0h0m-68 1h0m3 0h0m66 0h0m11 0h0m4 0h0m-18 3h0m-50 1h0m-11 1h0m5 0h0m1 0h0m65 0h0m-68 1h0m1 0h0m1 0h0m58 0h0m-45 1h0m129 2h0m-3 1h0m3 0h0m10 0h0m-140 1h0m125 0h0m1 0h0m1 0h0m3 0h0m10 0h0m2 0h0m-150 1h0m-12 1h0m13 1h0m63 0h0m88 0h0m-164 1h0m77 0h0m-1 1h0m68 0h0m-134 1h0m3 0h0m60 0h0m-63 1h0m134 0h0m-134 1h0m2 0h0m57 0h0m-62 1h0m134 0h0m4 0h0m-149 1h0" stroke="#a9cfe4"/><path d="M525.5 149.5h0m22 1h0m-26 1h0m8 0h0m17 0h0m2 0h0m1 0h0m-3 1h0m-4 1h0m2 0h0m3 0h0m1 0h0m19 0h0m-22 1h0m1 0h0m-222 1h0m56 0h0m163 0h0m23 0h0m-197 1h0m148 0h0m11 0h0m12 0h0m9 0h0m16 0h0m2 0h0m2 0h0m-201 1h0m160 0h0m-159 1h0m8 0h0m-6 1h0m2 3h0m154 0h0m-162 2h0m9 0h0m186 0h0m-185 1h0m86 0h0m98 0h0m-186 2h0m131 0h0m-29 1h0m56 0h0m-68 6h0m-1 17h0m2 0h0m-1 1h0m-2 2h0m13 1h0m-22 1h0m25 9h0m-1 1h0m-3 3h0m-1 3h0m-1 1h0m77 3h0" stroke="#eb565d"/><path d="M533.5 149.5h0m6 1h0m-20 1h0m-132 1h0m-62 1h0m58 0h0m204 0h0m-229 1h0m-1 1h0m136 0h0m79 0h0m3 0h0m11 0h0m3 0h0m-248 1h0m12 0h0m5 0h0m23 0h0m96 0h0m17 0h0m84 0h0m3 0h0m6 0h0m-112 1h0m18 0h0m92 0h0m2 0h0m-236 1h0m6 0h0m2 0h0m100 0h0m6 0h0m21 0h0m35 0h0m-163 1h0m1 0h0m105 0h0m21 0h0m16 0h0m2 0h0m10 0h0m6 0h0m5 0h0m-176 1h0m115 0h0m22 0h0m12 0h0m63 0h0m-204 1h0m103 0h0m26 0h0m1 0h0m1 0h0m14 0h0m23 0h0m19 0h0m-158 1h0m101 0h0m13 0h0m76 0h0m-191 1h0m102 0h0m58 0h0m-156 1h0m57 0h0m37 0h0m2 0h0m16 0h0m51 0h0m-165 1h0m86 0h0m69 0h0m-132 1h0m67 0h0m8 0h0m-103 1h0m88 0h0m21 0h0m55 0h0m-171 1h0m100 0h0m36 0h0m47 0h0m-184 1h0m6 0h0m7 0h0m68 0h0m4 0h0m12 0h0m65 0h0m-165 1h0m113 0h0m-113 1h0m3 0h0m72 0h0m3 0h0m15 0h0m5 0h0m-97 1h0m16 0h0m133 0h0m14 0h0m-169 1h0m86 0h0m-66 1h0m157 0h0m8 0h0m-171 1h0m77 0h0m63 0h0m11 0h0m-168 1h0m19 0h0m140 0h0m3 0h0m4 0h0m1 0h0m4 0h0m-164 1h0m3 0h0m151 0h0m-150 1h0m133 0h0m8 0h0m9 0h0m1 0h0m20 0h0m-48 1h0m-132 1h0m3 0h0m3 0h0m3 0h0m-1 1h0m-4 1h0m150 0h0m19 0h0m-22 2h0m26 0h0m-151 1h0m125 0h0m-142 1h0m76 4h0m13 0h0m-23 1h0m3 0h0m45 2h0m1 1h0m2 0h0m-2 1h0m1 0h0m1 0h0m-1 1h0m-6 1h0m44 1h0m16 1h0m-140 1h0m74 0h0m52 0h0m-138 1h0m17 0h0m-4 2h0m11 1h0m-22 1h0m16 0h0m128 0h0m24 0h0m4 1h0m-166 1h0m3 1h0m1 0h0m76 2h0m-80 1h0m165 0h0m-160 1h0m155 0h0m1 1h0m-74 1h0m-84 2h0m2 0h0m71 0h0m1 1h0m72 0h0m14 0h0m-155 2h0m59 0h0m93 0h0m-147 1h0m64 0h0m94 0h0m-169 1h0m66 0h0m83 0h0m-149 1h0m8 0h0m2 0h0m153 0h0m2 0h0m-166 1h0m7 0h0m60 0h0m1 0h0m96 0h0m4 0h0m-168 1h0m7 1h0m155 0h0m1 1h0" stroke="#f4a189"/><path d="M514.5 150.5h0m28 1h0m-192 2h0m200 0h0m-172 1h0m-51 1h0m176 0h0m-177 2h0m220 0h0m-170 5h0m84 1h0m98 0h0m-102 1h0m47 1h0m0 2h0m-43 30h0m3 2h0m92 11h0m-84 1h0m87 1h0m-1 1h0m-80 1h0m81 0h0m0 4h0m3 0h0m-7 2h0m-10 2h0m6 0h0" stroke="#f8b46f"/><path d="M515.5 150.5h0m2 0h0m4 0h0m1 0h0m-18 1h0m6 0h0m2 0h0m-8 1h0m1 0h0m2 0h0m1 0h0m2 0h0m1 0h0m5 0h0m5 0h0m6 0h0m-28 1h0m5 0h0m1 0h0m1 0h0m2 0h0m2 0h0m2 0h0m10 0h0m7 0h0m41 0h0m-204 1h0m6 0h0m121 0h0m5 0h0m3 0h0m2 0h0m3 0h0m1 0h0m1 0h0m2 0h0m7 0h0m6 0h0m3 0h0m3 0h0m-164 1h0m3 0h0m1 0h0m9 0h0m1 0h0m119 0h0m2 0h0m4 0h0m3 0h0m9 0h0m4 0h0m7 0h0m3 0h0m-164 1h0m1 0h0m9 0h0m2 0h0m1 0h0m122 0h0m4 0h0m1 0h0m1 0h0m14 0h0m6 0h0m18 0h0m-179 1h0m3 0h0m8 0h0m129 0h0m7 0h0m-141 1h0m8 0h0m-10 1h0m9 0h0m167 1h0m3 0h0m-177 1h0m178 0h0m4 1h0m-185 1h0m130 0h0m59 1h0m-184 1h0m2 0h0m122 1h0m3 0h0m-35 1h0m34 0h0m2 0h0m5 0h0m22 0h0m-148 1h0m116 0h0m31 0h0m-63 26h0m-12 2h0m18 2h0m-11 2h0m3 6h0m10 0h0m1 1h0m3 0h0m-10 3h0m-5 1h0m10 0h0m2 0h0m72 7h0" stroke="#69a9d8"/><path d="M518.5 150.5h0m2 0h0m21 0h0m-46 1h0m63 0h0m9 0h0m-100 1h0m63 0h0m26 0h0m1 0h0m13 0h0m-216 1h0m4 0h0m106 0h0m5 0h0m1 0h0m3 0h0m7 0h0m29 0h0m22 0h0m25 0h0m-90 1h0m5 0h0m2 0h0m18 0h0m8 0h0m48 0h0m12 0h0m-200 1h0m36 0h0m67 0h0m1 0h0m10 0h0m2 0h0m31 0h0m3 0h0m8 0h0m-155 1h0m12 0h0m91 0h0m11 0h0m21 0h0m3 0h0m2 0h0m1 0h0m1 0h0m8 0h0m8 0h0m9 0h0m-181 1h0m16 0h0m1 0h0m14 0h0m83 0h0m3 0h0m39 0h0m1 0h0m2 0h0m1 0h0m1 0h0m9 0h0m27 0h0m33 0h0m-223 1h0m6 0h0m2 0h0m5 0h0m8 0h0m86 0h0m19 0h0m31 0h0m65 0h0m6 0h0m-238 1h0m15 0h0m9 0h0m4 0h0m92 0h0m29 0h0m13 0h0m24 0h0m8 0h0m-180 1h0m11 0h0m91 0h0m17 0h0m16 0h0m16 0h0m26 0h0m1 0h0m4 0h0m-160 1h0m1 0h0m96 0h0m37 0h0m4 0h0m-168 1h0m134 0h0m45 0h0m10 0h0m-170 1h0m1 0h0m2 0h0m3 0h0m112 0h0m2 0h0m55 0h0m1 0h0m-54 1h0m-134 1h0m12 0h0m17 0h0m68 0h0m43 0h0m-8 1h0m7 0h0m10 0h0m-138 1h0m31 0h0m55 0h0m50 0h0m33 0h0m8 0h0m-189 1h0m11 0h0m4 0h0m5 0h0m16 0h0m9 0h0m138 0h0m-36 1h0m4 0h0m47 0h0m2 0h0m-179 1h0m1 0h0m123 0h0m29 0h0m22 0h0m-184 1h0m13 0h0m3 0h0m62 0h0m7 0h0m19 0h0m68 0h0m20 0h0m-193 1h0m2 0h0m22 0h0m56 0h0m54 0h0m9 0h0m27 0h0m11 0h0m-166 1h0m120 0h0m-127 1h0m15 0h0m-26 1h0m4 0h0m12 0h0m1 0h0m1 0h0m149 0h0m-155 1h0m157 0h0m23 0h0m-48 1h0m31 0h0m-51 1h0m41 0h0m2 0h0m7 0h0m-168 1h0m1 0h0m92 0h0m64 0h0m-39 1h0m16 0h0m27 0h0m10 0h0m-172 1h0m153 0h0m10 0h0m-167 1h0m6 0h0m159 0h0m-9 1h0m8 0h0m5 0h0m-15 2h0m7 0h0m-143 2h0m126 0h0m-71 2h0m1 0h0m69 0h0m19 1h0m-81 1h0m1 0h0m23 0h0m-30 1h0m50 0h0m-93 1h0m51 0h0m39 0h0m1 0h0m-92 2h0m1 0h0m1 1h0m77 0h0m66 0h0m-143 1h0m1 0h0m6 0h0m73 0h0m-69 1h0m130 0h0m-142 1h0m77 0h0m66 0h0m1 0h0m-81 1h0m-64 1h0m80 0h0m-71 1h0m76 0h0m78 0h0m-162 1h0m1 0h0m18 0h0m64 0h0m76 0h0m-158 1h0m6 0h0m153 0h0m-162 1h0m23 0h0m116 0h0m-140 2h0m8 0h0m5 0h0m12 0h0m-22 1h0m8 1h0m150 0h0m-162 1h0m8 0h0m3 1h0m83 0h0m-17 3h0m-60 1h0m62 0h0m94 1h0m-157 2h0m5 0h0m51 0h0m-67 1h0m5 0h0m152 0h0m-155 1h0m66 0h0m-59 1h0m58 0h0m8 0h0m-75 1h0m1 0h0m5 0h0m67 0h0m89 2h0m-164 2h0m169 0h0m-169 2h0m3 0h0m-1 1h0m1 1h0m1 0h0m-7 2h0" stroke="#91c0e2"/><path d="M528.5 150.5h0m-6 1h0m4 0h0m4 0h0m-12 1h0m1 0h0m9 0h0m39 0h0m-50 1h0m4 0h0m7 0h0m17 0h0m-171 1h0m3 0h0m151 0h0m-152 1h0m143 0h0m7 0h0m2 0h0m-163 1h0m7 0h0m3 0h0m169 0h0m-177 1h0m3 0h0m2 0h0m4 0h0m2 0h0m3 0h0m173 1h0m-3 1h0m3 0h0m-193 3h0m25 1h0m114 2h0m-138 1h0m104 0h0m2 0h0m1 0h0m34 0h0m-123 1h0m91 0h0m0 2h0m-2 4h0m-8 18h0m-6 4h0m5 0h0m17 9h0m1 2h0m-10 1h0m1 0h0m4 0h0m8 1h0m-14 1h0m7 0h0m4 4h0m72 0h0" stroke="#8abdda"/><path d="M372.5 151.5h0m-41 1h0m59 0h0m3 0h0m83 0h0m100 0h0m-250 1h0m30 0h0m116 0h0m104 0h0m1 0h0m3 0h0m-228 2h0m224 0h0m-233 1h0m14 0h0m13 0h0m209 0h0m9 0h0m-234 1h0m2 0h0m117 0h0m-124 1h0m127 0h0m77 0h0m-204 1h0m6 0h0m1 0h0m5 0h0m114 0h0m8 0h0m74 0h0m-61 1h0m-113 1h0m135 0h0m3 0h0m17 0h0m2 0h0m-62 1h0m44 0h0m14 0h0m1 0h0m19 0h0m-152 1h0m1 0h0m135 0h0m-167 1h0m27 0h0m3 1h0m47 0h0m-39 2h0m139 0h0m1 0h0m-184 1h0m25 1h0m9 0h0m2 0h0m64 0h0m7 0h0m-88 1h0m5 0h0m3 0h0m1 0h0m65 0h0m34 0h0m46 0h0m-148 1h0m1 0h0m57 0h0m65 0h0m17 0h0m-156 1h0m96 0h0m31 0h0m3 0h0m3 0h0m9 0h0m-33 1h0m76 0h0m-194 1h0m10 0h0m92 0h0m39 0h0m1 0h0m-129 1h0m9 0h0m118 0h0m13 0h0m1 0h0m-8 1h0m-129 1h0m137 0h0m-59 1h0m7 0h0m11 0h0m1 0h0m31 0h0m19 0h0m4 0h0m3 0h0m-77 1h0m4 0h0m17 0h0m55 0h0m-26 1h0m23 0h0m-159 1h0m95 0h0m66 0h0m-163 3h0m155 1h0m-136 1h0m133 0h0m1 1h0m3 0h0m-1 1h0m-46 1h0m-14 1h0m-83 1h0m81 0h0m6 0h0m61 0h0m-89 1h0m27 0h0m-12 1h0m16 0h0m73 1h0m-90 1h0m17 0h0m5 0h0m-33 1h0m28 0h0m-68 4h0m68 0h0m-9 1h0m-71 1h0m7 1h0m73 0h0m58 0h0m26 0h0m-169 1h0m22 0h0m70 0h0m-78 2h0m16 0h0m141 0h0m-148 3h0m7 0h0m-5 3h0m135 0h0m-138 1h0m5 0h0m57 1h0m1 0h0m72 0h0m-78 1h0m-57 2h0m57 0h0m5 0h0m70 0h0m23 0h0m-96 1h0m-2 1h0m8 0h0m65 0h0m-77 1h0m8 0h0m-5 2h0m79 0h0m-149 1h0m-1 4h0m1 0h0m1 1h0m-3 1h0m169 1h0m-171 5h0" stroke="#d1e9c2"/><path d="M505.5 151.5h0m59 2h0m-53 1h0m10 1h0m3 0h0m1 0h0m23 0h0m6 2h0m-50 1h0m2 0h0m-41 6h0m-11 1h0m4 0h0m104 0h0m-99 2h0m7 3h0m59 0h0m-64 22h0m-4 1h0m6 0h0m-3 2h0m2 1h0m1 1h0m-5 1h0m3 8h0m1 0h0m16 0h0m-10 4h0m5 1h0m86 4h0m-13 2h0m5 0h0m-2 1h0m12 0h0m-14 1h0m4 0h0m-3 1h0m1 0h0m-1 1h0m16 0h0" stroke="#f69c66"/><path d="M506.5 151.5h0" stroke="#f9be57"/><path d="M507.5 151.5h0m4 0h0m2 0h0m1 0h0m1 0h0m-9 1h0m6 0h0m13 0h0m1 0h0m-26 1h0m2 0h0m11 0h0m1 0h0m1 0h0m8 0h0m1 0h0m1 0h0m1 0h0m-26 1h0m4 0h0m1 0h0m8 0h0m1 0h0m11 0h0m-148 2h0m19 5h0" stroke="#4595cf"/><path d="M516.5 151.5h0m-3 1h0m1 0h0m10 0h0m-12 2h0" stroke="#8fc8b9"/><path d="M517.5 151.5h0" stroke="#f6a24d"/><path d="M518.5 151.5h0m-165 2h0m143 1h0m60 0h0m-38 1h0m11 0h0m19 1h0m-173 1h0m175 0h0m-49 1h0m51 0h0m-7 1h0m-181 1h0m181 0h0m-184 1h0m1 0h0m189 0h0m-189 1h0m1 0h0m1 0h0m-4 1h0m2 0h0m108 30h0m-18 2h0m26 5h0m3 5h0m-13 1h0m-2 2h0m5 2h0m2 2h0m-3 3h0m5 0h0m-2 1h0m73 3h0" stroke="#faca77"/><path d="M520.5 151.5h0m-1 3h0m24 2h0m3 0h0m2 1h0m1 0h0m2 0h0m20 0h0m-28 1h0m1 0h0m2 0h0m2 0h0m-181 1h0m28 0h0m67 0h0m-66 1h0m-36 1h0m4 0h0m29 1h0m1 0h0m2 0h0m1 0h0m-34 1h0m26 1h0m7 0h0m163 2h0m-25 2h0m-70 22h0m17 4h0m-14 2h0m8 1h0m-3 5h0m-1 4h0m5 6h0m1 0h0" stroke="#fae67e"/><path d="M545.5 151.5h0m0 1h0m2 0h0m-1 1h0m22 0h0m-251 1h0m250 0h0m1 1h0" stroke="#e62e37"/><path d="M557.5 151.5h0m-178 1h0m15 0h0m161 0h0m9 0h0m-231 1h0m139 2h0m60 0h0m2 0h0m25 0h0m2 0h0m-201 1h0m126 0h0m47 0h0m-30 1h0m28 0h0m-165 1h0m123 1h0m44 0h0m-131 1h0m128 0h0m-130 1h0m73 0h0m64 0h0m-163 1h0m27 0h0m3 0h0m129 0h0m1 0h0m1 0h0m-135 1h0m134 0h0m1 0h0m1 0h0m-85 1h0m8 0h0m54 0h0m19 0h0m1 0h0m1 0h0m3 0h0m1 0h0m-51 1h0m49 0h0m1 0h0m-152 1h0m103 0h0m61 0h0m-178 1h0m163 0h0m3 0h0m2 0h0m4 1h0m12 0h0m-177 1h0m123 0h0m30 0h0m-44 1h0m-128 1h0m17 0h0m3 0h0m125 0h0m-146 2h0m15 1h0m107 0h0m1 0h0m1 0h0m57 0h0m-84 1h0m81 0h0m-169 1h0m8 0h0m7 0h0m75 0h0m66 0h0m13 0h0m4 0h0m1 0h0m3 0h0m-5 1h0m-155 1h0m102 0h0m21 0h0m18 0h0m12 0h0m16 0h0m-179 1h0m162 0h0m3 0h0m-10 2h0m-7 1h0m-8 1h0m23 0h0m4 0h0m2 0h0m-35 1h0m4 0h0m21 0h0m1 0h0m6 0h0m-33 1h0m2 0h0m2 0h0m1 0h0m21 0h0m-36 1h0m-122 1h0m121 0h0m-55 3h0m88 1h0m-69 1h0m-74 1h0m60 0h0m1 0h0m29 4h0m2 0h0m9 0h0m-88 1h0m4 0h0m-7 3h0m8 0h0m12 1h0m52 2h0m65 0h0m-134 1h0m11 0h0m-11 1h0m150 4h0m14 1h0m-156 1h0m-1 1h0m64 0h0m16 3h0m2 1h0m59 0h0m-71 2h0m-63 1h0m131 0h0m44 7h0m-23 2h0m-165 4h0" stroke="#faf7a9"/><path d="M336.5 152.5h0m56 0h0m-46 1h0m9 0h0m175 0h0m24 0h0m-201 1h0m1 0h0m1 0h0m33 0h0m186 0h0m-220 1h0m1 0h0m7 0h0m124 0h0m97 0h0m-247 1h0m16 0h0m112 0h0m96 0h0m-227 1h0m13 0h0m0 1h0m1 0h0m144 0h0m3 0h0m15 0h0m9 0h0m42 0h0m-229 1h0m130 0h0m25 0h0m91 0h0m-84 1h0m26 0h0m10 0h0m-37 1h0m1 0h0m1 0h0m38 0h0m3 0h0m-43 1h0m3 0h0m44 0h0m34 0h0m-123 1h0m42 0h0m1 0h0m32 0h0m13 0h0m-85 1h0m74 1h0m-17 1h0m-152 1h0m1 0h0m17 0h0m15 0h0m120 0h0m-153 1h0m1 0h0m39 0h0m64 0h0m7 0h0m1 0h0m6 0h0m2 0h0m31 0h0m3 0h0m2 0h0m-157 1h0m18 0h0m19 0h0m69 0h0m51 0h0m9 0h0m-54 1h0m-111 1h0m91 0h0m23 0h0m40 0h0m14 0h0m-141 1h0m4 0h0m6 0h0m54 0h0m3 0h0m7 0h0m53 0h0m-140 1h0m14 0h0m88 0h0m27 0h0m11 0h0m-65 1h0m51 0h0m15 0h0m21 0h0m25 0h0m-199 1h0m153 0h0m1 0h0m4 0h0m17 0h0m23 0h0m-174 1h0m3 0h0m6 0h0m110 0h0m12 0h0m-153 1h0m23 0h0m4 0h0m131 0h0m-135 1h0m2 0h0m2 0h0m124 0h0m15 0h0m5 0h0m1 0h0m8 0h0m-161 1h0m4 0h0m3 0h0m57 0h0m69 0h0m-137 1h0m11 0h0m154 1h0m-177 1h0m134 0h0m18 0h0m6 1h0m-156 1h0m150 0h0m-9 1h0m-24 1h0m10 1h0m-113 1h0m146 0h0m-145 1h0m70 1h0m19 0h0m-31 1h0m44 0h0m51 0h0m-80 1h0m79 0h0m-83 1h0m1 0h0m14 0h0m14 0h0m-81 1h0m80 2h0m-22 1h0m9 0h0m3 0h0m-67 2h0m62 0h0m-1 1h0m4 0h0m-57 1h0m5 0h0m115 0h0m-123 1h0m5 0h0m-4 1h0m8 0h0m60 0h0m1 0h0m1 0h0m-64 1h0m4 0h0m45 0h0m-56 1h0m1 0h0m4 0h0m-7 1h0m1 0h0m154 0h0m-149 2h0m9 0h0m3 0h0m-19 1h0m17 1h0m55 1h0m85 0h0m1 0h0m-152 1h0m145 0h0m-146 1h0m54 0h0m9 0h0m16 0h0m58 1h0m15 0h0m1 0h0m-160 1h0m164 0h0m-158 2h0m-2 1h0m138 0h0m14 1h0m12 0h0m-172 1h0m11 0h0m134 0h0m3 0h0m14 0h0m-16 1h0m26 0h0m-158 1h0m57 0h0m4 0h0m72 0h0m-75 1h0m74 0h0m1 0h0m2 0h0m20 0h0m-1 1h0m-168 1h0m1 0h0m162 0h0m3 0h0m-4 1h0m28 0h0m-185 1h0m-6 10h0" stroke="#bdded6"/><path d="M517.5 152.5h0m6 0h0m-21 2h0m48 5h0m12 5h0" stroke="#ed6037"/><path d="M520.5 152.5h0m-171 1h0m19 1h0m159 0h0m5 0h0m-207 1h0m174 0h0m6 0h0m17 0h0m-151 1h0m186 1h0m-7 1h0m-88 3h0m39 4h0m-28 1h0m59 2h0m2 1h0m-75 21h0m7 9h0m4 13h0m89 1h0m0 1h0m2 5h0m7 0h0m-19 3h0m13 0h0m-2 2h0" stroke="#f07e5d"/><path d="M573.5 152.5h0m-186 1h0m171 0h0m31 0h0m-115 1h0m16 0h0m52 0h0m45 0h0m-108 1h0m67 0h0m1 0h0m2 0h0m22 0h0m17 0h0m-105 1h0m1 0h0m72 0h0m-12 1h0m-13 1h0m11 0h0m-179 1h0m134 0h0m1 0h0m6 1h0m-139 1h0m29 0h0m152 0h0m-186 1h0m90 0h0m88 0h0m6 0h0m-192 1h0m22 0h0m78 0h0m30 0h0m-22 1h0m55 0h0m-159 1h0m46 0h0m106 0h0m4 0h0m14 0h0m-150 1h0m11 0h0m7 0h0m4 0h0m159 0h0m-185 1h0m3 0h0m182 0h0m-196 1h0m120 0h0m-79 1h0m-35 1h0m-10 1h0m34 0h0m4 0h0m1 0h0m71 0h0m-100 1h0m173 0h0m-173 1h0m172 0h0m-160 1h0m-1 1h0m131 0h0m-52 2h0m84 1h0m-82 1h0m-95 2h0m1 0h0m8 0h0m16 0h0m154 0h0m1 0h0m-24 1h0m1 0h0m17 0h0m3 0h0m2 0h0m-177 1h0m7 0h0m1 0h0m140 1h0m11 0h0m-7 1h0m14 0h0m-16 1h0m-4 1h0m-57 3h0m2 0h0m-12 3h0m11 1h0m73 5h0m-134 1h0m80 1h0m1 0h0m-76 1h0m9 0h0m6 0h0m144 0h0m-168 1h0m1 0h0m28 0h0m-17 1h0m-12 1h0m6 0h0m3 0h0m82 0h0m-85 1h0m1 0h0m5 0h0m4 4h0m143 0h0m-1 1h0m1 0h0m-62 4h0m-82 1h0m152 0h0m7 4h0m-99 3h0m-66 2h0m-4 1h0m2 0h0m-2 1h0m191 0h0m-189 2h0m183 2h0m-182 5h0m-1 2h0" stroke="#fbeda1"/><path d="M344.5 153.5h0m157 2h0m48 3h0m8 2h0m-26 2h0m-132 1h0m59 0h0m72 0h0m1 1h0m-74 1h0m73 0h0m1 0h0m-2 1h0m2 0h0m1 0h0m1 0h0m-34 1h0m32 0h0m1 0h0m0 2h0m4 0h0m-83 1h0m13 28h0m7 4h0m-4 11h0m99 3h0m-15 5h0" stroke="#f9f48a"/><path d="M379.5 153.5h0m1 0h0m-1 1h0m-63 1h0m61 0h0m138 0h0m30 0h0m-2 2h0m4 0h0m12 0h0m-193 2h0m179 2h0m-91 5h0m72 0h0m-169 1h0m26 0h0m84 0h0m-11 23h0m11 2h0m-3 1h0m4 0h0m4 0h0m-6 1h0m1 1h0m1 0h0m-4 3h0m3 0h0m3 0h0m-5 1h0m0 1h0m-1 1h0m0 1h0m-2 2h0m8 2h0m2 1h0m-7 1h0m7 0h0m1 0h0m-5 1h0m3 0h0m-2 1h0m1 0h0m0 1h0m5 0h0m79 0h0m-83 1h0m4 1h0m82 6h0m2 2h0" stroke="#a5d2c7"/><path d="M501.5 153.5h0m-104 8h0m1 1h0m103 5h0" stroke="#f9e060"/><path d="M503.5 153.5h0m-135 3h0" stroke="#f7f26e"/><path d="M507.5 153.5h0m9 0h0m11 0h0m-163 1h0m147 1h0m36 3h0m0 1h0m4 1h0m-51 3h0m-36 5h0m37 0h0m2 0h0m-47 21h0m9 2h0m-1 1h0m5 0h0m-13 1h0m1 0h0m1 0h0m2 0h0m2 0h0m5 1h0m-2 4h0m97 14h0m-15 4h0" stroke="#c0e1ac"/><path d="M518.5 153.5h0m14 0h0m39 0h0m-22 1h0m20 0h0m-67 1h0m11 0h0m-152 8h0m138 1h0m30 0h0m3 1h0m2 0h0m-4 1h0m5 0h0m-5 1h0m3 0h0m0 1h0m-75 21h0m-4 2h0m1 0h0m3 0h0m15 0h0m-5 1h0m1 1h0m-15 1h0m4 0h0m1 0h0m3 0h0m2 0h0m4 0h0m9 0h0m-21 1h0m5 0h0m5 0h0m-10 1h0m3 0h0m1 0h0m1 0h0m1 0h0m2 0h0m-6 1h0m5 0h0m1 0h0m-1 1h0m3 7h0m2 3h0m3 0h0m88 12h0" stroke="#e0efa0"/><path d="M524.5 154.5h0m-149 1h0" stroke="#6eaed1"/><path d="M367.5 155.5h0m-3 8h0m108 46h0" stroke="#d9eb8a"/><path d="M391.5 143.5h0m-11 1h0m3 0h0m3 0h0m5 0h0m138 0h0m-147 1h0m1 0h0m11 0h0m68 0h0m9 0h0m1 0h0m55 0h0m3 0h0m3 0h0m-156 1h0m2 0h0m1 0h0m82 0h0m2 0h0m3 0h0m2 0h0m56 0h0m2 0h0m1 0h0m-156 1h0m5 0h0m6 0h0m7 0h0m2 0h0m72 0h0m68 0h0m-168 1h0m12 0h0m4 0h0m9 0h0m1 0h0m111 0h0m22 0h0m3 0h0m33 0h0m2 0h0m3 0h0m-190 1h0m16 0h0m134 0h0m35 0h0m-196 1h0m1 0h0m8 0h0m11 0h0m111 0h0m11 0h0m3 0h0m3 0h0m32 0h0m6 0h0m15 0h0m-234 1h0m26 0h0m4 0h0m1 0h0m6 0h0m11 0h0m3 0h0m7 0h0m1 0h0m4 0h0m101 0h0m58 0h0m2 0h0m9 0h0m1 0h0m4 0h0m-235 1h0m23 0h0m6 0h0m11 0h0m8 0h0m4 0h0m80 0h0m88 0h0m26 0h0m8 0h0m-274 1h0m49 0h0m11 0h0m1 0h0m1 0h0m19 0h0m69 0h0m18 0h0m9 0h0m4 0h0m-180 1h0m4 0h0m43 0h0m28 0h0m5 0h0m91 0h0m9 0h0m97 0h0m-276 1h0m4 0h0m3 0h0m4 0h0m68 0h0m88 0h0m1 0h0m-158 1h0m68 0h0m77 0h0m11 0h0m94 1h0m-238 1h0m44 0h0m89 0h0m-142 1h0m5 0h0m2 0h0m234 0h0m-236 1h0m14 0h0m3 2h0m2 2h0m1 1h0m1 0h0m40 69h0m3 4h0m4 0h0" stroke="#c4c4c4"/><path d="M396.5 143.5h0m1 0h0m1 0h0m3 0h0m13 0h0m1 0h0m3 0h0m1 0h0m1 0h0m8 0h0m1 0h0m2 0h0m1 0h0m2 0h0m-39 1h0m2 0h0m1 0h0m2 0h0m2 0h0m1 0h0m1 0h0m3 0h0m6 0h0m3 0h0m1 0h0m2 0h0m13 0h0m2 0h0m1 0h0m2 0h0m4 0h0m1 0h0m-44 3h0m4 0h0m4 0h0m31 0h0m-37 1h0m8 1h0m1 1h0m-14 1h0m1 0h0m3 0h0m11 0h0m1 0h0m23 0h0m1 0h0m-36 1h0m1 0h0m11 0h0m15 1h0m3 0h0m1 0h0m-28 1h0m1 0h0m8 0h0m12 0h0m18 0h0m-37 1h0m18 0h0m13 0h0m1 0h0m1 0h0m4 0h0m1 0h0m-47 1h0m1 0h0m1 0h0m1 0h0m1 0h0m4 0h0m10 0h0m9 0h0m16 0h0m1 0h0m1 0h0m-42 1h0m1 0h0m3 0h0m18 0h0m-24 1h0m2 0h0m17 0h0m1 0h0m1 0h0m2 0h0m-21 1h0m4 0h0m1 0h0" stroke="#b4b4b4"/></g>
<rect x="313.45" y="133.90" width="281.75" height="111.35" fill="none" stroke="#3a3a3a" stroke-width="1.25"/>
<text transform="translate(307.95,152.40) scale(1.2,1) rotate(-90)" class="h" font-size="7.0" font-weight="bold" text-anchor="middle" textLength="14.40" lengthAdjust="spacingAndGlyphs">70<tspan font-size="5.6" dy="-0.6">°</tspan><tspan dy="0.6">N</tspan></text>
<text transform="translate(307.95,179.94) scale(1.2,1) rotate(-90)" class="h" font-size="7.0" font-weight="bold" text-anchor="middle" textLength="14.40" lengthAdjust="spacingAndGlyphs">30<tspan font-size="5.6" dy="-0.6">°</tspan><tspan dy="0.6">N</tspan></text>
<text transform="translate(307.95,207.49) scale(1.2,1) rotate(-90)" class="h" font-size="7.0" font-weight="bold" text-anchor="middle" textLength="14.40" lengthAdjust="spacingAndGlyphs">10<tspan font-size="5.6" dy="-0.6">°</tspan><tspan dy="0.6">S</tspan></text>
<text transform="translate(307.95,235.03) scale(1.2,1) rotate(-90)" class="h" font-size="7.0" font-weight="bold" text-anchor="middle" textLength="14.40" lengthAdjust="spacingAndGlyphs">50<tspan font-size="5.6" dy="-0.6">°</tspan><tspan dy="0.6">S</tspan></text>
<path d="M310.55 152.40H313.45M310.55 179.94H313.45M310.55 207.49H313.45M310.55 235.03H313.45M310.55 138.63H313.45" stroke="#3a3a3a" stroke-width="1.1" fill="none"/>
<text x="313.70" y="254.95" font-size="7.0" font-weight="bold" text-anchor="middle" textLength="15.20" lengthAdjust="spacingAndGlyphs">180<tspan font-size="5.6" dy="-0.6">°</tspan><tspan dy="0.6"></tspan></text>
<text x="344.46" y="254.95" font-size="7.0" font-weight="bold" text-anchor="middle" textLength="22.14" lengthAdjust="spacingAndGlyphs">140<tspan font-size="5.6" dy="-0.6">°</tspan><tspan dy="0.6">W</tspan></text>
<text x="375.21" y="254.95" font-size="7.0" font-weight="bold" text-anchor="middle" textLength="22.14" lengthAdjust="spacingAndGlyphs">100<tspan font-size="5.6" dy="-0.6">°</tspan><tspan dy="0.6">W</tspan></text>
<text x="405.97" y="254.95" font-size="7.0" font-weight="bold" text-anchor="middle" textLength="18.05" lengthAdjust="spacingAndGlyphs">60<tspan font-size="5.6" dy="-0.6">°</tspan><tspan dy="0.6">W</tspan></text>
<text x="436.72" y="254.95" font-size="7.0" font-weight="bold" text-anchor="middle" textLength="18.05" lengthAdjust="spacingAndGlyphs">20<tspan font-size="5.6" dy="-0.6">°</tspan><tspan dy="0.6">W</tspan></text>
<text x="467.48" y="254.95" font-size="7.0" font-weight="bold" text-anchor="middle" textLength="16.02" lengthAdjust="spacingAndGlyphs">20<tspan font-size="5.6" dy="-0.6">°</tspan><tspan dy="0.6">E</tspan></text>
<text x="498.24" y="254.95" font-size="7.0" font-weight="bold" text-anchor="middle" textLength="16.02" lengthAdjust="spacingAndGlyphs">60<tspan font-size="5.6" dy="-0.6">°</tspan><tspan dy="0.6">E</tspan></text>
<text x="528.99" y="254.95" font-size="7.0" font-weight="bold" text-anchor="middle" textLength="20.10" lengthAdjust="spacingAndGlyphs">100<tspan font-size="5.6" dy="-0.6">°</tspan><tspan dy="0.6">E</tspan></text>
<text x="559.75" y="254.95" font-size="7.0" font-weight="bold" text-anchor="middle" textLength="20.10" lengthAdjust="spacingAndGlyphs">140<tspan font-size="5.6" dy="-0.6">°</tspan><tspan dy="0.6">E</tspan></text>
<text x="590.50" y="254.95" font-size="7.0" font-weight="bold" text-anchor="middle" textLength="15.20" lengthAdjust="spacingAndGlyphs">180<tspan font-size="5.6" dy="-0.6">°</tspan><tspan dy="0.6"></tspan></text>
<path d="M313.70 245.25V247.85M344.46 245.25V247.85M375.21 245.25V247.85M405.97 245.25V247.85M436.72 245.25V247.85M467.48 245.25V247.85M498.24 245.25V247.85M528.99 245.25V247.85M559.75 245.25V247.85M590.50 245.25V247.85" stroke="#3a3a3a" stroke-width="1" fill="none"/>
<text x="321.85" y="145.50" font-size="9.6" font-weight="bold" textLength="11.90" lengthAdjust="spacingAndGlyphs">(d)</text>
<path d="M584.80 140.10L580.10 152.00L584.80 148.30Z" fill="#111"/>
<path d="M584.80 140.10L589.50 152.00L584.80 148.30Z" fill="#fff" stroke="#111" stroke-width="0.75" stroke-linejoin="round"/>
<text x="584.10" y="137.65" font-size="5.0" font-weight="bold" text-anchor="middle">N</text>
<rect x="449.60" y="237.35" width="69.40" height="2.9" fill="#000"/>
<rect x="467.50" y="237.80" width="16.5" height="2.0" fill="#f4f4f4" stroke="#9a9a9a" stroke-width="0.5"/>
<text x="449.70" y="234.75" class="l" font-size="5.0" text-anchor="middle" fill="#222">0</text>
<text x="467.00" y="234.75" class="l" font-size="5.0" text-anchor="middle" textLength="15.00" lengthAdjust="spacingAndGlyphs" fill="#222">2,500</text>
<text x="484.10" y="234.75" class="l" font-size="5.0" text-anchor="middle" textLength="14.10" lengthAdjust="spacingAndGlyphs" fill="#222">5,000</text>
<text x="518.00" y="234.75" class="l" font-size="5.0" text-anchor="middle" textLength="18.00" lengthAdjust="spacingAndGlyphs" fill="#222">10,000</text>
<text x="520.50" y="240.50" class="l" font-size="5.3" font-weight="bold" textLength="30.20" lengthAdjust="spacingAndGlyphs" fill="#111">Kilometers</text>
<rect x="327.00" y="211.28" width="4.15" height="23.32" fill="#4b9fd5"/>
<rect x="332.12" y="217.90" width="4.15" height="16.70" fill="#16507e"/>
<rect x="337.24" y="218.04" width="4.15" height="16.56" fill="#7cc242"/>
<rect x="342.36" y="221.63" width="4.15" height="12.97" fill="#1f7a2b"/>
<rect x="347.48" y="223.70" width="4.15" height="10.90" fill="#f5222b"/>
<rect x="352.60" y="225.35" width="4.15" height="9.25" fill="#a31218"/>
<rect x="357.72" y="227.70" width="4.15" height="6.90" fill="#fb9526"/>
<rect x="362.84" y="227.98" width="4.15" height="6.62" fill="#c9b3d9"/>
<rect x="367.96" y="227.98" width="4.15" height="6.62" fill="#a9561a"/>
<rect x="373.08" y="229.63" width="4.15" height="4.97" fill="#3c1f6e"/>
<rect x="378.20" y="229.36" width="4.15" height="5.24" fill="#f9ef2b"/>
<rect x="383.32" y="223.28" width="4.15" height="11.32" fill="#6e3513"/>
<path d="M326.30 207.00V234.60H388.80" fill="none" stroke="#222" stroke-width="0.8"/>
<text x="324.90" y="235.90" class="m" font-size="3.6" font-weight="bold" text-anchor="end" fill="#111">0</text>
<text x="324.90" y="229.00" class="m" font-size="3.6" font-weight="bold" text-anchor="end" fill="#111">5</text>
<text x="324.90" y="222.10" class="m" font-size="3.6" font-weight="bold" text-anchor="end" fill="#111">10</text>
<text x="324.90" y="215.20" class="m" font-size="3.6" font-weight="bold" text-anchor="end" fill="#111">15</text>
<text x="324.90" y="208.30" class="m" font-size="3.6" font-weight="bold" text-anchor="end" fill="#111">20</text>
<text x="334.19" y="239.40" class="m" font-size="3.4" font-weight="bold" text-anchor="middle" fill="#111">2</text>
<text x="344.43" y="239.40" class="m" font-size="3.4" font-weight="bold" text-anchor="middle" fill="#111">4</text>
<text x="354.67" y="239.40" class="m" font-size="3.4" font-weight="bold" text-anchor="middle" fill="#111">6</text>
<text x="364.91" y="239.40" class="m" font-size="3.4" font-weight="bold" text-anchor="middle" fill="#111">8</text>
<text x="375.15" y="239.40" class="m" font-size="3.4" font-weight="bold" text-anchor="middle" fill="#111">10</text>
<text x="385.39" y="239.40" class="m" font-size="3.4" font-weight="bold" text-anchor="middle" fill="#111">12</text>
<path d="M325.10 234.60H326.30M325.10 227.70H326.30M325.10 220.80H326.30M325.10 213.90H326.30M325.10 207.00H326.30M334.19 234.60V235.60M344.43 234.60V235.60M354.67 234.60V235.60M364.91 234.60V235.60M375.15 234.60V235.60M385.39 234.60V235.60" stroke="#333" stroke-width="0.5" fill="none"/>
<text x="356.50" y="243.60" class="m" font-size="4.9" font-weight="bold" text-anchor="middle" textLength="14.80" lengthAdjust="spacingAndGlyphs" fill="#1a1a1a">Month</text>
<text transform="translate(319.40,222.40) scale(1.2,1) rotate(-90)" class="m" font-size="3.9" font-weight="bold" text-anchor="middle" textLength="30.00" lengthAdjust="spacingAndGlyphs" fill="#111">Percentage (%)</text>
<g stroke-width="1.25" stroke-linecap="round" fill="none"><path d="M89.5 271.5h0m78 1h0m-96 2h0m-7 2h0m13 0h0m2 0h0m142 0h0m20 0h0m-23 1h0m1 0h0m2 0h0m2 0h0m6 0h0m12 0h0m26 0h0m-228 1h0m1 0h0m26 0h0m3 0h0m2 0h0m21 0h0m1 0h0m84 0h0m40 0h0m2 0h0m2 0h0m1 0h0m2 0h0m3 0h0m7 0h0m3 0h0m1 0h0m2 0h0m38 0h0m7 0h0m-245 1h0m1 0h0m1 0h0m3 0h0m44 0h0m80 0h0m3 0h0m9 0h0m21 0h0m24 0h0m10 0h0m2 0h0m1 0h0m33 0h0m13 0h0m7 0h0m-274 1h0m24 0h0m44 0h0m2 0h0m79 0h0m6 0h0m4 0h0m51 0h0m9 0h0m1 0h0m13 0h0m28 0h0m9 0h0m-272 1h0m2 0h0m1 0h0m1 0h0m1 0h0m5 0h0m3 0h0m35 0h0m4 0h0m27 0h0m95 0h0m5 0h0m4 0h0m26 0h0m3 0h0m50 0h0m-238 1h0m1 0h0m20 0h0m2 0h0m2 0h0m1 0h0m98 0h0m3 0h0m7 0h0m7 0h0m4 0h0m7 0h0m24 0h0m10 0h0m11 0h0m3 0h0m1 0h0m4 0h0m15 0h0m10 0h0m1 0h0m1 0h0m4 0h0m2 0h0m-239 1h0m24 0h0m1 0h0m3 0h0m3 0h0m91 0h0m19 0h0m6 0h0m12 0h0m6 0h0m18 0h0m17 0h0m16 0h0m16 0h0m4 0h0m3 0h0m10 0h0m-230 1h0m8 0h0m1 0h0m2 0h0m3 0h0m1 0h0m2 0h0m86 0h0m1 0h0m19 0h0m14 0h0m3 0h0m1 0h0m2 0h0m4 0h0m4 0h0m2 0h0m6 0h0m18 0h0m2 0h0m4 0h0m11 0h0m-187 1h0m2 0h0m2 0h0m1 0h0m3 0h0m88 0h0m23 0h0m2 0h0m10 0h0m10 0h0m4 0h0m1 0h0m1 0h0m1 0h0m7 0h0m59 0h0m-216 1h0m2 0h0m94 0h0m1 0h0m22 0h0m1 0h0m2 0h0m9 0h0m3 0h0m19 0h0m12 0h0m15 0h0m5 0h0m7 0h0m24 0h0m-215 1h0m86 0h0m12 0h0m13 0h0m10 0h0m5 0h0m7 0h0m3 0h0m10 0h0m2 0h0m20 0h0m1 0h0m10 0h0m17 0h0m1 0h0m14 0h0m1 0h0m2 0h0m-222 1h0m5 0h0m1 0h0m33 0h0m89 0h0m1 0h0m23 0h0m1 0h0m5 0h0m33 0h0m1 0h0m1 0h0m7 0h0m20 0h0m2 0h0m-217 1h0m4 0h0m108 0h0m1 0h0m3 0h0m5 0h0m14 0h0m14 0h0m20 0h0m3 0h0m1 0h0m12 0h0m5 0h0m1 0h0m5 0h0m2 0h0m16 0h0m2 0h0m-173 1h0m1 0h0m2 0h0m47 0h0m1 0h0m5 0h0m2 0h0m1 0h0m9 0h0m3 0h0m25 0h0m12 0h0m1 0h0m1 0h0m7 0h0m14 0h0m10 0h0m1 0h0m7 0h0m4 0h0m18 0h0m-209 1h0m17 0h0m16 0h0m12 0h0m63 0h0m3 0h0m11 0h0m3 0h0m17 0h0m6 0h0m8 0h0m11 0h0m-175 1h0m2 0h0m2 0h0m3 0h0m29 0h0m2 0h0m1 0h0m2 0h0m13 0h0m69 0h0m2 0h0m2 0h0m2 0h0m6 0h0m25 0h0m5 0h0m5 0h0m8 0h0m11 0h0m3 0h0m9 0h0m1 0h0m1 0h0m4 0h0m-175 1h0m9 0h0m1 0h0m2 0h0m10 0h0m1 0h0m49 0h0m1 0h0m11 0h0m17 0h0m9 0h0m5 0h0m17 0h0m9 0h0m1 0h0m3 0h0m2 0h0m1 0h0m6 0h0m4 0h0m9 0h0m2 0h0m5 0h0m-166 1h0m2 0h0m65 0h0m2 0h0m1 0h0m3 0h0m1 0h0m5 0h0m31 0h0m11 0h0m15 0h0m5 0h0m7 0h0m14 0h0m4 0h0m-167 1h0m1 0h0m2 0h0m66 0h0m2 0h0m31 0h0m1 0h0m5 0h0m7 0h0m13 0h0m9 0h0m1 0h0m4 0h0m5 0h0m-167 1h0m6 0h0m11 0h0m3 0h0m56 0h0m10 0h0m8 0h0m36 0h0m3 0h0m1 0h0m29 0h0m3 0h0m7 0h0m13 0h0m1 0h0m1 0h0m-195 1h0m25 0h0m1 0h0m73 0h0m3 0h0m1 0h0m17 0h0m14 0h0m1 0h0m1 0h0m3 0h0m8 0h0m33 0h0m2 0h0m-165 1h0m1 0h0m9 0h0m73 0h0m29 0h0m2 0h0m1 0h0m7 0h0m11 0h0m6 0h0m5 0h0m15 0h0m6 0h0m1 0h0m-106 1h0m3 0h0m11 0h0m9 0h0m8 0h0m21 0h0m1 0h0m5 0h0m1 0h0m1 0h0m1 0h0m1 0h0m1 0h0m10 0h0m18 0h0m12 0h0m1 0h0m12 0h0m-175 1h0m2 0h0m87 0h0m2 0h0m11 0h0m8 0h0m12 0h0m1 0h0m4 0h0m26 0h0m11 0h0m-102 1h0m8 0h0m39 0h0m5 0h0m9 0h0m3 0h0m18 0h0m20 0h0m9 0h0m-196 1h0m26 0h0m71 0h0m40 0h0m11 0h0m11 0h0m1 0h0m5 0h0m13 0h0m1 0h0m15 0h0m3 0h0m-113 1h0m1 0h0m11 0h0m28 0h0m20 0h0m1 0h0m22 0h0m11 0h0m-153 1h0m62 0h0m12 0h0m26 0h0m36 0h0m5 0h0m1 0h0m5 0h0m1 0h0m-163 1h0m2 0h0m71 0h0m13 0h0m2 0h0m1 0h0m1 0h0m5 0h0m17 0h0m37 0h0m6 0h0m2 0h0m6 0h0m4 0h0m-28 1h0m10 0h0m19 0h0m1 0h0m-36 1h0m7 0h0m12 0h0m4 0h0m6 0h0m3 0h0m1 0h0m1 0h0m1 0h0m-78 1h0m38 0h0m1 0h0m4 0h0m15 0h0m8 0h0m11 0h0m-54 1h0m1 0h0m20 0h0m29 0h0m1 0h0m4 0h0m-56 1h0m40 0h0m12 0h0m1 0h0m1 0h0m6 0h0m-34 1h0m18 0h0m1 0h0m8 0h0m-161 1h0m16 0h0m103 0h0m30 0h0m1 0h0m2 0h0m4 0h0m-151 1h0m1 0h0m1 0h0m129 0h0m13 0h0m5 0h0m5 0h0m1 0h0m-11 1h0m-143 1h0m93 0h0m69 0h0m-160 1h0m75 0h0m7 0h0m-83 1h0m2 0h0m1 0h0m9 1h0m70 0h0m47 0h0m20 0h0m-146 1h0m9 0h0m1 0h0m6 0h0m1 0h0m107 0h0m-113 1h0m52 0h0m1 0h0m61 0h0m2 0h0m-118 1h0m2 0h0m52 0h0m38 0h0m26 0h0m-66 1h0m1 0h0m38 0h0m-91 1h0m3 0h0m7 0h0m2 0h0m80 0h0m-25 1h0m8 0h0m-78 1h0m7 0h0m7 0h0m-6 1h0m3 0h0m1 0h0m6 0h0m64 0h0m9 0h0m-94 1h0m3 0h0m2 0h0m1 0h0m3 0h0m61 0h0m3 0h0m5 0h0m1 0h0m3 0h0m-81 1h0m1 0h0m5 0h0m2 0h0m8 0h0m10 0h0m52 0h0m7 0h0m56 0h0m12 0h0m-140 1h0m6 0h0m2 0h0m3 0h0m5 0h0m46 0h0m8 0h0m7 0h0m52 0h0m-118 1h0m1 0h0m5 0h0m-13 1h0m130 0h0m-131 1h0m14 0h0m41 0h0m103 0h0m1 0h0m-103 1h0m6 0h0m5 0h0m-53 1h0m51 0h0m5 0h0m3 0h0m3 0h0m-11 1h0m4 0h0m2 0h0m77 0h0m-83 1h0m83 0h0m8 0h0m-159 1h0m59 0h0m14 0h0m3 0h0m76 0h0m1 0h0m-158 1h0m6 0h0m74 0h0m8 0h0m70 0h0m1 0h0m1 0h0m-153 1h0m3 0h0m66 0h0m83 0h0m-80 1h0m1 0h0m80 0h0m-80 1h0m8 0h0m1 0h0m53 0h0m-140 1h0m1 0h0m4 0h0m72 0h0m8 0h0m2 0h0m52 0h0m2 0h0m2 0h0m1 0h0m8 0h0m-155 1h0m16 0h0m53 0h0m7 0h0m13 0h0m54 0h0m2 0h0m-131 1h0m53 0h0m5 0h0m73 0h0m1 0h0m-131 1h0m56 0h0m4 0h0m4 0h0m68 0h0m-147 1h0m1 0h0m14 0h0m53 0h0m7 0h0m2 0h0m1 0h0m68 0h0m1 0h0m9 0h0m-87 1h0m2 0h0m72 0h0m4 0h0m7 0h0m11 0h0m-96 1h0m77 0h0m14 0h0m2 0h0m1 0h0m-95 1h0m95 0h0m3 0h0m-156 1h0m154 0h0m1 1h0m1 0h0m1 0h0m-168 2h0m4 1h0m2 0h0m-2 1h0m163 0h0m1 0h0m-166 1h0m-1 6h0" stroke="#c4dfb5"/><path d="M169.5 272.5h0m66 2h0m7 2h0m-20 1h0m42 0h0m-189 1h0m99 0h0m-121 1h0m3 0h0m112 0h0m7 0h0m2 0h0m22 0h0m29 0h0m2 0h0m4 0h0m3 0h0m3 0h0m1 0h0m1 0h0m37 0h0m-233 1h0m8 0h0m6 0h0m27 0h0m3 0h0m81 0h0m27 0h0m1 0h0m3 0h0m28 0h0m3 0h0m6 0h0m3 0h0m1 0h0m1 0h0m-199 1h0m38 0h0m91 0h0m15 0h0m4 0h0m5 0h0m32 0h0m1 0h0m2 0h0m4 0h0m1 0h0m13 0h0m3 0h0m-222 1h0m13 0h0m1 0h0m1 0h0m13 0h0m20 0h0m115 0h0m2 0h0m2 0h0m29 0h0m5 0h0m1 0h0m1 0h0m1 0h0m2 0h0m14 0h0m-218 1h0m6 0h0m1 0h0m4 0h0m1 0h0m1 0h0m27 0h0m1 0h0m4 0h0m1 0h0m119 0h0m4 0h0m11 0h0m13 0h0m4 0h0m3 0h0m1 0h0m2 0h0m52 0h0m-257 1h0m1 0h0m2 0h0m5 0h0m1 0h0m2 0h0m12 0h0m4 0h0m1 0h0m1 0h0m7 0h0m6 0h0m6 0h0m113 0h0m1 0h0m3 0h0m35 0h0m2 0h0m4 0h0m2 0h0m11 0h0m33 0h0m-252 1h0m15 0h0m8 0h0m4 0h0m21 0h0m105 0h0m19 0h0m30 0h0m1 0h0m3 0h0m20 0h0m4 0h0m-204 1h0m1 0h0m1 0h0m2 0h0m2 0h0m2 0h0m1 0h0m2 0h0m1 0h0m3 0h0m1 0h0m107 0h0m3 0h0m21 0h0m3 0h0m27 0h0m1 0h0m5 0h0m8 0h0m3 0h0m-193 1h0m2 0h0m7 0h0m13 0h0m80 0h0m22 0h0m5 0h0m20 0h0m28 0h0m4 0h0m11 0h0m3 0h0m2 0h0m1 0h0m-197 1h0m4 0h0m1 0h0m10 0h0m7 0h0m24 0h0m46 0h0m1 0h0m27 0h0m3 0h0m5 0h0m18 0h0m1 0h0m27 0h0m1 0h0m-168 1h0m80 0h0m6 0h0m7 0h0m1 0h0m4 0h0m2 0h0m1 0h0m7 0h0m8 0h0m25 0h0m1 0h0m4 0h0m2 0h0m41 0h0m-197 1h0m8 0h0m82 0h0m3 0h0m7 0h0m2 0h0m6 0h0m34 0h0m6 0h0m8 0h0m8 0h0m11 0h0m21 0h0m1 0h0m-198 1h0m9 0h0m1 0h0m2 0h0m6 0h0m84 0h0m1 0h0m6 0h0m19 0h0m19 0h0m5 0h0m14 0h0m36 0h0m4 0h0m-207 1h0m2 0h0m8 0h0m1 0h0m2 0h0m17 0h0m15 0h0m9 0h0m86 0h0m3 0h0m3 0h0m7 0h0m1 0h0m3 0h0m11 0h0m21 0h0m7 0h0m1 0h0m3 0h0m7 0h0m-198 1h0m2 0h0m19 0h0m1 0h0m21 0h0m2 0h0m49 0h0m1 0h0m11 0h0m27 0h0m2 0h0m12 0h0m41 0h0m-188 1h0m2 0h0m20 0h0m13 0h0m1 0h0m73 0h0m38 0h0m3 0h0m12 0h0m25 0h0m-188 1h0m2 0h0m7 0h0m9 0h0m5 0h0m1 0h0m13 0h0m1 0h0m58 0h0m41 0h0m9 0h0m44 0h0m1 0h0m-182 1h0m8 0h0m3 0h0m1 0h0m1 0h0m8 0h0m53 0h0m19 0h0m32 0h0m9 0h0m6 0h0m3 0h0m-136 1h0m1 0h0m2 0h0m4 0h0m59 0h0m55 0h0m42 0h0m4 0h0m1 0h0m-163 1h0m94 0h0m9 0h0m43 0h0m31 0h0m-202 1h0m23 0h0m11 0h0m1 0h0m86 0h0m2 0h0m17 0h0m32 0h0m29 0h0m-113 1h0m34 0h0m4 0h0m12 0h0m15 0h0m-153 1h0m26 0h0m95 0h0m10 0h0m20 0h0m21 0h0m7 0h0m5 0h0m-178 1h0m21 0h0m1 0h0m66 0h0m25 0h0m2 0h0m29 0h0m1 0h0m2 0h0m17 0h0m25 0h0m-179 1h0m11 0h0m74 0h0m21 0h0m29 0h0m1 0h0m16 0h0m12 0h0m-160 1h0m66 0h0m9 0h0m7 0h0m8 0h0m27 0h0m12 0h0m1 0h0m9 0h0m7 0h0m3 0h0m15 0h0m10 0h0m-93 1h0m12 0h0m3 0h0m32 0h0m14 0h0m4 0h0m2 0h0m14 0h0m-60 1h0m7 0h0m49 0h0m1 0h0m2 0h0m-165 1h0m134 0h0m5 0h0m2 0h0m29 0h0m-179 1h0m3 0h0m138 0h0m32 0h0m-164 1h0m103 0h0m11 0h0m21 0h0m23 0h0m5 0h0m-164 1h0m66 0h0m49 0h0m7 0h0m1 0h0m9 0h0m30 0h0m-40 1h0m1 0h0m9 0h0m3 0h0m28 0h0m-46 1h0m4 0h0m2 0h0m11 0h0m17 0h0m7 0h0m-37 1h0m14 0h0m-30 1h0m-17 1h0m16 1h0m56 0h0m-74 1h0m17 0h0m7 0h0m45 0h0m1 0h0m16 0h0m-67 1h0m4 0h0m2 0h0m-38 1h0m20 0h0m15 0h0m-82 1h0m3 0h0m81 0h0m-84 1h0m51 0h0m29 0h0m4 0h0m2 0h0m1 0h0m-83 1h0m41 0h0m7 0h0m5 0h0m6 0h0m18 0h0m8 0h0m41 0h0m-120 1h0m72 0h0m4 0h0m1 0h0m2 0h0m-78 1h0m1 0h0m53 0h0m10 0h0m1 0h0m12 0h0m-80 1h0m4 0h0m1 0h0m48 0h0m18 0h0m7 0h0m52 0h0m-135 1h0m5 0h0m1 0h0m4 0h0m47 0h0m2 0h0m12 0h0m4 0h0m1 0h0m1 0h0m3 0h0m57 0h0m1 0h0m-67 1h0m2 0h0m5 0h0m1 0h0m1 0h0m-78 1h0m1 0h0m8 0h0m2 0h0m54 0h0m1 0h0m10 0h0m1 0h0m1 0h0m56 0h0m2 0h0m15 0h0m-153 1h0m10 0h0m1 0h0m2 0h0m1 0h0m5 0h0m49 0h0m6 0h0m3 0h0m2 0h0m62 0h0m19 0h0m-169 1h0m3 0h0m7 0h0m14 0h0m2 0h0m48 0h0m2 0h0m2 0h0m4 0h0m-78 1h0m1 0h0m2 0h0m18 0h0m48 0h0m13 0h0m54 0h0m-140 1h0m6 0h0m4 0h0m6 0h0m2 0h0m1 0h0m3 0h0m3 0h0m1 0h0m59 0h0m3 0h0m-84 1h0m2 0h0m2 0h0m10 0h0m5 0h0m55 0h0m6 0h0m3 0h0m-78 1h0m1 0h0m11 0h0m5 0h0m43 0h0m10 0h0m3 0h0m2 0h0m-59 1h0m46 0h0m1 0h0m2 0h0m2 0h0m1 0h0m12 0h0m-62 1h0m43 0h0m1 0h0m4 0h0m2 0h0m8 0h0m2 0h0m81 0h0m-149 1h0m49 0h0m8 0h0m9 0h0m72 0h0m10 0h0m2 0h0m-145 1h0m60 0h0m69 0h0m3 0h0m-130 1h0m1 0h0m128 0h0m1 0h0m1 0h0m1 0h0m9 0h0m1 0h0m-86 1h0m71 0h0m2 0h0m2 0h0m5 0h0m8 0h0m-12 1h0m6 0h0m-2 1h0m4 0h0m-154 1h0m1 0h0m62 0h0m-64 1h0m3 0h0m59 0h0m5 0h0m1 0h0m-72 1h0m2 0h0m2 0h0m9 0h0m53 0h0m7 0h0m77 0h0m17 0h0m-161 1h0m2 0h0m58 0h0m2 0h0m1 0h0m-59 1h0m57 0h0m6 0h0m76 0h0m1 0h0m8 0h0m6 0h0m-15 1h0m6 0h0m7 0h0m3 0h0m2 0h0m-166 1h0m1 0h0m153 0h0m7 0h0m3 0h0m-164 1h0m4 0h0m1 0h0m156 0h0m1 0h0m1 0h0m1 0h0m-163 1h0m158 0h0m5 0h0m1 0h0m-5 1h0m2 0h0m1 0h0m-161 1h0m162 2h0m18 0h0m1 0h0m-2 1h0m1 0h0m1 0h0m-185 1h0m182 0h0m1 0h0m-1 1h0m-186 1h0m0 1h0m4 0h0m-4 3h0" stroke="#fdebae"/><path d="M86.5 273.5h0m113 1h0m1 0h0m30 0h0m2 0h0m-35 1h0m1 0h0m43 0h0m-175 1h0m129 0h0m2 0h0m35 0h0m14 0h0m3 0h0m-53 1h0m2 0h0m47 0h0m7 0h0m-214 1h0m30 0h0m102 0h0m3 0h0m35 0h0m4 0h0m4 0h0m14 0h0m11 0h0m1 0h0m14 0h0m17 0h0m-257 1h0m42 0h0m2 0h0m22 0h0m2 0h0m1 0h0m2 0h0m1 0h0m78 0h0m5 0h0m2 0h0m7 0h0m17 0h0m6 0h0m8 0h0m18 0h0m2 0h0m45 0h0m6 0h0m5 0h0m4 0h0m-272 1h0m10 0h0m9 0h0m1 0h0m39 0h0m3 0h0m1 0h0m1 0h0m83 0h0m3 0h0m1 0h0m8 0h0m11 0h0m4 0h0m8 0h0m35 0h0m4 0h0m15 0h0m18 0h0m5 0h0m8 0h0m1 0h0m2 0h0m1 0h0m1 0h0m-269 1h0m16 0h0m1 0h0m1 0h0m4 0h0m4 0h0m1 0h0m13 0h0m15 0h0m4 0h0m3 0h0m12 0h0m74 0h0m18 0h0m4 0h0m24 0h0m29 0h0m3 0h0m5 0h0m19 0h0m1 0h0m12 0h0m3 0h0m1 0h0m1 0h0m-255 1h0m7 0h0m22 0h0m14 0h0m1 0h0m2 0h0m1 0h0m2 0h0m1 0h0m80 0h0m1 0h0m3 0h0m20 0h0m7 0h0m4 0h0m1 0h0m16 0h0m39 0h0m18 0h0m6 0h0m4 0h0m4 0h0m1 0h0m1 0h0m-248 1h0m20 0h0m16 0h0m3 0h0m1 0h0m1 0h0m81 0h0m1 0h0m1 0h0m1 0h0m1 0h0m21 0h0m2 0h0m2 0h0m33 0h0m12 0h0m5 0h0m34 0h0m8 0h0m-246 1h0m23 0h0m1 0h0m14 0h0m1 0h0m1 0h0m2 0h0m1 0h0m13 0h0m63 0h0m1 0h0m7 0h0m1 0h0m22 0h0m2 0h0m22 0h0m5 0h0m3 0h0m38 0h0m1 0h0m-209 1h0m6 0h0m4 0h0m1 0h0m1 0h0m1 0h0m10 0h0m3 0h0m1 0h0m1 0h0m2 0h0m77 0h0m1 0h0m6 0h0m1 0h0m1 0h0m21 0h0m4 0h0m2 0h0m13 0h0m10 0h0m1 0h0m3 0h0m15 0h0m6 0h0m10 0h0m3 0h0m8 0h0m-213 1h0m1 0h0m1 0h0m1 0h0m1 0h0m21 0h0m3 0h0m1 0h0m1 0h0m1 0h0m111 0h0m1 0h0m2 0h0m22 0h0m2 0h0m2 0h0m11 0h0m8 0h0m4 0h0m1 0h0m1 0h0m12 0h0m3 0h0m-229 1h0m20 0h0m1 0h0m1 0h0m1 0h0m1 0h0m1 0h0m1 0h0m2 0h0m2 0h0m1 0h0m2 0h0m2 0h0m9 0h0m1 0h0m1 0h0m2 0h0m72 0h0m42 0h0m1 0h0m8 0h0m14 0h0m1 0h0m1 0h0m1 0h0m14 0h0m1 0h0m10 0h0m2 0h0m8 0h0m3 0h0m1 0h0m18 0h0m-224 1h0m1 0h0m3 0h0m20 0h0m2 0h0m26 0h0m45 0h0m24 0h0m13 0h0m3 0h0m3 0h0m1 0h0m8 0h0m13 0h0m1 0h0m1 0h0m1 0h0m1 0h0m1 0h0m1 0h0m1 0h0m14 0h0m8 0h0m2 0h0m11 0h0m2 0h0m16 0h0m-219 1h0m1 0h0m1 0h0m14 0h0m1 0h0m5 0h0m1 0h0m21 0h0m9 0h0m43 0h0m2 0h0m32 0h0m3 0h0m1 0h0m1 0h0m2 0h0m1 0h0m5 0h0m7 0h0m11 0h0m1 0h0m1 0h0m1 0h0m1 0h0m2 0h0m35 0h0m-203 1h0m1 0h0m1 0h0m6 0h0m1 0h0m17 0h0m21 0h0m51 0h0m12 0h0m5 0h0m9 0h0m12 0h0m1 0h0m1 0h0m2 0h0m16 0h0m5 0h0m1 0h0m1 0h0m1 0h0m1 0h0m12 0h0m11 0h0m15 0h0m1 0h0m1 0h0m1 0h0m-202 1h0m3 0h0m1 0h0m2 0h0m6 0h0m1 0h0m6 0h0m12 0h0m6 0h0m2 0h0m55 0h0m16 0h0m2 0h0m12 0h0m9 0h0m2 0h0m1 0h0m7 0h0m7 0h0m4 0h0m2 0h0m1 0h0m1 0h0m1 0h0m1 0h0m1 0h0m1 0h0m34 0h0m1 0h0m1 0h0m1 0h0m1 0h0m2 0h0m-197 1h0m8 0h0m7 0h0m16 0h0m6 0h0m61 0h0m5 0h0m1 0h0m10 0h0m1 0h0m11 0h0m1 0h0m1 0h0m15 0h0m8 0h0m2 0h0m2 0h0m2 0h0m11 0h0m26 0h0m4 0h0m-188 1h0m23 0h0m4 0h0m2 0h0m48 0h0m3 0h0m3 0h0m2 0h0m14 0h0m6 0h0m11 0h0m2 0h0m1 0h0m10 0h0m1 0h0m4 0h0m8 0h0m1 0h0m1 0h0m1 0h0m5 0h0m2 0h0m3 0h0m20 0h0m2 0h0m1 0h0m1 0h0m5 0h0m2 0h0m-196 1h0m3 0h0m11 0h0m11 0h0m15 0h0m55 0h0m3 0h0m17 0h0m2 0h0m3 0h0m14 0h0m6 0h0m2 0h0m8 0h0m1 0h0m3 0h0m5 0h0m3 0h0m4 0h0m19 0h0m6 0h0m1 0h0m2 0h0m-188 1h0m10 0h0m10 0h0m15 0h0m51 0h0m9 0h0m33 0h0m3 0h0m2 0h0m12 0h0m32 0h0m3 0h0m2 0h0m-189 1h0m10 0h0m3 0h0m13 0h0m4 0h0m3 0h0m62 0h0m1 0h0m5 0h0m21 0h0m10 0h0m2 0h0m1 0h0m2 0h0m1 0h0m1 0h0m1 0h0m3 0h0m6 0h0m4 0h0m32 0h0m3 0h0m2 0h0m1 0h0m1 0h0m-192 1h0m1 0h0m4 0h0m1 0h0m2 0h0m2 0h0m2 0h0m19 0h0m5 0h0m52 0h0m12 0h0m1 0h0m1 0h0m24 0h0m7 0h0m1 0h0m1 0h0m2 0h0m1 0h0m6 0h0m23 0h0m13 0h0m10 0h0m10 0h0m-200 1h0m1 0h0m1 0h0m3 0h0m2 0h0m2 0h0m2 0h0m1 0h0m3 0h0m1 0h0m1 0h0m14 0h0m2 0h0m83 0h0m4 0h0m4 0h0m4 0h0m5 0h0m4 0h0m4 0h0m2 0h0m13 0h0m25 0h0m-184 1h0m6 0h0m1 0h0m2 0h0m1 0h0m1 0h0m5 0h0m2 0h0m2 0h0m9 0h0m1 0h0m4 0h0m72 0h0m9 0h0m5 0h0m11 0h0m5 0h0m2 0h0m4 0h0m32 0h0m6 0h0m1 0h0m-177 1h0m2 0h0m4 0h0m8 0h0m2 0h0m1 0h0m2 0h0m1 0h0m11 0h0m83 0h0m18 0h0m4 0h0m5 0h0m2 0h0m1 0h0m1 0h0m3 0h0m1 0h0m4 0h0m3 0h0m1 0h0m30 0h0m2 0h0m-184 1h0m7 0h0m1 0h0m2 0h0m2 0h0m3 0h0m9 0h0m1 0h0m61 0h0m24 0h0m12 0h0m2 0h0m10 0h0m2 0h0m2 0h0m2 0h0m1 0h0m5 0h0m3 0h0m19 0h0m-175 1h0m4 0h0m2 0h0m12 0h0m1 0h0m1 0h0m2 0h0m9 0h0m57 0h0m1 0h0m3 0h0m38 0h0m14 0h0m2 0h0m1 0h0m6 0h0m3 0h0m20 0h0m1 0h0m3 0h0m16 0h0m-178 1h0m1 0h0m1 0h0m1 0h0m1 0h0m5 0h0m1 0h0m63 0h0m39 0h0m13 0h0m3 0h0m13 0h0m12 0h0m-167 1h0m5 0h0m8 0h0m1 0h0m2 0h0m2 0h0m4 0h0m99 0h0m4 0h0m6 0h0m9 0h0m8 0h0m3 0h0m18 0h0m-167 1h0m1 0h0m2 0h0m2 0h0m3 0h0m3 0h0m1 0h0m1 0h0m2 0h0m1 0h0m108 0h0m1 0h0m1 0h0m14 0h0m6 0h0m1 0h0m1 0h0m10 0h0m7 0h0m1 0h0m2 0h0m-168 1h0m3 0h0m1 0h0m2 0h0m6 0h0m129 0h0m7 0h0m18 0h0m11 0h0m-178 1h0m2 0h0m1 0h0m1 0h0m1 0h0m2 0h0m17 0h0m139 0h0m2 0h0m1 0h0m1 0h0m1 0h0m1 0h0m10 0h0m-179 1h0m5 0h0m1 0h0m1 0h0m100 0h0m37 0h0m4 0h0m1 0h0m3 0h0m9 0h0m5 0h0m2 0h0m1 0h0m-165 1h0m3 0h0m4 0h0m119 0h0m11 0h0m6 0h0m4 0h0m14 0h0m1 0h0m1 0h0m3 0h0m-164 1h0m5 0h0m136 0h0m4 0h0m2 0h0m13 0h0m1 0h0m-157 1h0m132 0h0m7 0h0m1 0h0m2 0h0m1 0h0m1 0h0m1 0h0m11 0h0m2 0h0m-161 1h0m2 0h0m1 0h0m1 0h0m139 0h0m1 0h0m1 0h0m-142 1h0m1 0h0m1 0h0m137 0h0m2 0h0m14 0h0m-156 1h0m3 0h0m2 0h0m2 0h0m103 0h0m29 0h0m1 0h0m1 0h0m1 0h0m11 0h0m-150 1h0m1 0h0m65 0h0m2 0h0m9 0h0m9 0h0m65 0h0m-145 1h0m58 0h0m1 0h0m4 0h0m1 0h0m1 0h0m4 0h0m1 0h0m4 0h0m2 0h0m2 0h0m1 0h0m3 0h0m11 0h0m11 0h0m2 0h0m39 0h0m-83 1h0m5 0h0m11 0h0m1 0h0m1 0h0m4 0h0m3 0h0m4 0h0m1 0h0m38 0h0m23 0h0m-149 1h0m60 0h0m13 0h0m1 0h0m1 0h0m2 0h0m1 0h0m9 0h0m2 0h0m15 0h0m20 0h0m-125 1h0m8 0h0m1 0h0m4 0h0m46 0h0m14 0h0m1 0h0m3 0h0m12 0h0m15 0h0m1 0h0m22 0h0m15 0h0m-140 1h0m2 0h0m4 0h0m1 0h0m1 0h0m1 0h0m5 0h0m2 0h0m58 0h0m1 0h0m2 0h0m2 0h0m8 0h0m11 0h0m1 0h0m61 0h0m-153 1h0m2 0h0m2 0h0m47 0h0m11 0h0m2 0h0m2 0h0m1 0h0m1 0h0m14 0h0m70 0h0m1 0h0m-153 1h0m1 0h0m1 0h0m3 0h0m46 0h0m4 0h0m10 0h0m1 0h0m1 0h0m2 0h0m1 0h0m3 0h0m1 0h0m17 0h0m2 0h0m55 0h0m-150 1h0m5 0h0m48 0h0m11 0h0m1 0h0m1 0h0m1 0h0m1 0h0m1 0h0m1 0h0m1 0h0m1 0h0m1 0h0m2 0h0m1 0h0m6 0h0m2 0h0m2 0h0m62 0h0m2 0h0m-147 1h0m2 0h0m1 0h0m1 0h0m60 0h0m2 0h0m2 0h0m2 0h0m1 0h0m5 0h0m1 0h0m1 0h0m53 0h0m4 0h0m10 0h0m-145 1h0m3 0h0m2 0h0m9 0h0m50 0h0m3 0h0m1 0h0m1 0h0m1 0h0m1 0h0m2 0h0m1 0h0m1 0h0m9 0h0m2 0h0m46 0h0m1 0h0m10 0h0m1 0h0m1 0h0m-150 1h0m9 0h0m2 0h0m4 0h0m55 0h0m3 0h0m2 0h0m3 0h0m1 0h0m60 0h0m8 0h0m4 0h0m-151 1h0m7 0h0m2 0h0m1 0h0m1 0h0m1 0h0m2 0h0m4 0h0m1 0h0m2 0h0m2 0h0m1 0h0m46 0h0m3 0h0m3 0h0m13 0h0m4 0h0m55 0h0m3 0h0m-144 1h0m3 0h0m1 0h0m2 0h0m4 0h0m3 0h0m2 0h0m49 0h0m1 0h0m4 0h0m5 0h0m3 0h0m63 0h0m16 0h0m5 0h0m1 0h0m-168 1h0m8 0h0m6 0h0m5 0h0m7 0h0m3 0h0m42 0h0m7 0h0m62 0h0m13 0h0m13 0h0m2 0h0m1 0h0m-158 1h0m2 0h0m1 0h0m1 0h0m1 0h0m1 0h0m53 0h0m2 0h0m3 0h0m7 0h0m84 0h0m-158 1h0m3 0h0m1 0h0m1 0h0m1 0h0m1 0h0m2 0h0m3 0h0m51 0h0m-72 1h0m11 0h0m1 0h0m2 0h0m1 0h0m2 0h0m10 0h0m47 0h0m12 0h0m83 0h0m2 0h0m-167 1h0m2 0h0m2 0h0m4 0h0m1 0h0m2 0h0m1 0h0m1 0h0m8 0h0m8 0h0m40 0h0m1 0h0m8 0h0m3 0h0m91 0h0m-169 1h0m2 0h0m1 0h0m1 0h0m4 0h0m5 0h0m53 0h0m10 0h0m1 0h0m-77 1h0m3 0h0m2 0h0m1 0h0m1 0h0m4 0h0m13 0h0m40 0h0m11 0h0m2 0h0m2 0h0m77 0h0m-157 1h0m2 0h0m1 0h0m2 0h0m1 0h0m1 0h0m1 0h0m2 0h0m5 0h0m58 0h0m4 0h0m1 0h0m1 0h0m1 0h0m6 0h0m7 0h0m64 0h0m2 0h0m-159 1h0m2 0h0m1 0h0m2 0h0m1 0h0m3 0h0m8 0h0m3 0h0m2 0h0m1 0h0m1 0h0m52 0h0m1 0h0m1 0h0m1 0h0m73 0h0m6 0h0m-153 1h0m2 0h0m3 0h0m1 0h0m8 0h0m4 0h0m48 0h0m1 0h0m7 0h0m13 0h0m72 0h0m1 0h0m1 0h0m-163 1h0m1 0h0m10 0h0m7 0h0m50 0h0m2 0h0m1 0h0m8 0h0m8 0h0m69 0h0m4 0h0m3 0h0m1 0h0m-165 1h0m2 0h0m1 0h0m1 0h0m6 0h0m2 0h0m1 0h0m2 0h0m1 0h0m1 0h0m49 0h0m6 0h0m3 0h0m12 0h0m1 0h0m1 0h0m1 0h0m65 0h0m6 0h0m5 0h0m-159 1h0m5 0h0m2 0h0m1 0h0m1 0h0m54 0h0m9 0h0m8 0h0m3 0h0m70 0h0m6 0h0m-161 1h0m4 0h0m1 0h0m3 0h0m55 0h0m2 0h0m18 0h0m56 0h0m16 0h0m-160 1h0m2 0h0m2 0h0m2 0h0m4 0h0m1 0h0m58 0h0m8 0h0m1 0h0m67 0h0m-143 1h0m1 0h0m1 0h0m6 0h0m1 0h0m5 0h0m51 0h0m3 0h0m100 0h0m-171 1h0m2 0h0m2 0h0m6 0h0m58 0h0m96 0h0m-165 1h0m4 0h0m2 0h0m1 0h0m64 0h0m3 0h0m1 0h0m2 0h0m68 0h0m15 0h0m6 0h0m4 0h0m1 0h0m1 0h0m1 0h0m-172 1h0m1 0h0m1 0h0m1 0h0m1 0h0m8 0h0m133 0h0m1 0h0m2 0h0m7 0h0m3 0h0m8 0h0m6 0h0m-172 1h0m1 0h0m67 0h0m3 0h0m4 0h0m1 0h0m67 0h0m1 0h0m1 0h0m2 0h0m1 0h0m18 0h0m3 0h0m2 0h0m-172 1h0m2 0h0m1 0h0m1 0h0m5 0h0m66 0h0m69 0h0m2 0h0m3 0h0m12 0h0m7 0h0m-167 1h0m1 0h0m1 0h0m1 0h0m2 0h0m6 0h0m150 0h0m1 0h0m1 0h0m7 0h0m-172 1h0m1 0h0m1 0h0m1 0h0m1 0h0m1 0h0m159 0h0m-164 1h0m1 0h0m1 0h0m1 0h0m1 0h0m4 0h0m156 0h0m27 0h0m-189 1h0m4 0h0m186 0h0m-192 1h0m4 0h0m0 1h0m186 0h0m-189 3h0m2 0h0m-2 1h0m0 1h0m2 0h0m-5 1h0m1 1h0m1 0h0m1 0h0m1 1h0m1 0h0" stroke="#fbd2a6"/><path d="M265.5 275.5h0m-2 2h0m-5 2h0m-217 1h0m141 0h0m75 0h0m1 0h0m-92 1h0m7 0h0m30 0h0m54 0h0m5 2h0m-7 1h0m11 0h0m-9 1h0m9 0h0m-163 1h0m1 0h0m155 0h0m-79 1h0m-121 1h0m102 0h0m-102 1h0m1 0h0m3 0h0m32 0h0m102 0h0m10 0h0m-149 1h0m40 0h0m2 1h0m63 1h0m72 0h0m-159 1h0m130 0h0m6 1h0m-135 1h0m71 2h0m36 1h0m-102 2h0m150 0h0m1 0h0m-76 1h0m4 0h0m70 0h0m-75 1h0m33 0h0m43 0h0m1 0h0m-82 1h0m87 0h0m-9 1h0m-147 1h0m157 0h0m-51 1h0m3 0h0m34 4h0m-40 2h0m41 0h0m-137 4h0m123 0h0m-31 1h0m-14 2h0m-1 1h0m3 3h0m75 0h0m-80 2h0m11 0h0m-77 1h0m72 0h0m3 1h0m-59 1h0m3 0h0m-17 1h0m13 4h0m59 0h0m5 0h0m-74 4h0m88 0h0m60 1h0m6 1h0m-11 1h0m-70 1h0m83 3h0m-148 1h0m-3 1h0m181 7h0m-191 8h0" stroke="#f9b79f"/><path d="M243.5 276.5h0m-1 1h0m-214 1h0m141 0h0m7 0h0m2 0h0m51 0h0m10 0h0m38 0h0m-191 1h0m189 0h0m2 0h0m1 0h0m6 0h0m5 0h0m-245 1h0m15 0h0m145 0h0m73 0h0m-249 1h0m6 0h0m48 0h0m3 0h0m82 0h0m2 0h0m2 0h0m33 0h0m28 0h0m3 0h0m1 0h0m40 0h0m-217 1h0m11 0h0m98 0h0m12 0h0m11 0h0m-153 1h0m21 0h0m1 0h0m1 0h0m4 0h0m7 0h0m87 0h0m12 0h0m1 0h0m5 0h0m51 0h0m1 0h0m7 0h0m38 0h0m-114 1h0m20 0h0m4 0h0m1 0h0m35 0h0m16 0h0m47 0h0m-223 1h0m171 0h0m25 0h0m-185 1h0m1 0h0m101 0h0m5 0h0m9 0h0m9 0h0m15 0h0m14 0h0m9 0h0m3 0h0m5 0h0m15 0h0m20 0h0m-211 1h0m3 0h0m33 0h0m1 0h0m3 0h0m81 0h0m17 0h0m2 0h0m3 0h0m6 0h0m35 0h0m-184 1h0m4 0h0m1 0h0m2 0h0m1 0h0m30 0h0m3 0h0m65 0h0m1 0h0m22 0h0m8 0h0m7 0h0m42 0h0m3 0h0m19 0h0m-212 1h0m43 0h0m65 0h0m1 0h0m40 0h0m1 0h0m2 0h0m10 0h0m25 0h0m6 0h0m-195 1h0m2 0h0m6 0h0m6 0h0m21 0h0m76 0h0m23 0h0m11 0h0m1 0h0m2 0h0m1 0h0m16 0h0m-168 1h0m7 0h0m5 0h0m20 0h0m12 0h0m3 0h0m47 0h0m13 0h0m6 0h0m37 0h0m4 0h0m18 0h0m18 0h0m2 0h0m2 0h0m1 0h0m2 0h0m-174 1h0m2 0h0m8 0h0m2 0h0m1 0h0m5 0h0m2 0h0m61 0h0m4 0h0m1 0h0m3 0h0m1 0h0m1 0h0m15 0h0m26 0h0m1 0h0m3 0h0m4 0h0m29 0h0m-178 1h0m21 0h0m6 0h0m66 0h0m1 0h0m1 0h0m2 0h0m18 0h0m24 0h0m2 0h0m2 0h0m1 0h0m10 0h0m3 0h0m22 0h0m-181 1h0m2 0h0m3 0h0m22 0h0m3 0h0m4 0h0m61 0h0m2 0h0m7 0h0m24 0h0m8 0h0m2 0h0m10 0h0m14 0h0m17 0h0m2 0h0m1 0h0m3 0h0m-181 1h0m26 0h0m75 0h0m11 0h0m22 0h0m12 0h0m30 0h0m2 0h0m-180 1h0m138 0h0m-111 1h0m51 0h0m1 0h0m4 0h0m1 0h0m85 0h0m-169 1h0m80 0h0m39 0h0m18 0h0m32 0h0m9 0h0m-186 1h0m88 0h0m2 0h0m1 0h0m34 0h0m55 0h0m-91 1h0m1 0h0m29 0h0m49 0h0m-148 1h0m6 0h0m1 0h0m66 0h0m57 0h0m3 0h0m11 0h0m-152 1h0m15 0h0m2 0h0m60 0h0m1 0h0m4 0h0m26 0h0m38 0h0m39 0h0m-195 1h0m22 0h0m4 0h0m1 0h0m1 0h0m59 0h0m2 0h0m1 0h0m1 0h0m1 0h0m28 0h0m5 0h0m1 0h0m23 0h0m14 0h0m6 0h0m21 0h0m-170 1h0m2 0h0m2 0h0m2 0h0m63 0h0m6 0h0m1 0h0m31 0h0m11 0h0m9 0h0m21 0h0m3 0h0m-151 1h0m1 0h0m1 0h0m4 0h0m99 0h0m38 0h0m3 0h0m14 0h0m-172 1h0m2 0h0m3 0h0m130 0h0m7 0h0m12 0h0m1 0h0m1 0h0m1 0h0m2 0h0m1 0h0m2 0h0m11 0h0m1 0h0m-168 1h0m94 0h0m17 0h0m38 0h0m1 0h0m-44 1h0m37 0h0m10 0h0m2 0h0m-24 1h0m7 0h0m11 0h0m8 0h0m-167 1h0m140 0h0m3 0h0m23 0h0m1 0h0m1 0h0m-45 1h0m1 0h0m43 0h0m1 0h0m1 0h0m-2 1h0m-42 1h0m4 0h0m-118 1h0m62 0h0m52 0h0m53 0h0m1 0h0m-166 1h0m4 0h0m151 0h0m-151 1h0m2 0h0m59 0h0m4 0h0m32 0h0m-96 1h0m62 0h0m2 0h0m85 0h0m-148 1h0m60 0h0m6 0h0m26 0h0m54 0h0m3 0h0m-147 1h0m12 0h0m46 0h0m3 0h0m29 0h0m-32 1h0m2 0h0m40 0h0m41 0h0m-126 1h0m44 0h0m1 0h0m1 0h0m3 0h0m6 0h0m20 0h0m11 0h0m1 0h0m59 0h0m-155 1h0m5 0h0m2 0h0m46 0h0m6 0h0m5 0h0m1 0h0m21 0h0m-83 1h0m12 0h0m-12 1h0m12 0h0m1 0h0m69 0h0m3 0h0m2 0h0m3 0h0m56 0h0m-148 1h0m3 0h0m76 0h0m7 0h0m3 0h0m53 0h0m6 0h0m-144 1h0m13 0h0m60 0h0m1 0h0m4 0h0m8 0h0m46 0h0m-125 1h0m56 0h0m8 0h0m5 0h0m55 0h0m11 0h0m13 0h0m-154 1h0m10 0h0m64 0h0m71 0h0m-136 1h0m63 0h0m1 0h0m58 0h0m15 0h0m10 0h0m-146 1h0m1 0h0m1 0h0m12 0h0m47 0h0m4 0h0m-84 1h0m19 0h0m1 0h0m6 0h0m3 0h0m44 0h0m9 0h0m2 0h0m90 0h0m-156 1h0m2 0h0m3 0h0m49 0h0m1 0h0m5 0h0m-73 1h0m13 0h0m62 0h0m-74 1h0m8 0h0m11 0h0m3 0h0m48 0h0m2 0h0m5 1h0m5 0h0m-83 1h0m10 0h0m8 0h0m3 0h0m1 0h0m2 0h0m42 0h0m4 0h0m2 0h0m10 0h0m-10 1h0m3 0h0m-65 1h0m56 0h0m12 0h0m16 0h0m-82 1h0m4 0h0m50 0h0m15 0h0m1 0h0m10 0h0m-79 2h0m1 0h0m6 0h0m128 0h0m-133 1h0m4 0h0m1 0h0m47 0h0m10 0h0m68 0h0m-133 1h0m5 0h0m2 0h0m130 0h0m-141 1h0m2 0h0m1 0h0m4 0h0m63 0h0m1 0h0m1 0h0m64 0h0m-141 1h0m5 0h0m2 0h0m1 0h0m5 0h0m56 0h0m73 0h0m2 0h0m-138 1h0m3 0h0m133 0h0m-138 1h0m1 0h0m151 0h0m11 0h0m-160 1h0m3 0h0m61 0h0m-60 1h0m57 0h0m1 0h0m2 0h0m90 0h0m-158 2h0m-2 2h0m1 0h0m188 0h0m-194 4h0m6 0h0m-3 3h0m-1 1h0m1 0h0m1 1h0m-2 1h0m1 1h0" stroke="#f4f7c0"/><path d="M245.5 276.5h0m6 0h0m-179 1h0m171 0h0m6 0h0m1 0h0m12 0h0m-231 1h0m2 0h0m212 0h0m1 0h0m5 0h0m12 0h0m-233 1h0m174 0h0m2 0h0m37 0h0m2 0h0m2 0h0m1 0h0m1 0h0m1 0h0m1 0h0m1 0h0m8 0h0m2 0h0m-230 1h0m48 0h0m125 0h0m7 0h0m33 0h0m1 0h0m1 0h0m3 0h0m22 0h0m-193 1h0m130 0h0m3 0h0m5 0h0m1 0h0m28 0h0m1 0h0m2 0h0m3 0h0m8 0h0m3 0h0m3 0h0m3 0h0m-240 1h0m1 0h0m22 0h0m23 0h0m132 0h0m4 0h0m3 0h0m4 0h0m1 0h0m25 0h0m2 0h0m1 0h0m1 0h0m1 0h0m9 0h0m4 0h0m4 0h0m2 0h0m-241 1h0m3 0h0m21 0h0m1 0h0m1 0h0m24 0h0m129 0h0m4 0h0m34 0h0m1 0h0m1 0h0m1 0h0m12 0h0m4 0h0m1 0h0m-234 1h0m22 0h0m19 0h0m171 0h0m2 0h0m1 0h0m1 0h0m1 0h0m1 0h0m2 0h0m7 0h0m4 0h0m6 0h0m-215 1h0m23 0h0m1 0h0m19 0h0m113 0h0m35 0h0m2 0h0m1 0h0m19 0h0m2 0h0m-190 1h0m24 0h0m4 0h0m142 0h0m-164 1h0m2 0h0m13 0h0m143 0h0m3 0h0m2 0h0m-162 1h0m2 0h0m1 0h0m1 0h0m9 0h0m2 0h0m146 0h0m-158 1h0m1 0h0m1 0h0m-5 1h0m3 0h0m1 0h0m13 0h0m135 0h0m2 0h0m-178 1h0m25 0h0m2 0h0m15 0h0m4 0h0m129 0h0m5 0h0m-156 1h0m4 0h0m151 0h0m-3 1h0m5 0h0m-181 1h0m1 0h0m1 0h0m182 0h0m3 0h0m-187 1h0m15 1h0m-7 3h0m6 0h0m-7 1h0m1 0h0m1 0h0m2 0h0m2 0h0m1 0h0m-9 1h0m2 0h0m1 0h0m2 0h0m1 0h0m2 0h0m1 0h0m-5 1h0m1 0h0m1 0h0m2 0h0m1 0h0m5 0h0m-9 1h0m3 0h0m1 0h0m-7 1h0m2 0h0m4 0h0m-3 1h0m-1 1h0m1 0h0m0 2h0m73 7h0m1 0h0m13 0h0m-15 1h0m4 0h0m11 0h0m-16 1h0m1 0h0m1 0h0m1 0h0m4 0h0m7 0h0m1 0h0m1 0h0m1 0h0m3 0h0m-19 1h0m1 0h0m1 0h0m1 0h0m1 0h0m7 0h0m2 0h0m1 0h0m2 0h0m2 0h0m1 0h0m4 0h0m9 0h0m-30 1h0m10 0h0m1 0h0m1 0h0m1 0h0m1 0h0m1 0h0m4 0h0m10 0h0m2 0h0m-20 1h0m1 0h0m1 0h0m3 0h0m1 0h0m1 0h0m1 0h0m5 0h0m4 0h0m2 0h0m1 0h0m1 0h0m2 0h0m-21 1h0m1 0h0m4 0h0m5 0h0m2 0h0m1 0h0m1 0h0m1 0h0m1 0h0m1 0h0m2 0h0m1 0h0m-19 1h0m10 0h0m1 0h0m3 0h0m1 0h0m1 0h0m1 0h0m1 0h0m1 0h0m1 0h0m1 0h0m-7 1h0m1 0h0m3 0h0m2 0h0m-8 1h0m1 0h0m1 0h0m-2 1h0m4 0h0m-1 1h0m4 3h0m-5 9h0m1 0h0m4 0h0m-2 1h0m-3 1h0m92 0h0m1 0h0m-93 1h0m1 0h0m1 0h0m-2 1h0m1 0h0m1 0h0m2 0h0m87 0h0m1 0h0m-91 1h0m1 0h0m1 0h0m88 0h0m-90 1h0m89 1h0m3 0h0m3 0h0m3 0h0m-9 1h0m1 0h0m1 0h0m3 0h0m-90 1h0" stroke="#fabb7b"/><path d="M75.5 277.5h0m150 0h0m22 0h0m19 0h0m-194 1h0m1 0h0m1 0h0m146 0h0m30 0h0m19 0h0m-240 1h0m42 0h0m1 0h0m1 0h0m136 0h0m7 0h0m2 0h0m1 0h0m1 0h0m1 0h0m2 0h0m1 0h0m45 0h0m-241 1h0m39 0h0m1 0h0m1 0h0m1 0h0m1 0h0m1 0h0m1 0h0m1 0h0m1 0h0m1 0h0m141 0h0m1 0h0m1 0h0m1 0h0m1 0h0m1 0h0m1 0h0m26 0h0m-186 1h0m2 0h0m1 0h0m3 0h0m1 0h0m2 0h0m1 0h0m1 0h0m1 0h0m125 0h0m1 0h0m1 0h0m3 0h0m1 0h0m1 0h0m7 0h0m5 0h0m1 0h0m1 0h0m1 0h0m1 0h0m32 0h0m22 0h0m-209 1h0m3 0h0m1 0h0m1 0h0m1 0h0m130 0h0m16 0h0m1 0h0m1 0h0m21 0h0m-177 1h0m2 0h0m147 0h0m4 0h0m1 0h0m-150 1h0m132 0h0m20 0h0m21 0h0m26 0h0m3 0h0m-243 1h0m42 0h0m166 0h0m7 0h0m3 0h0m-146 2h0m4 0h0m133 0h0m1 0h0m3 0h0m6 0h0m-146 1h0m135 0h0m1 0h0m2 0h0m1 0h0m2 0h0m-8 1h0m1 0h0m1 0h0m2 0h0m2 0h0m1 0h0m2 0h0m1 0h0m-5 1h0m2 0h0m2 0h0m3 0h0m-13 1h0m2 0h0m3 0h0m2 0h0m1 0h0m1 0h0m-182 1h0m172 0h0m4 0h0m1 0h0m2 0h0m1 0h0m1 0h0m1 0h0m-185 1h0m2 0h0m180 0h0m-5 1h0m5 0h0m-174 3h0m8 7h0m-9 1h0m96 10h0m-10 3h0m-1 1h0m8 1h0m16 17h0m6 0h0m-5 1h0m0 2h0m2 0h0m-9 1h0m9 0h0m89 2h0m-96 1h0m99 0h0m-91 1h0" stroke="#a8cf90"/><path d="M244.5 277.5h0m2 0h0m2 0h0m10 0h0m-14 1h0m21 0h0m-210 1h0m189 0h0m2 0h0m-215 1h0m46 0h0m126 0h0m45 0h0m-196 1h0m1 0h0m2 0h0m21 0h0m2 0h0m172 0h0m-195 1h0m21 0h0m1 0h0m126 0h0m9 0h0m30 0h0m-214 1h0m28 0h0m13 0h0m2 0h0m2 0h0m144 0h0m32 0h0m1 0h0m-219 1h0m16 0h0m29 0h0m132 0h0m55 0h0m1 0h0m1 0h0m-26 1h0m9 0h0m1 0h0m1 0h0m-168 1h0m156 0h0m-168 1h0m12 0h0m13 0h0m142 0h0m-154 1h0m2 1h0m17 0h0m135 1h0m-151 2h0m-27 1h0m180 0h0m3 1h0m-183 1h0m10 1h0m-3 2h0m12 5h0m-2 3h0m83 9h0m-14 1h0m14 1h0m17 2h0m-20 2h0m19 7h0m-7 11h0m1 0h0m5 0h0m0 1h0m5 1h0m85 0h0m-92 2h0m93 1h0m-93 1h0m2 0h0m92 0h0m-98 2h0m99 1h0" stroke="#fce286"/><path d="M270.5 277.5h0m-241 1h0m1 0h0m4 0h0m1 1h0m44 1h0m190 0h0m6 0h0m-204 1h0m9 0h0m-51 2h0m2 0h0m45 0h0m135 0h0m43 0h0m-227 1h0m3 1h0m42 0h0m197 0h0m-19 1h0m-154 2h0m-13 1h0m21 0h0m136 0h0m-160 1h0m19 0h0m146 1h0m-168 6h0m-5 5h0m-1 1h0m1 0h0m3 0h0m-3 1h0m4 0h0m65 11h0m1 0h0m-1 1h0m17 0h0m12 0h0m-10 1h0m-7 2h0m7 0h0m18 2h0m-3 6h0m-5 15h0m7 0h0m0 3h0m90 0h0m-1 1h0m4 1h0" stroke="#eef4a1"/><path d="M247.5 278.5h0m1 0h0m1 0h0m16 3h0m0 1h0m-17 1h0m-219 1h0m67 1h0m2 1h0m1 0h0m0 1h0m-13 2h0" stroke="#f8a855"/><path d="M266.5 278.5h0m5 0h0m-6 1h0m-5 1h0m5 0h0m3 0h0m-9 2h0m2 0h0m6 0h0m-1 1h0m-172 1h0m0 1h0m0 1h0m1 0h0m1 0h0m0 1h0m1 0h0m3 0h0m-2 1h0m-1 1h0m2 0h0m-2 1h0m-25 6h0m87 22h0m28 3h0" stroke="#f69470"/><path d="M178.5 279.5h0m57 0h0m-171 5h0m2 1h0m2 4h0m155 2h0m30 0h0m-28 3h0m-5 1h0m8 0h0m-22 5h0m-111 1h0m-19 1h0m134 0h0m7 0h0m-138 1h0m-1 2h0m162 0h0m4 0h0m-176 4h0m162 0h0m-85 8h0m-45 2h0m82 4h0m5 0h0m1 1h0m-3 1h0m2 0h0m-25 3h0m-64 1h0m-3 1h0m9 0h0m60 1h0m-63 1h0m19 5h0m169 17h0m-189 4h0" stroke="#bcdbdf"/><path d="M264.5 279.5h0m2 0h0m1 0h0m0 2h0m1 0h0m-3 2h0m-168 3h0" stroke="#f47647"/><path d="M280.5 279.5h0m12 1h0m-132 3h0m36 1h0m-26 4h0m88 0h0m-197 2h0m5 0h0m190 2h0m3 2h0m-17 1h0m-80 1h0m42 0h0m-107 1h0m-14 7h0m9 0h0m154 1h0m-15 1h0m-2 3h0m2 5h0m-124 15h0m3 0h0m5 1h0m137 6h0m-145 1h0m71 2h0" stroke="#9fcbe8"/><path d="M168.5 280.5h0m-127 1h0m20 0h0m118 1h0m-16 1h0m29 0h0m78 2h0m-81 3h0m-108 6h0m20 26h0m11 17h0" stroke="#f39599"/><path d="M266.5 280.5h0m-2 1h0m-25 9h0" stroke="#8fc271"/><path d="M267.5 280.5h0m-18 4h0" stroke="#fcd963"/><path d="M268.5 283.5h0m-64 1h0m39 5h0m-1 4h0m1 0h0" stroke="#ed6267"/><path d="M61.5 286.5h0m24 2h0m90 33h0m4 19h0" stroke="#9bc9cf"/><path d="M89.5 269.5h0m3 0h0m2 0h0m-12 1h0m5 0h0m1 0h0m6 0h0m135 0h0m1 0h0m-147 1h0m1 0h0m80 0h0m4 0h0m6 0h0m1 0h0m54 0h0m-150 1h0m1 0h0m15 0h0m68 0h0m3 0h0m61 0h0m1 0h0m2 0h0m-155 1h0m17 0h0m110 0h0m4 0h0m29 0h0m2 0h0m-163 1h0m5 0h0m3 0h0m7 0h0m2 0h0m130 0h0m3 0h0m5 0h0m9 0h0m1 0h0m21 0h0m3 0h0m-199 1h0m1 0h0m25 0h0m2 0h0m129 0h0m3 0h0m2 0h0m-168 1h0m14 0h0m6 0h0m2 0h0m2 0h0m3 0h0m8 0h0m3 0h0m100 0h0m14 0h0m4 0h0m1 0h0m2 0h0m36 0h0m11 0h0m-229 1h0m34 0h0m9 0h0m3 0h0m6 0h0m9 0h0m81 0h0m18 0h0m2 0h0m9 0h0m48 0h0m1 0h0m1 0h0m13 0h0m6 0h0m1 0h0m16 0h0m-260 1h0m5 0h0m8 0h0m11 0h0m9 0h0m29 0h0m77 0h0m31 0h0m1 0h0m2 0h0m50 0h0m19 0h0m10 0h0m7 0h0m-276 1h0m3 0h0m57 0h0m2 0h0m3 0h0m10 0h0m6 0h0m69 0h0m2 0h0m22 0h0m5 0h0m4 0h0m12 0h0m76 0h0m2 0h0m-271 1h0m45 0h0m4 0h0m129 0h0m98 0h0m-278 1h0m2 0h0m75 0h0m2 0h0m69 0h0m19 0h0m1 0h0m4 0h0m105 0h0m-201 1h0m4 0h0m1 0h0m64 0h0m2 0h0m20 0h0m2 0h0m2 0h0m-91 1h0m1 0h0m195 0h0m-208 1h0m13 0h0m180 0h0m-239 1h0m6 0h0m2 0h0m1 0h0m2 0h0m-13 1h0m1 0h0m12 0h0m1 0h0m57 0h0m-55 1h0m1 1h0m2 1h0m0 1h0m4 4h0m44 64h0m0 1h0m1 0h0m-6 4h0m4 1h0m1 0h0m1 0h0" stroke="#c4c4c4"/><path d="M97.5 269.5h0m2 0h0m14 0h0m7 0h0m2 0h0m7 0h0m4 0h0m5 0h0m-41 1h0m3 0h0m1 0h0m2 0h0m1 0h0m1 0h0m1 0h0m1 0h0m2 0h0m2 0h0m1 0h0m1 0h0m3 0h0m1 0h0m3 0h0m2 0h0m11 0h0m11 0h0m-47 1h0m3 0h0m40 0h0m2 0h0m-43 1h0m41 0h0m-41 1h0m1 0h0m5 0h0m1 0h0m1 0h0m32 0h0m-37 1h0m4 0h0m1 0h0m32 0h0m-29 1h0m1 1h0m27 0h0m-40 1h0m1 0h0m13 0h0m24 0h0m0 1h0m-39 1h0m7 0h0m10 0h0m13 0h0m-30 1h0m9 0h0m19 0h0m1 0h0m1 0h0m1 0h0m9 0h0m6 0h0m-38 1h0m8 0h0m1 0h0m21 0h0m1 0h0m1 0h0m4 0h0m-44 1h0m1 0h0m2 0h0m1 0h0m3 0h0m1 0h0m19 0h0m13 0h0m1 0h0m1 0h0m1 0h0m2 0h0m-45 1h0m2 0h0m5 0h0m12 0h0m-19 1h0m1 0h0m1 0h0m17 0h0m3 0h0m-15 1h0m15 0h0m1 0h0" stroke="#b4b4b4"/></g>
<rect x="15.65" y="260.10" width="282.25" height="112.00" fill="none" stroke="#3a3a3a" stroke-width="1.25"/>
<text transform="translate(10.15,278.40) scale(1.2,1) rotate(-90)" class="h" font-size="7.0" font-weight="bold" text-anchor="middle" textLength="14.40" lengthAdjust="spacingAndGlyphs">70<tspan font-size="5.6" dy="-0.6">°</tspan><tspan dy="0.6">N</tspan></text>
<text transform="translate(10.15,305.94) scale(1.2,1) rotate(-90)" class="h" font-size="7.0" font-weight="bold" text-anchor="middle" textLength="14.40" lengthAdjust="spacingAndGlyphs">30<tspan font-size="5.6" dy="-0.6">°</tspan><tspan dy="0.6">N</tspan></text>
<text transform="translate(10.15,333.49) scale(1.2,1) rotate(-90)" class="h" font-size="7.0" font-weight="bold" text-anchor="middle" textLength="14.40" lengthAdjust="spacingAndGlyphs">10<tspan font-size="5.6" dy="-0.6">°</tspan><tspan dy="0.6">S</tspan></text>
<text transform="translate(10.15,361.03) scale(1.2,1) rotate(-90)" class="h" font-size="7.0" font-weight="bold" text-anchor="middle" textLength="14.40" lengthAdjust="spacingAndGlyphs">50<tspan font-size="5.6" dy="-0.6">°</tspan><tspan dy="0.6">S</tspan></text>
<path d="M12.75 278.40H15.65M12.75 305.94H15.65M12.75 333.49H15.65M12.75 361.03H15.65M12.75 264.63H15.65" stroke="#3a3a3a" stroke-width="1.1" fill="none"/>
<text x="15.70" y="381.30" font-size="7.0" font-weight="bold" text-anchor="middle" textLength="15.20" lengthAdjust="spacingAndGlyphs">180<tspan font-size="5.6" dy="-0.6">°</tspan><tspan dy="0.6"></tspan></text>
<text x="46.53" y="381.30" font-size="7.0" font-weight="bold" text-anchor="middle" textLength="22.14" lengthAdjust="spacingAndGlyphs">140<tspan font-size="5.6" dy="-0.6">°</tspan><tspan dy="0.6">W</tspan></text>
<text x="77.36" y="381.30" font-size="7.0" font-weight="bold" text-anchor="middle" textLength="22.14" lengthAdjust="spacingAndGlyphs">100<tspan font-size="5.6" dy="-0.6">°</tspan><tspan dy="0.6">W</tspan></text>
<text x="108.20" y="381.30" font-size="7.0" font-weight="bold" text-anchor="middle" textLength="18.05" lengthAdjust="spacingAndGlyphs">60<tspan font-size="5.6" dy="-0.6">°</tspan><tspan dy="0.6">W</tspan></text>
<text x="139.03" y="381.30" font-size="7.0" font-weight="bold" text-anchor="middle" textLength="18.05" lengthAdjust="spacingAndGlyphs">20<tspan font-size="5.6" dy="-0.6">°</tspan><tspan dy="0.6">W</tspan></text>
<text x="169.86" y="381.30" font-size="7.0" font-weight="bold" text-anchor="middle" textLength="16.02" lengthAdjust="spacingAndGlyphs">20<tspan font-size="5.6" dy="-0.6">°</tspan><tspan dy="0.6">E</tspan></text>
<text x="200.69" y="381.30" font-size="7.0" font-weight="bold" text-anchor="middle" textLength="16.02" lengthAdjust="spacingAndGlyphs">60<tspan font-size="5.6" dy="-0.6">°</tspan><tspan dy="0.6">E</tspan></text>
<text x="231.52" y="381.30" font-size="7.0" font-weight="bold" text-anchor="middle" textLength="20.10" lengthAdjust="spacingAndGlyphs">100<tspan font-size="5.6" dy="-0.6">°</tspan><tspan dy="0.6">E</tspan></text>
<text x="262.36" y="381.30" font-size="7.0" font-weight="bold" text-anchor="middle" textLength="20.10" lengthAdjust="spacingAndGlyphs">140<tspan font-size="5.6" dy="-0.6">°</tspan><tspan dy="0.6">E</tspan></text>
<text x="293.19" y="381.30" font-size="7.0" font-weight="bold" text-anchor="middle" textLength="15.20" lengthAdjust="spacingAndGlyphs">180<tspan font-size="5.6" dy="-0.6">°</tspan><tspan dy="0.6"></tspan></text>
<path d="M15.70 372.10V374.70M46.53 372.10V374.70M77.36 372.10V374.70M108.20 372.10V374.70M139.03 372.10V374.70M169.86 372.10V374.70M200.69 372.10V374.70M231.52 372.10V374.70M262.36 372.10V374.70M293.19 372.10V374.70" stroke="#3a3a3a" stroke-width="1" fill="none"/>
<text x="24.05" y="271.70" font-size="9.6" font-weight="bold" textLength="11.90" lengthAdjust="spacingAndGlyphs">(e)</text>
<path d="M287.50 266.30L282.80 278.20L287.50 274.50Z" fill="#111"/>
<path d="M287.50 266.30L292.20 278.20L287.50 274.50Z" fill="#fff" stroke="#111" stroke-width="0.75" stroke-linejoin="round"/>
<text x="286.80" y="263.85" font-size="5.0" font-weight="bold" text-anchor="middle">N</text>
<rect x="151.80" y="364.20" width="69.40" height="2.9" fill="#000"/>
<rect x="169.70" y="364.65" width="16.5" height="2.0" fill="#f4f4f4" stroke="#9a9a9a" stroke-width="0.5"/>
<text x="151.90" y="361.60" class="l" font-size="5.0" text-anchor="middle" fill="#222">0</text>
<text x="169.20" y="361.60" class="l" font-size="5.0" text-anchor="middle" textLength="15.00" lengthAdjust="spacingAndGlyphs" fill="#222">2,500</text>
<text x="186.30" y="361.60" class="l" font-size="5.0" text-anchor="middle" textLength="14.10" lengthAdjust="spacingAndGlyphs" fill="#222">5,000</text>
<text x="220.20" y="361.60" class="l" font-size="5.0" text-anchor="middle" textLength="18.00" lengthAdjust="spacingAndGlyphs" fill="#222">10,000</text>
<text x="222.70" y="367.35" class="l" font-size="5.3" font-weight="bold" textLength="30.20" lengthAdjust="spacingAndGlyphs" fill="#111">Kilometers</text>
<text x="24.70" y="340.70" font-size="7.5" font-weight="bold" font-style="italic" textLength="41.80" lengthAdjust="spacingAndGlyphs">P: 16.02%</text>
<text x="24.70" y="349.70" font-size="7.5" font-weight="bold" font-style="italic" textLength="42.50" lengthAdjust="spacingAndGlyphs">N: 10.55%</text>
<text x="24.70" y="358.70" font-size="7.5" font-weight="bold" font-style="italic" textLength="33.30" lengthAdjust="spacingAndGlyphs">p &lt; 0.05</text>
<g stroke-width="1.25" stroke-linecap="round" fill="none"><path d="M463.5 272.5h0m52 5h0m-10 1h0m42 0h0m-162 1h0m111 0h0m-181 1h0m65 0h0m115 0h0m9 0h0m12 0h0m27 0h0m-228 1h0m191 0h0m17 0h0m4 0h0m23 0h0m15 0h0m23 0h0m-259 1h0m25 0h0m124 0h0m38 0h0m7 1h0m3 0h0m14 0h0m11 0h0m35 0h0m-235 1h0m24 0h0m121 0h0m25 0h0m25 0h0m5 0h0m-218 1h0m59 0h0m138 0h0m-172 1h0m1 0h0m15 0h0m98 0h0m29 0h0m8 0h0m-145 1h0m9 0h0m1 0h0m95 0h0m24 0h0m46 0h0m18 0h0m-197 1h0m9 0h0m99 0h0m49 0h0m-164 1h0m14 0h0m35 0h0m127 0h0m19 0h0m-192 1h0m41 0h0m3 0h0m145 0h0m17 0h0m-204 1h0m2 0h0m3 0h0m1 0h0m3 0h0m31 0h0m1 0h0m1 0h0m-43 1h0m1 0h0m3 0h0m27 0h0m170 0h0m-200 1h0m43 0h0m64 0h0m39 0h0m14 0h0m2 0h0m1 0h0m-163 1h0m32 0h0m116 0h0m-149 1h0m31 0h0m1 0h0m-13 1h0m17 0h0m-16 1h0m6 1h0m12 0h0m110 0h0m2 0h0m41 0h0m-176 1h0m4 0h0m1 0h0m1 0h0m-20 2h0m23 0h0m142 0h0m1 0h0m17 0h0m-93 1h0m40 0h0m31 0h0m3 0h0m-146 1h0m156 0h0m-81 1h0m77 1h0m3 0h0m4 0h0m-171 1h0m4 0h0m134 1h0m12 0h0m9 0h0m-151 1h0m172 0h0m-173 1h0m151 0h0m5 0h0m-4 1h0m2 0h0m2 1h0m-155 1h0m141 0h0m20 0h0m-160 1h0m9 0h0m130 2h0m-127 1h0m56 0h0m19 0h0m14 0h0m-34 1h0m4 0h0m15 0h0m75 1h0m-67 2h0m0 2h0m16 0h0m-77 1h0m83 0h0m38 0h0m-127 1h0m85 0h0m2 0h0m53 0h0m3 0h0m-144 1h0m66 0h0m-56 1h0m67 0h0m-2 1h0m66 0h0m-64 1h0m-80 1h0m79 0h0m56 0h0m15 0h0m-156 1h0m2 0h0m1 0h0m1 0h0m4 0h0m78 0h0m1 0h0m83 0h0m-152 1h0m151 0h0m-167 1h0m5 0h0m166 0h0m-81 1h0m-86 2h0m83 0h0m-65 1h0m74 3h0m-84 1h0m84 1h0m77 0h0m-160 1h0m73 0h0m-76 3h0m8 0h0m62 2h0m86 1h0m10 0h0m-165 3h0m1 1h0m156 0h0m-156 1h0m180 2h0m1 1h0m-189 2h0m0 1h0m-2 1h0" stroke="#91c0e2"/><path d="M467.5 272.5h0m-93 2h0m16 1h0m146 0h0m-31 2h0m18 0h0m15 0h0m-62 1h0m65 0h0m3 0h0m8 0h0m-227 1h0m24 0h0m118 0h0m12 0h0m48 0h0m14 0h0m2 0h0m3 0h0m27 0h0m-222 1h0m1 0h0m5 0h0m4 0h0m104 0h0m10 0h0m14 0h0m12 0h0m2 0h0m69 0h0m13 0h0m2 0h0m-244 1h0m9 0h0m13 0h0m20 0h0m105 0h0m14 0h0m4 0h0m36 0h0m28 0h0m-83 1h0m6 0h0m3 0h0m20 0h0m58 0h0m9 0h0m2 0h0m2 0h0m-259 1h0m160 0h0m5 0h0m3 0h0m31 0h0m16 0h0m31 0h0m4 0h0m-118 1h0m8 0h0m16 0h0m8 0h0m4 0h0m31 0h0m39 0h0m12 0h0m2 0h0m2 0h0m-252 1h0m163 0h0m56 0h0m1 0h0m11 0h0m-161 1h0m55 0h0m29 0h0m5 0h0m59 0h0m1 0h0m2 0h0m-224 1h0m244 0h0m-67 1h0m52 0h0m16 0h0m-202 1h0m22 0h0m84 0h0m58 0h0m16 0h0m1 0h0m1 0h0m-199 1h0m120 0h0m26 0h0m45 0h0m2 0h0m5 0h0m-164 1h0m6 0h0m62 0h0m21 0h0m1 0h0m2 0h0m19 0h0m1 0h0m8 0h0m18 0h0m9 0h0m12 0h0m-175 1h0m9 0h0m12 0h0m59 0h0m1 0h0m2 0h0m3 0h0m4 0h0m3 0h0m38 0h0m3 0h0m1 0h0m38 0h0m-182 1h0m28 0h0m1 0h0m1 0h0m1 0h0m60 0h0m3 0h0m8 0h0m11 0h0m65 0h0m-180 1h0m94 0h0m2 0h0m42 0h0m1 0h0m30 0h0m24 0h0m-165 1h0m76 0h0m30 0h0m31 0h0m-164 1h0m9 0h0m80 0h0m-63 1h0m8 0h0m113 0h0m-141 1h0m23 0h0m53 0h0m48 0h0m48 0h0m9 0h0m-105 1h0m4 0h0m66 0h0m-150 1h0m83 0h0m29 0h0m46 0h0m16 0h0m-169 1h0m167 0h0m-163 1h0m11 0h0m130 0h0m21 0h0m-165 1h0m15 0h0m93 0h0m74 0h0m-169 1h0m103 0h0m1 0h0m45 0h0m4 0h0m5 0h0m2 0h0m-160 1h0m146 0h0m0 1h0m14 0h0m-51 1h0m35 0h0m-5 1h0m1 0h0m5 0h0m-51 1h0m31 0h0m1 0h0m20 0h0m2 0h0m2 0h0m-38 1h0m31 0h0m-18 2h0m18 0h0m-47 2h0m-93 3h0m73 0h0m17 0h0m53 0h0m-56 1h0m60 1h0m-135 1h0m49 0h0m25 0h0m-77 1h0m78 0h0m9 0h0m64 0h0m-77 1h0m2 0h0m-62 1h0m66 0h0m2 0h0m65 0h0m-66 1h0m0 1h0m-64 1h0m72 0h0m-92 1h0m6 0h0m10 0h0m72 0h0m-6 1h0m-72 1h0m59 0h0m12 0h0m3 0h0m3 0h0m-73 1h0m12 0h0m51 0h0m-52 2h0m53 0h0m5 0h0m6 0h0m-88 1h0m11 0h0m14 0h0m-21 1h0m80 0h0m84 0h0m-9 1h0m1 1h0m-159 1h0m19 0h0m1 0h0m2 0h0m45 0h0m-46 1h0m4 0h0m-8 1h0m5 0h0m1 0h0m45 0h0m2 0h0m-47 1h0m-5 1h0m2 0h0m4 0h0m124 0h0m6 0h0m7 0h0m-144 1h0m58 0h0m-70 1h0m1 0h0m2 0h0m3 0h0m5 0h0m58 0h0m-68 1h0m141 0h0m-71 1h0m1 0h0m-66 1h0m1 0h0m62 0h0m2 0h0m4 0h0m-76 1h0m67 0h0m1 0h0m4 0h0m2 0h0m70 0h0m10 0h0m12 0h0m-157 1h0m66 0h0m-2 1h0m89 1h0m3 0h0m-2 1h0m3 0h0m-171 8h0m4 3h0" stroke="#f8b78f"/><path d="M464.5 273.5h0m66 4h0m32 0h0m-233 1h0m35 0h0m164 0h0m-181 1h0m206 0h0m-223 1h0m138 0h0m19 0h0m13 0h0m-38 1h0m39 0h0m44 0h0m7 0h0m-92 1h0m34 0h0m5 0h0m3 0h0m50 0h0m12 0h0m19 0h0m-81 1h0m50 0h0m1 0h0m-64 1h0m14 0h0m7 0h0m23 0h0m20 0h0m3 0h0m-93 1h0m31 0h0m2 0h0m8 0h0m5 0h0m44 0h0m1 0h0m-106 1h0m49 0h0m27 0h0m16 0h0m-164 1h0m96 0h0m23 0h0m4 0h0m29 0h0m-158 1h0m171 0h0m10 0h0m21 0h0m-202 1h0m1 0h0m88 0h0m52 0h0m29 0h0m34 0h0m-129 1h0m12 0h0m70 0h0m1 0h0m23 0h0m7 0h0m15 0h0m-203 1h0m81 0h0m14 0h0m60 0h0m3 0h0m-164 1h0m3 0h0m29 0h0m62 0h0m3 0h0m1 0h0m49 0h0m40 0h0m-189 1h0m38 0h0m8 0h0m49 0h0m2 0h0m1 0h0m49 0h0m20 0h0m-165 1h0m30 0h0m66 0h0m50 0h0m47 0h0m-57 1h0m6 0h0m10 0h0m-148 1h0m176 0h0m-184 1h0m6 0h0m6 0h0m75 0h0m93 0h0m-174 1h0m81 0h0m1 0h0m-84 1h0m1 0h0m-6 1h0m14 0h0m112 1h0m50 0h0m-160 1h0m8 0h0m98 0h0m-102 1h0m1 0h0m1 0h0m161 0h0m-159 1h0m160 0h0m10 0h0m-93 1h0m61 1h0m-145 1h0m166 0h0m0 1h0m-6 2h0m-162 2h0m118 0h0m-120 1h0m2 0h0m159 0h0m-155 1h0m1 0h0m155 0h0m-70 1h0m10 0h0m58 1h0m-75 1h0m16 0h0m9 0h0m-12 1h0m-84 1h0m84 0h0m7 0h0m-75 2h0m53 0h0m-50 1h0m1 0h0m42 0h0m16 0h0m-66 1h0m1 0h0m68 0h0m9 2h0m-76 1h0m3 0h0m68 0h0m58 0h0m8 0h0m-139 1h0m10 0h0m53 0h0m7 0h0m3 0h0m70 0h0m3 0h0m-137 1h0m134 0h0m-149 1h0m3 0h0m76 0h0m2 0h0m-77 1h0m-4 1h0m17 0h0m11 1h0m1 0h0m0 1h0m1 0h0m0 2h0m-1 1h0m69 1h0m63 0h0m-75 2h0m0 1h0m89 2h0m-25 3h0m-75 1h0m94 0h0m-15 1h0m12 2h0m25 7h0" stroke="#a9cfe4"/><path d="M560.5 274.5h0m-65 1h0m50 1h0m-19 2h0m-2 2h0m-57 1h0m58 0h0m28 0h0m-199 2h0m105 0h0m24 0h0m57 1h0m1 0h0m13 0h0m-208 1h0m25 2h0m105 2h0m48 0h0m-156 1h0m79 0h0m14 0h0m-92 2h0m28 0h0m2 0h0m68 0h0m59 0h0m18 0h0m-170 1h0m79 0h0m-56 1h0m111 0h0m33 0h0m-156 1h0m93 0h0m30 0h0m37 0h0m-2 1h0m-173 3h0m18 0h0m111 0h0m-125 1h0m12 0h0m135 0h0m-157 1h0m19 0h0m136 0h0m17 0h0m2 0h0m-170 1h0m81 0h0m-2 1h0m89 0h0m7 0h0m-86 1h0m1 0h0m-76 1h0m66 0h0m81 1h0m4 0h0m9 0h0m-5 1h0m-9 1h0m15 0h0m-18 1h0m4 0h0m2 0h0m-156 1h0m158 0h0m-159 4h0m161 1h0m-57 1h0m32 0h0m23 1h0m13 0h0m-158 2h0m8 0h0m4 1h0m78 0h0m-85 2h0m2 0h0m3 0h0m-2 1h0m6 0h0m2 0h0m138 0h0m-141 2h0m83 0h0m-78 1h0m5 0h0m1 0h0m-1 1h0m61 0h0m-61 2h0m70 0h0m-86 1h0m14 0h0m1 0h0m125 1h0m-141 1h0m15 0h0m-2 1h0m148 2h0m1 2h0m-155 2h0m6 1h0m136 2h0m-128 1h0m-11 1h0m5 0h0m154 2h0m-160 1h0m147 1h0m-147 1h0m159 0h0m4 2h0m-5 1h0m21 5h0m-185 1h0" stroke="#e9f3ba"/><path d="M519.5 275.5h0m-24 1h0m-131 1h0m129 0h0m67 0h0m-28 1h0m10 0h0m-213 1h0m13 0h0m123 0h0m124 0h0m-233 1h0m140 0h0m86 0h0m6 0h0m2 0h0m-126 1h0m30 0h0m1 0h0m84 0h0m8 0h0m-205 1h0m95 0h0m42 0h0m25 0h0m42 0h0m-257 1h0m27 0h0m8 0h0m108 0h0m12 0h0m-108 1h0m85 0h0m3 0h0m20 0h0m28 0h0m66 0h0m-247 1h0m4 0h0m141 0h0m2 0h0m2 0h0m5 0h0m25 0h0m1 0h0m3 0h0m34 0h0m21 0h0m-105 1h0m36 0h0m7 0h0m3 0h0m38 0h0m-198 1h0m137 0h0m13 0h0m13 0h0m2 0h0m4 0h0m2 0h0m2 0h0m24 0h0m2 0h0m-178 1h0m1 0h0m79 0h0m22 0h0m1 0h0m2 0h0m36 0h0m9 0h0m4 0h0m48 0h0m-98 1h0m11 0h0m12 0h0m10 0h0m14 0h0m-155 1h0m3 0h0m3 0h0m18 0h0m78 0h0m1 0h0m6 0h0m10 0h0m18 0h0m36 0h0m12 0h0m2 0h0m3 0h0m-188 1h0m98 0h0m20 0h0m15 0h0m5 0h0m15 0h0m30 0h0m3 0h0m-86 1h0m3 0h0m81 0h0m2 0h0m-184 1h0m15 0h0m83 0h0m34 0h0m28 0h0m-160 1h0m2 0h0m1 0h0m1 0h0m97 0h0m-99 1h0m30 0h0m57 0h0m1 0h0m46 0h0m36 0h0m-168 1h0m21 0h0m73 0h0m14 0h0m9 0h0m2 0h0m7 0h0m6 0h0m48 0h0m-182 1h0m15 0h0m7 0h0m55 0h0m55 0h0m2 0h0m-58 1h0m30 0h0m-95 1h0m67 0h0m38 0h0m50 0h0m-169 1h0m181 0h0m-159 1h0m140 0h0m-139 1h0m87 0h0m54 0h0m-164 1h0m15 0h0m138 0h0m-161 1h0m14 0h0m5 0h0m78 0h0m21 0h0m31 0h0m18 0h0m3 0h0m-149 1h0m98 0h0m1 0h0m39 0h0m3 0h0m19 0h0m-165 1h0m101 0h0m41 0h0m6 0h0m-155 1h0m1 0h0m132 0h0m18 0h0m2 0h0m15 0h0m5 0h0m1 0h0m-176 1h0m-3 1h0m4 0h0m2 0h0m133 0h0m36 0h0m-174 1h0m168 0h0m-159 1h0m154 0h0m1 0h0m4 0h0m-164 1h0m160 0h0m3 0h0m-25 1h0m27 0h0m-26 1h0m-33 2h0m58 0h0m-52 1h0m-18 2h0m8 0h0m1 0h0m-73 1h0m68 0h0m2 0h0m3 0h0m1 0h0m-7 1h0m2 0h0m2 0h0m16 0h0m1 0h0m-86 1h0m74 0h0m3 0h0m47 2h0m-127 1h0m128 0h0m1 0h0m-122 1h0m7 1h0m-14 1h0m68 0h0m-59 1h0m3 0h0m56 0h0m1 0h0m1 0h0m12 0h0m51 0h0m28 0h0m-146 1h0m52 0h0m92 0h0m-163 1h0m20 0h0m52 0h0m94 0h0m-169 1h0m19 0h0m56 0h0m97 0h0m-166 1h0m3 0h0m4 0h0m57 0h0m-66 1h0m85 0h0m-84 1h0m18 1h0m1 0h0m145 0h0m-143 1h0m0 1h0m135 0h0m-139 1h0m2 1h0m3 0h0m-4 1h0m1 0h0m57 0h0m-5 1h0m17 0h0m54 0h0m2 0h0m-70 1h0m1 0h0m1 0h0m4 0h0m63 0h0m27 0h0m-168 1h0m72 0h0m2 0h0m-69 1h0m63 0h0m6 0h0m1 0h0m-10 1h0m8 0h0m-75 1h0m2 0h0m6 0h0m68 0h0m1 0h0m-2 1h0m68 0h0m21 0h0m-160 1h0m6 0h0m157 0h0m-160 1h0m1 0h0m1 0h0m161 0h0m-164 1h0m-1 1h0m-1 1h0m-1 1h0m1 0h0m1 0h0m-7 1h0m168 0h0m17 2h0m-186 3h0m0 2h0m1 1h0" stroke="#f4a189"/><path d="M381.5 276.5h0m138 0h0m-23 1h0m41 0h0m3 0h0m23 0h0m-228 1h0m30 0h0m188 0h0m-214 1h0m47 0h0m115 0h0m80 0h0m-239 1h0m20 0h0m23 0h0m81 0h0m7 0h0m9 0h0m1 0h0m3 0h0m12 0h0m1 0h0m45 0h0m8 0h0m32 0h0m-221 1h0m14 0h0m86 0h0m17 0h0m5 0h0m13 0h0m5 0h0m14 0h0m54 0h0m-207 1h0m19 0h0m81 0h0m17 0h0m1 0h0m3 0h0m19 0h0m2 0h0m3 0h0m59 0h0m14 0h0m2 0h0m-111 1h0m9 0h0m21 0h0m68 0h0m8 0h0m5 0h0m-250 1h0m4 0h0m118 0h0m23 0h0m22 0h0m6 0h0m9 0h0m-32 1h0m24 0h0m14 0h0m56 0h0m-175 1h0m46 0h0m32 0h0m2 0h0m1 0h0m10 0h0m27 0h0m7 0h0m-125 1h0m47 0h0m31 0h0m26 0h0m19 0h0m-22 1h0m5 0h0m21 0h0m22 0h0m-151 1h0m59 0h0m11 0h0m1 0h0m32 0h0m3 0h0m16 0h0m22 0h0m6 0h0m-95 1h0m2 0h0m30 0h0m17 0h0m4 0h0m2 0h0m1 0h0m12 0h0m-121 1h0m58 0h0m31 0h0m21 0h0m1 0h0m12 0h0m4 0h0m20 0h0m4 0h0m2 0h0m-191 1h0m1 0h0m4 0h0m85 0h0m20 0h0m5 0h0m72 0h0m5 0h0m-188 1h0m107 0h0m40 0h0m41 0h0m-175 1h0m14 0h0m2 0h0m3 0h0m63 0h0m53 0h0m18 0h0m14 0h0m-167 1h0m17 0h0m110 0h0m1 0h0m7 0h0m6 0h0m-161 1h0m24 0h0m2 0h0m3 0h0m3 0h0m3 0h0m105 0h0m9 0h0m-130 1h0m5 0h0m125 0h0m38 0h0m1 0h0m2 0h0m-176 1h0m4 0h0m4 0h0m9 0h0m109 0h0m6 0h0m2 0h0m-137 1h0m77 0h0m32 0h0m4 0h0m16 0h0m5 0h0m3 0h0m-132 1h0m11 0h0m123 0h0m-127 1h0m123 0h0m2 0h0m11 0h0m-139 1h0m70 0h0m54 0h0m3 0h0m1 0h0m2 0h0m44 0h0m-174 1h0m72 0h0m57 0h0m1 0h0m22 0h0m-161 1h0m7 0h0m67 0h0m63 0h0m2 0h0m-133 1h0m129 0h0m1 0h0m3 0h0m32 0h0m-33 1h0m-141 1h0m138 0h0m13 0h0m9 0h0m13 0h0m-35 1h0m1 0h0m5 0h0m-145 1h0m4 0h0m139 0h0m16 0h0m-18 1h0m12 0h0m7 0h0m-157 1h0m139 0h0m17 0h0m4 0h0m-21 1h0m-115 1h0m2 0h0m114 0h0m-1 1h0m3 0h0m1 0h0m1 0h0m-58 1h0m8 0h0m44 0h0m-129 1h0m88 0h0m19 0h0m45 0h0m-58 1h0m12 0h0m25 0h0m-126 1h0m56 0h0m20 0h0m16 0h0m2 0h0m3 0h0m2 0h0m47 0h0m1 0h0m-61 1h0m10 0h0m30 0h0m-68 1h0m38 0h0m47 0h0m-132 1h0m2 0h0m55 0h0m27 0h0m-77 1h0m139 0h0m-146 1h0m91 0h0m-86 1h0m4 0h0m1 0h0m1 0h0m1 0h0m130 0h0m-144 1h0m12 0h0m1 0h0m2 0h0m56 1h0m11 0h0m7 0h0m61 0h0m-139 1h0m1 0h0m72 0h0m-82 1h0m1 0h0m11 0h0m51 0h0m1 0h0m16 0h0m-72 1h0m1 0h0m2 0h0m13 0h0m43 0h0m-65 1h0m7 0h0m17 0h0m39 0h0m4 0h0m-59 1h0m13 0h0m1 0h0m51 0h0m93 0h0m-157 1h0m62 0h0m-65 2h0m17 0h0m-21 3h0m1 2h0m63 1h0m21 0h0m71 0h0m9 0h0m-163 1h0m4 0h0m2 0h0m1 0h0m136 0h0m-140 1h0m1 0h0m1 0h0m9 0h0m128 0h0m21 0h0m2 0h0m-159 1h0m55 0h0m23 0h0m57 0h0m21 0h0m1 0h0m-161 1h0m2 0h0m1 0h0m6 0h0m54 0h0m7 0h0m1 0h0m1 0h0m64 0h0m2 0h0m25 0h0m1 0h0m1 0h0m-4 1h0m1 0h0m-169 1h0m6 0h0m5 0h0m157 0h0m-98 1h0m74 0h0m3 0h0m22 0h0m1 0h0m1 0h0m-26 1h0m5 0h0m13 0h0m5 0h0m-24 1h0m20 1h0m-166 1h0m164 0h0m-155 1h0m157 0h0m-159 1h0m-1 2h0m163 0h0m-171 3h0m1 0h0m0 1h0m4 0h0m-4 2h0" stroke="#f08489"/><path d="M382.5 276.5h0m162 1h0m1 0h0m1 0h0m-218 1h0m145 0h0m72 0h0m1 0h0m5 0h0m-224 1h0m139 0h0m85 0h0m-72 1h0m11 0h0m75 0h0m9 0h0m3 0h0m-220 1h0m1 0h0m-21 1h0m23 0h0m131 0h0m21 0h0m-174 1h0m17 0h0m4 0h0m-24 1h0m185 0h0m27 0h0m-189 1h0m1 0h0m10 0h0m143 0h0m34 0h0m1 0h0m12 0h0m6 0h0m-199 1h0m2 0h0m2 0h0m162 0h0m23 0h0m-186 1h0m145 0h0m13 0h0m5 0h0m-14 1h0m20 0h0m-24 1h0m4 0h0m55 0h0m-204 1h0m25 0h0m116 0h0m3 0h0m1 0h0m41 0h0m-159 1h0m115 0h0m4 0h0m18 0h0m-152 1h0m10 0h0m95 0h0m-90 1h0m2 0h0m1 0h0m109 0h0m18 0h0m29 0h0m-198 1h0m96 0h0m79 0h0m1 0h0m1 0h0m-76 1h0m6 0h0m69 0h0m-23 1h0m26 0h0m-156 1h0m74 0h0m79 0h0m2 0h0m8 0h0m-165 1h0m1 0h0m67 0h0m52 0h0m11 0h0m-150 1h0m3 0h0m134 0h0m-119 1h0m10 0h0m63 0h0m56 0h0m53 0h0m-196 1h0m14 0h0m3 0h0m-1 1h0m2 0h0m-6 1h0m2 0h0m-9 1h0m166 0h0m-167 1h0m14 0h0m-12 1h0m8 0h0m-4 1h0m4 0h0m153 1h0m13 1h0m-11 1h0m-148 2h0m0 1h0m143 0h0m4 0h0m-156 1h0m8 0h0m149 0h0m-70 1h0m3 0h0m65 0h0m-146 1h0m82 0h0m17 0h0m-19 1h0m-4 2h0m29 0h0m-84 1h0m58 0h0m7 0h0m58 0h0m-128 1h0m6 0h0m142 0h0m-141 1h0m59 0h0m3 0h0m-62 1h0m66 0h0m68 0h0m-140 1h0m66 0h0m3 0h0m4 0h0m-65 1h0m53 0h0m2 0h0m17 0h0m-90 1h0m19 0h0m70 0h0m50 0h0m-66 1h0m90 0h0m-161 1h0m10 0h0m59 0h0m1 0h0m11 0h0m6 0h0m-73 1h0m60 0h0m5 0h0m87 0h0m3 1h0m-144 1h0m45 0h0m-68 1h0m7 0h0m15 3h0m3 1h0m62 1h0m72 0h0m-149 1h0m143 0h0m16 1h0m-161 3h0m12 0h0m50 0h0m-49 1h0m153 0h0m-2 1h0m-167 1h0m1 0h0m5 0h0m63 0h0m1 0h0m99 0h0m1 0h0m-169 2h0m1 0h0m145 0h0m-147 1h0m1 0h0m-1 1h0m5 2h0m-10 4h0m0 1h0m2 0h0m-1 1h0" stroke="#fac896"/><path d="M515.5 276.5h0m-182 2h0m238 0h0m-16 2h0m-178 2h0m-6 1h0m168 0h0m-2 1h0m1 0h0m-62 2h0m-81 1h0m64 0h0m32 0h0m-4 1h0m4 0h0m-93 2h0m58 13h0m24 9h0m75 30h0m-88 3h0" stroke="#e0efa0"/><path d="M521.5 276.5h0m-3 3h0m24 1h0m-71 1h0m17 0h0m3 0h0m8 0h0m-129 1h0m119 1h0m46 1h0m-134 2h0m109 3h0m-131 2h0m126 2h0m-3 2h0m-22 5h0m9 4h0m-32 12h0m-1 1h0m-3 3h0m1 0h0m22 15h0m-12 5h0m94 0h0m-8 1h0m12 1h0" stroke="#faca77"/><path d="M373.5 277.5h0m143 0h0m6 0h0m42 0h0m-234 1h0m181 0h0m55 0h0m4 0h0m-238 1h0m5 0h0m162 0h0m-150 1h0m128 0h0m38 0h0m25 0h0m11 0h0m-39 1h0m3 0h0m19 0h0m-33 1h0m52 0h0m14 0h0m-67 1h0m-28 1h0m85 0h0m2 0h0m-73 1h0m1 0h0m3 0h0m3 0h0m7 0h0m-108 1h0m1 0h0m102 0h0m6 1h0m-107 1h0m87 0h0m74 0h0m-173 1h0m63 0h0m19 0h0m24 0h0m17 0h0m-110 1h0m88 0h0m-29 1h0m40 1h0m5 0h0m-40 2h0m19 0h0m8 0h0m8 1h0m-35 2h0m28 0h0m6 0h0m-17 2h0m-12 1h0m12 0h0m2 0h0m6 1h0m11 0h0m16 0h0m1 0h0m-34 1h0m1 2h0m-25 12h0m10 2h0m-6 1h0m5 0h0m-5 1h0m2 0h0m13 2h0m-14 1h0m19 12h0m-3 1h0m2 2h0m-6 1h0m4 0h0m-6 1h0m-5 1h0m3 0h0m0 1h0m1 0h0m3 0h0m-3 1h0m91 0h0m-89 1h0m84 1h0m1 0h0m7 1h0m-15 2h0m9 0h0m1 0h0" stroke="#f69c66"/><path d="M494.5 277.5h0m-107 1h0m83 0h0m104 0h0m-192 1h0m116 0h0m-169 1h0m14 0h0m39 0h0m6 0h0m75 0h0m25 0h0m4 0h0m5 0h0m48 0h0m24 0h0m-241 1h0m2 0h0m26 0h0m133 0h0m8 0h0m44 0h0m-184 1h0m136 0h0m-165 1h0m159 0h0m5 0h0m2 0h0m2 0h0m1 0h0m21 0h0m-125 1h0m90 0h0m31 0h0m69 0h0m-210 2h0m145 0h0m-153 1h0m98 0h0m95 0h0m-154 1h0m-36 1h0m1 0h0m6 0h0m2 0h0m142 0h0m-141 1h0m2 0h0m127 0h0m16 0h0m2 0h0m9 0h0m16 0h0m10 0h0m-56 1h0m4 0h0m15 0h0m-144 1h0m181 0h0m-204 1h0m5 0h0m17 0h0m2 0h0m74 0h0m7 0h0m49 0h0m-130 1h0m20 0h0m107 0h0m2 0h0m20 0h0m9 0h0m-158 1h0m16 0h0m115 0h0m-128 1h0m74 0h0m104 0h0m-185 1h0m166 0h0m2 0h0m-9 1h0m-164 1h0m9 0h0m131 0h0m26 0h0m3 0h0m2 0h0m-38 1h0m25 0h0m11 0h0m2 0h0m-167 1h0m134 0h0m-129 1h0m75 0h0m85 0h0m-50 1h0m43 0h0m-160 2h0m-6 2h0m144 0h0m17 3h0m2 0h0m-139 1h0m-18 1h0m94 4h0m-2 1h0m64 0h0m5 0h0m-131 3h0m73 0h0m-75 1h0m127 0h0m1 0h0m-133 1h0m3 0h0m1 0h0m77 1h0m-79 1h0m1 0h0m80 0h0m5 0h0m-6 1h0m61 0h0m-147 2h0m13 0h0m70 0h0m57 0h0m-122 1h0m3 0h0m145 0h0m2 1h0m-80 3h0m-56 1h0m-3 1h0m-16 1h0m15 0h0m43 0h0m93 0h0m-149 2h0m14 0h0m-6 1h0m134 0h0m-136 1h0m135 0h0m6 0h0m2 0h0m-6 1h0m-144 1h0m135 0h0m-137 1h0m137 0h0m-74 1h0m73 0h0m-134 1h0m135 1h0m1 1h0m22 0h0m3 0h0m3 1h0m-168 1h0m1 0h0m139 0h0m21 0h0m-152 1h0m149 1h0m1 1h0m3 0h0m-162 1h0m-6 10h0" stroke="#fbd99c"/><path d="M506.5 277.5h0m4 0h0m-4 1h0m1 0h0m5 0h0m1 0h0m45 0h0m1 0h0m-54 1h0m1 0h0m3 0h0m1 0h0m1 0h0m1 0h0m33 0h0m7 0h0m4 0h0m5 0h0m-244 1h0m190 0h0m1 0h0m1 0h0m2 0h0m1 0h0m25 0h0m21 0h0m-242 1h0m31 0h0m6 0h0m116 0h0m40 0h0m12 0h0m33 0h0m6 0h0m4 0h0m-218 1h0m137 0h0m25 0h0m31 0h0m15 0h0m-206 1h0m28 0h0m156 0h0m10 0h0m-192 1h0m178 0h0m-134 1h0m3 0h0m1 0h0m-3 1h0m4 0h0m-38 1h0m2 0h0m31 0h0m3 0h0m2 0h0m1 0h0m1 0h0m-37 1h0m1 0h0m1 0h0m14 0h0m15 0h0m2 0h0m1 0h0m1 0h0m1 0h0m2 0h0m-44 1h0m2 0h0m2 0h0m3 0h0m1 0h0m29 0h0m1 0h0m1 0h0m1 0h0m-35 1h0m1 0h0m1 0h0m31 0h0m88 0h0m-123 1h0m7 1h0m117 5h0m-10 3h0m-9 17h0m-6 1h0m-4 1h0m5 0h0m-6 1h0m4 0h0m2 0h0m-3 1h0m4 0h0m2 0h0m10 1h0m-13 1h0m2 2h0m-2 1h0m1 0h0m14 14h0m-1 1h0m81 4h0" stroke="#69a9d8"/><path d="M511.5 277.5h0m10 1h0m-1 1h0m-51 1h0m22 0h0m2 0h0m12 0h0m1 0h0m35 0h0m23 0h0m-59 1h0m2 0h0m13 0h0m-24 1h0m-102 2h0m-1 1h0m-8 3h0m-21 1h0m113 0h0m-84 1h0m84 0h0m4 0h0m-12 1h0m6 0h0m1 0h0m29 0h0m-28 1h0m2 0h0m10 0h0m-16 1h0m2 0h0m25 0h0m-34 1h0m8 0h0m1 0h0m1 0h0m12 0h0m1 0h0m-24 1h0m-19 2h0m43 1h0m-27 6h0m-6 1h0m29 0h0m8 0h0m16 2h0m-23 10h0m-24 3h0m-2 1h0m9 12h0m4 1h0m-6 1h0m2 0h0m6 0h0m-6 1h0m4 3h0m-7 1h0m2 0h0m86 0h0m2 0h0m-85 3h0m-2 1h0m4 0h0m93 0h0m-93 1h0m75 2h0m9 2h0" stroke="#eb565d"/><path d="M512.5 277.5h0m1 0h0m1 0h0m10 0h0m-9 1h0m1 0h0m3 0h0m-24 1h0m19 0h0m5 0h0m-151 1h0m5 0h0m1 0h0m140 0h0m6 0h0m36 0h0m-190 1h0m7 0h0m2 0h0m-1 1h0m140 0h0m41 0h0m-188 1h0m110 0h0m-110 1h0m1 0h0m108 0h0m81 1h0m-195 2h0m109 3h0m-1 4h0m7 5h0m25 1h0m-44 18h0m1 1h0m0 2h0m4 1h0m0 2h0m0 2h0m-1 13h0m105 4h0" stroke="#fae67e"/><path d="M517.5 277.5h0m1 1h0m6 0h0m-186 1h0m45 0h0m133 0h0m-177 1h0m207 0h0m-162 1h0m109 0h0m7 0h0m77 0h0m-239 1h0m188 0h0m24 0h0m27 0h0m-99 1h0m3 0h0m-4 1h0m-112 1h0m0 1h0m2 0h0m94 0h0m1 0h0m43 0h0m3 0h0m-25 1h0m69 0h0m24 0h0m-171 1h0m72 0h0m26 0h0m23 0h0m-59 1h0m39 0h0m3 0h0m-3 1h0m29 0h0m-154 1h0m26 0h0m63 0h0m18 0h0m55 0h0m-169 1h0m2 0h0m-13 1h0m93 0h0m57 0h0m-144 1h0m88 0h0m-79 1h0m1 0h0m14 0h0m133 0h0m5 0h0m26 0h0m-111 1h0m82 2h0m8 0h0m2 0h0m-2 1h0m-89 1h0m2 0h0m87 0h0m7 0h0m17 0h0m-181 1h0m126 0h0m21 0h0m-6 3h0m19 1h0m-174 1h0m157 0h0m9 1h0m1 0h0m2 4h0m-95 5h0m72 0h0m-55 2h0m17 0h0m-75 2h0m70 0h0m-25 1h0m39 0h0m-81 1h0m129 1h0m-64 1h0m-74 1h0m145 0h0m-143 1h0m3 1h0m13 0h0m-4 1h0m2 0h0m11 1h0m137 0h0m-139 2h0m2 0h0m46 0h0m-52 1h0m4 0h0m46 0h0m-70 1h0m20 3h0m63 1h0m68 3h0m-57 1h0m57 0h0m17 2h0m-96 2h0m-66 1h0m1 0h0m1 0h0m73 0h0m85 2h0m-153 1h0m1 3h0m-11 4h0m2 7h0" stroke="#fbeda1"/><path d="M526.5 277.5h0m1 0h0m-4 1h0m60 0h0m-66 1h0m7 0h0m60 0h0m-59 1h0m-198 1h0m37 0h0m30 0h0m-31 1h0m134 0h0m25 0h0m-11 1h0m62 0h0m-208 1h0m14 0h0m108 0h0m19 0h0m18 0h0m24 0h0m-180 1h0m159 0h0m1 0h0m51 0h0m-218 1h0m128 0h0m-109 1h0m145 0h0m4 0h0m26 0h0m-27 1h0m-121 1h0m82 0h0m36 0h0m3 0h0m-124 1h0m-49 1h0m100 0h0m74 0h0m28 0h0m2 0h0m-176 1h0m1 0h0m-19 1h0m3 0h0m190 0h0m-163 1h0m4 0h0m-18 1h0m13 0h0m1 0h0m120 0h0m41 1h0m-7 4h0m-96 1h0m75 1h0m4 0h0m3 0h0m2 0h0m13 0h0m-19 1h0m-152 1h0m157 0h0m-162 1h0m3 0h0m1 0h0m156 0h0m-161 1h0m163 0h0m-165 2h0m146 1h0m-143 2h0m159 0h0m-37 2h0m17 0h0m1 0h0m-38 3h0m-2 1h0m1 1h0m36 0h0m-36 3h0m4 1h0m1 1h0m3 0h0m-3 1h0m-82 1h0m75 2h0m-74 2h0m-2 1h0m74 0h0m-76 1h0m2 0h0m4 0h0m-5 1h0m74 1h0m-57 2h0m-19 1h0m18 0h0m0 1h0m5 1h0m-1 1h0m-4 1h0m145 1h0m2 0h0m-141 1h0m141 0h0m9 3h0m-25 1h0m1 0h0m-3 1h0m3 1h0m1 1h0m21 0h0m20 2h0m-192 10h0m3 2h0" stroke="#faf7a9"/><path d="M533.5 277.5h0m39 1h0m-242 1h0m180 1h0m61 0h0m-239 1h0m196 1h0m6 0h0m-46 1h0m46 0h0m27 1h0m-74 2h0m-15 2h0m-7 1h0m37 3h0m1 7h0m-1 7h0m-33 9h0m-8 2h0m3 2h0m-8 2h0m14 22h0m84 1h0m7 5h0" stroke="#a5d2c7"/><path d="M535.5 277.5h0m-67 1h0m75 0h0m30 0h0m-71 1h0m27 0h0m56 0h0m1 0h0m1 0h0m-273 1h0m167 0h0m-16 1h0m120 0h0m1 0h0m-258 1h0m158 0h0m-17 1h0m5 1h0m8 0h0m70 0h0m-27 1h0m-29 1h0m15 0h0m1 0h0m26 0h0m21 0h0m-191 1h0m142 0h0m26 0h0m39 0h0m-92 1h0m25 0h0m32 0h0m10 0h0m-89 1h0m7 0h0m1 0h0m64 0h0m8 0h0m-165 1h0m13 0h0m73 0h0m41 0h0m23 0h0m-160 1h0m137 0h0m3 0h0m52 0h0m-180 1h0m134 0h0m2 0h0m-3 1h0m4 0h0m-145 1h0m82 0h0m102 0h0m8 0h0m-183 2h0m173 0h0m1 0h0m-176 2h0m161 2h0m-173 1h0m82 1h0m88 1h0m-153 1h0m64 0h0m-57 1h0m134 1h0m14 0h0m-30 1h0m27 0h0m-157 1h0m133 0h0m29 0h0m-6 1h0m7 0h0m-169 1h0m4 1h0m133 0h0m29 0h0m-27 2h0m1 0h0m17 0h0m6 2h0m-148 1h0m84 0h0m-8 1h0m5 0h0m-8 1h0m28 1h0m-90 1h0m60 0h0m31 0h0m-84 1h0m1 0h0m66 0h0m-63 1h0m-8 1h0m-3 3h0m2 0h0m9 0h0m-14 1h0m1 1h0m9 0h0m7 0h0m-14 1h0m64 0h0m5 0h0m-55 2h0m2 0h0m9 0h0m-9 2h0m137 3h0m-139 1h0m-7 1h0m14 0h0m2 1h0m-7 1h0m1 1h0m128 2h0m16 0h0m-91 1h0m73 0h0m-132 2h0m-2 2h0m1 3h0m-12 6h0m187 1h0m-186 2h0" stroke="#bdded6"/><path d="M326.5 278.5h0m191 0h0m12 0h0m-29 1h0m7 0h0m26 0h0m5 0h0m1 0h0m-37 1h0m17 0h0m15 0h0m1 0h0m-69 1h0m48 0h0m21 0h0m2 0h0m1 0h0m1 0h0m-194 1h0m155 0h0m38 0h0m18 0h0m-43 1h0m2 0h0m16 0h0m7 0h0m20 0h0m2 0h0m-24 1h0m3 0h0m21 0h0m-68 1h0m14 0h0m-43 1h0m89 0h0m-88 1h0m6 1h0m23 0h0m-30 1h0m-97 1h0m-3 2h0m116 1h0m3 5h0m-1 5h0m-23 14h0m-1 2h0m-1 3h0m1 0h0m1 0h0m2 0h0m-2 1h0m7 1h0m7 9h0m74 15h0" stroke="#8abdda"/><path d="M331.5 278.5h0m205 0h0m21 0h0m-54 1h0m34 0h0m5 0h0m12 0h0m-222 1h0m164 1h0m25 1h0m-29 2h0m-131 6h0m4 1h0m98 0h0m-3 5h0m49 0h0m-26 3h0m28 3h0m-44 31h0m10 10h0" stroke="#c0e1ac"/><path d="M332.5 278.5h0m182 0h0m53 0h0m-196 1h0m-1 2h0m4 0h0" stroke="#f6a24d"/><path d="M336.5 278.5h0m37 0h0m-45 1h0m5 0h0m15 0h0m21 0h0m153 0h0m42 0h0m2 0h0m-235 1h0m4 0h0m12 0h0m16 0h0m6 0h0m3 0h0m4 0h0m177 0h0m1 0h0m-178 1h0m-9 1h0m5 0h0m3 0h0m-10 1h0m5 0h0m3 0h0m4 0h0m109 0h0m70 0h0m1 0h0m-186 1h0m1 0h0m183 0h0m3 0h0m-183 2h0m118 0h0m65 0h0m2 0h0m-29 1h0m-69 2h0m18 0h0m13 0h0m0 2h0m12 8h0m-24 5h0m9 0h0m-29 12h0m-4 5h0m14 1h0m-14 1h0m5 0h0m2 0h0m6 0h0m-6 1h0m2 1h0m-4 2h0m5 12h0m7 0h0m-8 2h0m92 3h0" stroke="#f8b46f"/><path d="M508.5 278.5h0m47 3h0" stroke="#8fc8b9"/><path d="M510.5 278.5h0m47 4h0" stroke="#e62e37"/><path d="M520.5 278.5h0m-12 1h0m5 0h0m-196 2h0m1 0h0m241 0h0m-210 2h0m47 3h0m1 0h0m1 0h0m-2 1h0m2 0h0m-35 1h0m33 0h0m-33 1h0m-1 1h0m112 48h0m-2 1h0" stroke="#4595cf"/><path d="M522.5 278.5h0m1 1h0m2 0h0m-160 1h0m10 0h0m146 0h0m1 0h0m1 0h0m-156 1h0m1 1h0m190 0h0m-190 1h0m193 2h0m-179 2h0m110 0h0m45 0h0m-153 1h0m2 0h0m121 0h0m-124 1h0m2 0h0m-2 1h0m1 0h0m1 0h0m1 0h0m-4 1h0m3 0h0m12 0h0m-12 1h0m97 8h0m7 5h0m1 11h0m65 32h0" stroke="#f9f48a"/><path d="M537.5 278.5h0m28 1h0m-217 1h0m165 0h0m5 0h0m-157 1h0m198 1h0m1 0h0m6 0h0m-69 2h0m-16 1h0m36 0h0m-42 1h0m5 0h0m-7 1h0m2 0h0m1 0h0m2 0h0m2 0h0m10 0h0m18 0h0m-24 1h0m4 0h0m1 0h0m1 0h0m-109 1h0m92 0h0m1 0h0m9 0h0m9 0h0m2 0h0m-12 1h0m3 0h0m2 0h0m2 0h0m-9 1h0m2 0h0m2 0h0m1 0h0m4 0h0m-21 1h0m2 0h0m1 0h0m11 0h0m5 0h0m1 0h0m-18 1h0m12 0h0m5 0h0m-20 1h0m15 0h0m2 0h0m1 0h0m10 0h0m8 3h0m-27 1h0m10 0h0m-6 1h0m1 1h0m0 1h0m9 0h0m-8 1h0m-2 1h0m4 1h0m3 4h0m18 0h0m-48 10h0m10 1h0m-11 1h0m3 2h0m8 6h0m1 6h0m1 0h0m-1 2h0m3 0h0m2 0h0m-5 1h0m1 0h0m6 0h0m-8 1h0m9 0h0m-7 1h0m6 1h0m84 0h0m-91 1h0m1 0h0m1 0h0m1 0h0m1 0h0m1 0h0m-1 1h0m1 0h0m1 0h0m-3 2h0m89 5h0" stroke="#f07e5d"/><path d="M357.5 279.5h0m147 0h0m45 0h0m-47 2h0m-144 1h0m145 0h0m2 0h0m-30 1h0m49 0h0m23 0h0m38 0h0m-92 1h0m29 0h0m-162 1h0m16 0h0m175 2h0m-41 1h0m13 0h0m-147 1h0m88 1h0m26 0h0m57 0h0m-173 1h0m4 0h0m80 0h0m4 0h0m62 0h0m-164 1h0m2 0h0m18 0h0m15 0h0m3 0h0m126 0h0m26 0h0m-193 1h0m40 0h0m135 0h0m20 0h0m-171 1h0m2 0h0m10 0h0m70 0h0m65 0h0m-152 1h0m21 0h0m106 3h0m3 1h0m-1 1h0m-21 2h0m40 2h0m-136 2h0m138 4h0m8 0h0m-5 1h0m-48 6h0m-90 3h0m1 1h0m139 2h0m-120 2h0m-9 2h0m65 0h0m17 0h0m73 1h0m-137 1h0m137 0h0m-140 1h0m1 0h0m57 1h0m62 0h0m-133 1h0m20 0h0m-22 2h0m16 2h0m-4 3h0m0 1h0m62 2h0m-78 3h0m79 0h0m-75 1h0m70 0h0m-63 1h0m-1 3h0" stroke="#d1e9c2"/><path d="M538.5 280.5h0m-166 1h0" stroke="#b1da98"/><path d="M557.5 280.5h0m-209 1h0m188 0h0m-1 1h0m2 0h0m-1 1h0m23 0h0m-84 55h0" stroke="#6eaed1"/><path d="M349.5 281.5h0m22 1h0m2 0h0m22 3h0m-34 4h0" stroke="#f9e060"/><path d="M558.5 281.5h0m-88 56h0m2 0h0m1 0h0m-3 1h0m1 0h0m1 0h0m1 0h0m-2 2h0m2 0h0" stroke="#ed6037"/><path d="M394.5 286.5h0m76 53h0m2 1h0" stroke="#f48542"/><path d="M395.5 269.5h0m1 0h0m21 0h0m1 0h0m4 0h0m1 0h0m2 0h0m2 0h0m6 0h0m1 0h0m1 0h0m-38 1h0m6 0h0m3 0h0m1 0h0m2 0h0m3 0h0m2 0h0m4 0h0m14 0h0m2 0h0m3 0h0m3 0h0m-45 1h0m2 0h0m1 0h0m-2 1h0m5 1h0m3 0h0m33 0h0m-38 1h0m2 0h0m4 0h0m3 1h0m28 0h0m-27 1h0m26 0h0m-38 1h0m38 0h0m-38 1h0m14 0h0m1 0h0m19 0h0m1 0h0m-32 1h0m1 0h0m11 0h0m15 0h0m2 0h0m1 0h0m-5 1h0m1 0h0m9 0h0m-32 1h0m8 0h0m13 0h0m10 0h0m1 0h0m2 0h0m5 0h0m-44 1h0m14 0h0m1 0h0m21 0h0m6 0h0m-44 1h0m1 0h0m5 0h0m-6 1h0m2 0h0m20 0h0m2 0h0" stroke="#b4b4b4"/><path d="M378.5 270.5h0m5 0h0m2 0h0m1 0h0m3 0h0m137 0h0m3 0h0m-148 1h0m81 0h0m7 0h0m1 0h0m-92 1h0m2 0h0m2 0h0m1 0h0m10 0h0m72 0h0m1 0h0m62 0h0m2 0h0m1 0h0m1 0h0m-156 1h0m14 0h0m2 0h0m75 0h0m32 0h0m33 0h0m2 0h0m1 0h0m-171 1h0m3 0h0m1 0h0m3 0h0m13 0h0m142 0h0m2 0h0m8 0h0m22 0h0m3 0h0m1 0h0m4 0h0m-210 1h0m4 0h0m3 0h0m2 0h0m11 0h0m3 0h0m4 0h0m113 0h0m1 0h0m21 0h0m21 0h0m24 0h0m-208 1h0m11 0h0m13 0h0m5 0h0m5 0h0m105 0h0m2 0h0m10 0h0m7 0h0m50 0h0m-232 1h0m2 0h0m2 0h0m22 0h0m3 0h0m7 0h0m12 0h0m4 0h0m5 0h0m84 0h0m3 0h0m20 0h0m8 0h0m67 0h0m3 0h0m-246 1h0m7 0h0m4 0h0m2 0h0m3 0h0m9 0h0m11 0h0m5 0h0m17 0h0m4 0h0m1 0h0m4 0h0m80 0h0m29 0h0m73 0h0m1 0h0m7 0h0m3 0h0m-274 1h0m3 0h0m37 0h0m1 0h0m6 0h0m5 0h0m7 0h0m1 0h0m2 0h0m3 0h0m9 0h0m76 0h0m1 0h0m14 0h0m13 0h0m1 0h0m2 0h0m3 0h0m-181 1h0m3 0h0m41 0h0m4 0h0m-45 1h0m3 0h0m68 0h0m3 0h0m89 0h0m-156 1h0m142 0h0m2 0h0m10 0h0m4 0h0m-160 1h0m1 0h0m131 0h0m1 0h0m9 0h0m106 0h0m17 0h0m-253 1h0m1 0h0m2 0h0m1 0h0m1 0h0m233 0h0m-246 1h0m8 0h0m6 0h0m1 0h0m1 0h0m226 0h0m-237 1h0m15 0h0m1 0h0m0 1h0m2 1h0m0 1h0m1 0h0m2 3h0m1 0h0m45 66h0m1 1h0m-7 3h0m5 1h0m-1 1h0m1 0h0m1 0h0m1 0h0" stroke="#c4c4c4"/></g>
<rect x="313.45" y="260.10" width="281.75" height="112.00" fill="none" stroke="#3a3a3a" stroke-width="1.25"/>
<text transform="translate(307.95,278.40) scale(1.2,1) rotate(-90)" class="h" font-size="7.0" font-weight="bold" text-anchor="middle" textLength="14.40" lengthAdjust="spacingAndGlyphs">70<tspan font-size="5.6" dy="-0.6">°</tspan><tspan dy="0.6">N</tspan></text>
<text transform="translate(307.95,305.94) scale(1.2,1) rotate(-90)" class="h" font-size="7.0" font-weight="bold" text-anchor="middle" textLength="14.40" lengthAdjust="spacingAndGlyphs">30<tspan font-size="5.6" dy="-0.6">°</tspan><tspan dy="0.6">N</tspan></text>
<text transform="translate(307.95,333.49) scale(1.2,1) rotate(-90)" class="h" font-size="7.0" font-weight="bold" text-anchor="middle" textLength="14.40" lengthAdjust="spacingAndGlyphs">10<tspan font-size="5.6" dy="-0.6">°</tspan><tspan dy="0.6">S</tspan></text>
<text transform="translate(307.95,361.03) scale(1.2,1) rotate(-90)" class="h" font-size="7.0" font-weight="bold" text-anchor="middle" textLength="14.40" lengthAdjust="spacingAndGlyphs">50<tspan font-size="5.6" dy="-0.6">°</tspan><tspan dy="0.6">S</tspan></text>
<path d="M310.55 278.40H313.45M310.55 305.94H313.45M310.55 333.49H313.45M310.55 361.03H313.45M310.55 264.63H313.45" stroke="#3a3a3a" stroke-width="1.1" fill="none"/>
<text x="313.70" y="381.30" font-size="7.0" font-weight="bold" text-anchor="middle" textLength="15.20" lengthAdjust="spacingAndGlyphs">180<tspan font-size="5.6" dy="-0.6">°</tspan><tspan dy="0.6"></tspan></text>
<text x="344.46" y="381.30" font-size="7.0" font-weight="bold" text-anchor="middle" textLength="22.14" lengthAdjust="spacingAndGlyphs">140<tspan font-size="5.6" dy="-0.6">°</tspan><tspan dy="0.6">W</tspan></text>
<text x="375.21" y="381.30" font-size="7.0" font-weight="bold" text-anchor="middle" textLength="22.14" lengthAdjust="spacingAndGlyphs">100<tspan font-size="5.6" dy="-0.6">°</tspan><tspan dy="0.6">W</tspan></text>
<text x="405.97" y="381.30" font-size="7.0" font-weight="bold" text-anchor="middle" textLength="18.05" lengthAdjust="spacingAndGlyphs">60<tspan font-size="5.6" dy="-0.6">°</tspan><tspan dy="0.6">W</tspan></text>
<text x="436.72" y="381.30" font-size="7.0" font-weight="bold" text-anchor="middle" textLength="18.05" lengthAdjust="spacingAndGlyphs">20<tspan font-size="5.6" dy="-0.6">°</tspan><tspan dy="0.6">W</tspan></text>
<text x="467.48" y="381.30" font-size="7.0" font-weight="bold" text-anchor="middle" textLength="16.02" lengthAdjust="spacingAndGlyphs">20<tspan font-size="5.6" dy="-0.6">°</tspan><tspan dy="0.6">E</tspan></text>
<text x="498.24" y="381.30" font-size="7.0" font-weight="bold" text-anchor="middle" textLength="16.02" lengthAdjust="spacingAndGlyphs">60<tspan font-size="5.6" dy="-0.6">°</tspan><tspan dy="0.6">E</tspan></text>
<text x="528.99" y="381.30" font-size="7.0" font-weight="bold" text-anchor="middle" textLength="20.10" lengthAdjust="spacingAndGlyphs">100<tspan font-size="5.6" dy="-0.6">°</tspan><tspan dy="0.6">E</tspan></text>
<text x="559.75" y="381.30" font-size="7.0" font-weight="bold" text-anchor="middle" textLength="20.10" lengthAdjust="spacingAndGlyphs">140<tspan font-size="5.6" dy="-0.6">°</tspan><tspan dy="0.6">E</tspan></text>
<text x="590.50" y="381.30" font-size="7.0" font-weight="bold" text-anchor="middle" textLength="15.20" lengthAdjust="spacingAndGlyphs">180<tspan font-size="5.6" dy="-0.6">°</tspan><tspan dy="0.6"></tspan></text>
<path d="M313.70 372.10V374.70M344.46 372.10V374.70M375.21 372.10V374.70M405.97 372.10V374.70M436.72 372.10V374.70M467.48 372.10V374.70M498.24 372.10V374.70M528.99 372.10V374.70M559.75 372.10V374.70M590.50 372.10V374.70" stroke="#3a3a3a" stroke-width="1" fill="none"/>
<text x="321.85" y="271.70" font-size="9.6" font-weight="bold" textLength="11.90" lengthAdjust="spacingAndGlyphs">(f)</text>
<path d="M584.80 266.30L580.10 278.20L584.80 274.50Z" fill="#111"/>
<path d="M584.80 266.30L589.50 278.20L584.80 274.50Z" fill="#fff" stroke="#111" stroke-width="0.75" stroke-linejoin="round"/>
<text x="584.10" y="263.85" font-size="5.0" font-weight="bold" text-anchor="middle">N</text>
<rect x="449.60" y="364.20" width="69.40" height="2.9" fill="#000"/>
<rect x="467.50" y="364.65" width="16.5" height="2.0" fill="#f4f4f4" stroke="#9a9a9a" stroke-width="0.5"/>
<text x="449.70" y="361.60" class="l" font-size="5.0" text-anchor="middle" fill="#222">0</text>
<text x="467.00" y="361.60" class="l" font-size="5.0" text-anchor="middle" textLength="15.00" lengthAdjust="spacingAndGlyphs" fill="#222">2,500</text>
<text x="484.10" y="361.60" class="l" font-size="5.0" text-anchor="middle" textLength="14.10" lengthAdjust="spacingAndGlyphs" fill="#222">5,000</text>
<text x="518.00" y="361.60" class="l" font-size="5.0" text-anchor="middle" textLength="18.00" lengthAdjust="spacingAndGlyphs" fill="#222">10,000</text>
<text x="520.50" y="367.35" class="l" font-size="5.3" font-weight="bold" textLength="30.20" lengthAdjust="spacingAndGlyphs" fill="#111">Kilometers</text>
<rect x="327.00" y="337.28" width="4.15" height="23.42" fill="#4b9fd5"/>
<rect x="332.12" y="348.69" width="4.15" height="12.01" fill="#16507e"/>
<rect x="337.24" y="350.97" width="4.15" height="9.73" fill="#7cc242"/>
<rect x="342.36" y="352.34" width="4.15" height="8.36" fill="#1f7a2b"/>
<rect x="347.48" y="350.36" width="4.15" height="10.34" fill="#f5222b"/>
<rect x="352.60" y="351.27" width="4.15" height="9.43" fill="#a31218"/>
<rect x="357.72" y="351.58" width="4.15" height="9.12" fill="#fb9526"/>
<rect x="362.84" y="352.64" width="4.15" height="8.06" fill="#c9b3d9"/>
<rect x="367.96" y="350.06" width="4.15" height="10.64" fill="#a9561a"/>
<rect x="373.08" y="349.75" width="4.15" height="10.95" fill="#3c1f6e"/>
<rect x="378.20" y="345.34" width="4.15" height="15.36" fill="#f9ef2b"/>
<rect x="383.32" y="342.00" width="4.15" height="18.70" fill="#6e3513"/>
<path d="M326.30 334.70V360.70H388.80" fill="none" stroke="#222" stroke-width="0.8"/>
<text x="324.90" y="362.00" class="m" font-size="3.6" font-weight="bold" text-anchor="end" fill="#111">0</text>
<text x="324.90" y="354.40" class="m" font-size="3.6" font-weight="bold" text-anchor="end" fill="#111">5</text>
<text x="324.90" y="346.80" class="m" font-size="3.6" font-weight="bold" text-anchor="end" fill="#111">10</text>
<text x="324.90" y="339.19" class="m" font-size="3.6" font-weight="bold" text-anchor="end" fill="#111">15</text>
<text x="334.19" y="365.50" class="m" font-size="3.4" font-weight="bold" text-anchor="middle" fill="#111">2</text>
<text x="344.43" y="365.50" class="m" font-size="3.4" font-weight="bold" text-anchor="middle" fill="#111">4</text>
<text x="354.67" y="365.50" class="m" font-size="3.4" font-weight="bold" text-anchor="middle" fill="#111">6</text>
<text x="364.91" y="365.50" class="m" font-size="3.4" font-weight="bold" text-anchor="middle" fill="#111">8</text>
<text x="375.15" y="365.50" class="m" font-size="3.4" font-weight="bold" text-anchor="middle" fill="#111">10</text>
<text x="385.39" y="365.50" class="m" font-size="3.4" font-weight="bold" text-anchor="middle" fill="#111">12</text>
<path d="M325.10 360.70H326.30M325.10 353.10H326.30M325.10 345.50H326.30M325.10 337.89H326.30M334.19 360.70V361.70M344.43 360.70V361.70M354.67 360.70V361.70M364.91 360.70V361.70M375.15 360.70V361.70M385.39 360.70V361.70" stroke="#333" stroke-width="0.5" fill="none"/>
<text x="356.50" y="369.70" class="m" font-size="4.9" font-weight="bold" text-anchor="middle" textLength="14.80" lengthAdjust="spacingAndGlyphs" fill="#1a1a1a">Month</text>
<text transform="translate(319.40,349.30) scale(1.2,1) rotate(-90)" class="m" font-size="3.9" font-weight="bold" text-anchor="middle" textLength="30.00" lengthAdjust="spacingAndGlyphs" fill="#111">Percentage (%)</text>
<rect x="73.70" y="384.5" width="19.80" height="3.8" fill="#2a8ccb" stroke="#8a8a8a" stroke-width="0.35"/>
<rect x="93.50" y="384.5" width="19.50" height="3.8" fill="#6aaeb8" stroke="#8a8a8a" stroke-width="0.35"/>
<rect x="113.00" y="384.5" width="18.90" height="3.8" fill="#a5cf8a" stroke="#8a8a8a" stroke-width="0.35"/>
<rect x="131.90" y="384.5" width="19.40" height="3.8" fill="#ecf06a" stroke="#8a8a8a" stroke-width="0.35"/>
<rect x="151.30" y="384.5" width="19.30" height="3.8" fill="#fbd34a" stroke="#8a8a8a" stroke-width="0.35"/>
<rect x="170.60" y="384.5" width="19.40" height="3.8" fill="#f79a3a" stroke="#8a8a8a" stroke-width="0.35"/>
<rect x="190.00" y="384.5" width="19.40" height="3.8" fill="#f2602a" stroke="#8a8a8a" stroke-width="0.35"/>
<rect x="209.40" y="384.5" width="18.90" height="3.8" fill="#e4141c" stroke="#8a8a8a" stroke-width="0.35"/>
<text x="77.30" y="395.00" class="l" font-size="5.2" font-weight="bold" text-anchor="middle" textLength="16.10" lengthAdjust="spacingAndGlyphs" fill="#333">- 1.00</text>
<text x="94.20" y="395.00" class="l" font-size="5.2" font-weight="bold" text-anchor="middle" textLength="15.40" lengthAdjust="spacingAndGlyphs" fill="#333">- 0.80</text>
<text x="114.00" y="395.00" class="l" font-size="5.2" font-weight="bold" text-anchor="middle" textLength="15.90" lengthAdjust="spacingAndGlyphs" fill="#333">- 0.60</text>
<text x="132.50" y="395.00" class="l" font-size="5.2" font-weight="bold" text-anchor="middle" textLength="15.40" lengthAdjust="spacingAndGlyphs" fill="#333">- 0.40</text>
<text x="151.20" y="395.00" class="l" font-size="5.2" font-weight="bold" text-anchor="middle" textLength="3.40" lengthAdjust="spacingAndGlyphs" fill="#333">0</text>
<text x="171.60" y="395.00" class="l" font-size="5.2" font-weight="bold" text-anchor="middle" textLength="12.10" lengthAdjust="spacingAndGlyphs" fill="#333">0.40</text>
<text x="190.00" y="395.00" class="l" font-size="5.2" font-weight="bold" text-anchor="middle" textLength="12.40" lengthAdjust="spacingAndGlyphs" fill="#333">0.60</text>
<text x="208.70" y="395.00" class="l" font-size="5.2" font-weight="bold" text-anchor="middle" textLength="11.90" lengthAdjust="spacingAndGlyphs" fill="#333">0.80</text>
<text x="226.30" y="395.00" class="l" font-size="5.2" font-weight="bold" text-anchor="middle" textLength="11.10" lengthAdjust="spacingAndGlyphs" fill="#333">1.00</text>
<rect x="365.80" y="385.3" width="15.46" height="3.7" fill="#2c86c8" stroke="#9a9a9a" stroke-width="0.35"/>
<text x="373.53" y="396.20" class="l" font-size="5.4" font-weight="bold" text-anchor="middle" fill="#222">1</text>
<rect x="381.26" y="385.3" width="15.46" height="3.7" fill="#5aa3cb" stroke="#9a9a9a" stroke-width="0.35"/>
<text x="388.99" y="396.20" class="l" font-size="5.4" font-weight="bold" text-anchor="middle" fill="#222">2</text>
<rect x="396.72" y="385.3" width="15.46" height="3.7" fill="#80c0b0" stroke="#9a9a9a" stroke-width="0.35"/>
<text x="404.45" y="396.20" class="l" font-size="5.4" font-weight="bold" text-anchor="middle" fill="#222">3</text>
<rect x="412.18" y="385.3" width="15.46" height="3.7" fill="#a6d58a" stroke="#9a9a9a" stroke-width="0.35"/>
<text x="419.90" y="396.20" class="l" font-size="5.4" font-weight="bold" text-anchor="middle" fill="#222">4</text>
<rect x="427.63" y="385.3" width="15.46" height="3.7" fill="#d4e87a" stroke="#9a9a9a" stroke-width="0.35"/>
<text x="435.36" y="396.20" class="l" font-size="5.4" font-weight="bold" text-anchor="middle" fill="#222">5</text>
<rect x="443.09" y="385.3" width="15.46" height="3.7" fill="#f6f05a" stroke="#9a9a9a" stroke-width="0.35"/>
<text x="450.82" y="396.20" class="l" font-size="5.4" font-weight="bold" text-anchor="middle" fill="#222">6</text>
<rect x="458.55" y="385.3" width="15.46" height="3.7" fill="#f8dc4a" stroke="#9a9a9a" stroke-width="0.35"/>
<text x="466.28" y="396.20" class="l" font-size="5.4" font-weight="bold" text-anchor="middle" fill="#222">7</text>
<rect x="474.01" y="385.3" width="15.46" height="3.7" fill="#f8b540" stroke="#9a9a9a" stroke-width="0.35"/>
<text x="481.74" y="396.20" class="l" font-size="5.4" font-weight="bold" text-anchor="middle" fill="#222">8</text>
<rect x="489.47" y="385.3" width="15.46" height="3.7" fill="#f59535" stroke="#9a9a9a" stroke-width="0.35"/>
<text x="497.20" y="396.20" class="l" font-size="5.4" font-weight="bold" text-anchor="middle" fill="#222">9</text>
<rect x="504.92" y="385.3" width="15.46" height="3.7" fill="#f27428" stroke="#9a9a9a" stroke-width="0.35"/>
<text x="512.65" y="396.20" class="l" font-size="5.4" font-weight="bold" text-anchor="middle" fill="#222">10</text>
<rect x="520.38" y="385.3" width="15.46" height="3.7" fill="#ea4a1c" stroke="#9a9a9a" stroke-width="0.35"/>
<text x="528.11" y="396.20" class="l" font-size="5.4" font-weight="bold" text-anchor="middle" fill="#222">11</text>
<rect x="535.84" y="385.3" width="15.46" height="3.7" fill="#e3121c" stroke="#9a9a9a" stroke-width="0.35"/>
<text x="543.57" y="396.20" class="l" font-size="5.4" font-weight="bold" text-anchor="middle" fill="#222">12</text>
</svg></body></html>
